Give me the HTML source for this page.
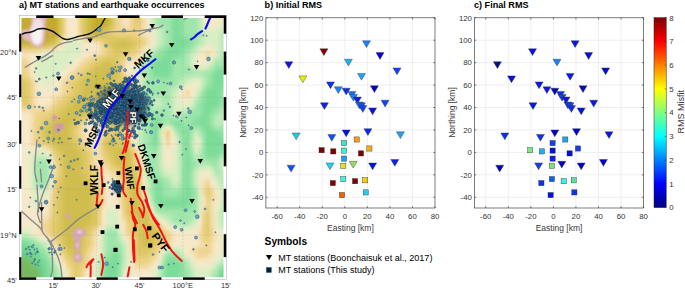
<!DOCTYPE html>
<html><head><meta charset="utf-8"><style>
html,body{margin:0;padding:0;background:#fff;}
body{width:685px;height:288px;overflow:hidden;position:relative;}
svg{position:absolute;left:0;top:0;}
text{font-family:"Liberation Sans",sans-serif;}
.ti{font-weight:bold;font-size:9.1px;fill:#000;}
.tk{font-size:7.8px;fill:#333;}
.lb{font-size:8.5px;fill:#3a3a3a;}
.sy{font-weight:bold;font-size:10.2px;fill:#000;}
.lg{font-size:9.05px;fill:#000;}
.mt{font-size:7.5px;fill:#333;}
</style></head><body>
<svg width="685" height="288" viewBox="0 0 685 288">
<defs><filter id="tb" x="-5%" y="-5%" width="110%" height="110%"><feGaussianBlur stdDeviation="1.6"/></filter><filter id="pb" x="-20%" y="-20%" width="140%" height="140%"><feGaussianBlur stdDeviation="0.85"/></filter><filter id="cb" x="-20%" y="-20%" width="140%" height="140%"><feGaussianBlur stdDeviation="2.5"/></filter><clipPath id="mc"><rect x="21.5" y="18.0" width="202.0" height="259.2"/></clipPath></defs><rect x="19" y="15.2" width="207.3" height="264.7" fill="#fff"/><rect x="19.0" y="277.2" width="17.2" height="2.8" fill="#000"/><rect x="36.2" y="15.2" width="17.3" height="2.8" fill="#000"/><rect x="53.5" y="277.2" width="21.7" height="2.8" fill="#000"/><rect x="75.2" y="15.2" width="21.4" height="2.8" fill="#000"/><rect x="96.6" y="277.2" width="21.2" height="2.8" fill="#000"/><rect x="117.8" y="15.2" width="21.7" height="2.8" fill="#000"/><rect x="139.5" y="277.2" width="21.9" height="2.8" fill="#000"/><rect x="161.4" y="15.2" width="21.6" height="2.8" fill="#000"/><rect x="183.0" y="277.2" width="21.7" height="2.8" fill="#000"/><rect x="204.7" y="15.2" width="21.6" height="2.8" fill="#000"/><rect x="223.5" y="18.0" width="2.8" height="15.7" fill="#000"/><rect x="19" y="33.7" width="2.6" height="17.9" fill="#000"/><rect x="223.5" y="51.6" width="2.8" height="23.0" fill="#000"/><rect x="19" y="74.6" width="2.6" height="22.5" fill="#000"/><rect x="223.5" y="97.1" width="2.8" height="23.3" fill="#000"/><rect x="19" y="120.4" width="2.6" height="23.3" fill="#000"/><rect x="223.5" y="143.8" width="2.8" height="22.5" fill="#000"/><rect x="19" y="166.2" width="2.6" height="22.5" fill="#000"/><rect x="223.5" y="188.8" width="2.8" height="23.2" fill="#000"/><rect x="19" y="211.9" width="2.6" height="22.3" fill="#000"/><rect x="223.5" y="234.2" width="2.8" height="22.9" fill="#000"/><rect x="19" y="257.2" width="2.6" height="20.0" fill="#000"/><rect x="19.15" y="15.35" width="207" height="264.4" fill="none" stroke="#777" stroke-width="0.35"/><g clip-path="url(#mc)"><g filter="url(#tb)"><path d="M14 262h4v4h-4zM18 262h4v4h-4zM22 262h4v4h-4zM26 262h4v4h-4zM14 266h4v4h-4zM18 266h4v4h-4zM22 266h4v4h-4zM26 266h4v4h-4zM14 270h4v4h-4zM18 270h4v4h-4zM22 270h4v4h-4zM26 270h4v4h-4zM30 270h4v4h-4zM34 270h4v4h-4zM14 274h4v4h-4zM18 274h4v4h-4zM22 274h4v4h-4zM26 274h4v4h-4zM30 274h4v4h-4zM34 274h4v4h-4zM226 274h4v4h-4zM230 274h4v4h-4zM14 278h4v4h-4zM18 278h4v4h-4zM22 278h4v4h-4zM26 278h4v4h-4zM30 278h4v4h-4zM34 278h4v4h-4zM226 278h4v4h-4zM230 278h4v4h-4zM14 282h4v4h-4zM18 282h4v4h-4zM22 282h4v4h-4zM26 282h4v4h-4zM30 282h4v4h-4zM34 282h4v4h-4zM226 282h4v4h-4zM230 282h4v4h-4z" fill="#78b95f"/><path d="M14 258h4v4h-4zM18 258h4v4h-4zM22 258h4v4h-4zM30 266h4v4h-4zM226 270h4v4h-4zM230 270h4v4h-4z" fill="#76be69"/><path d="M26 258h4v4h-4zM30 262h4v4h-4zM34 266h4v4h-4zM38 274h4v4h-4zM38 278h4v4h-4zM38 282h4v4h-4z" fill="#73c373"/><path d="M14 254h4v4h-4zM18 254h4v4h-4zM22 254h4v4h-4zM26 254h4v4h-4zM30 258h4v4h-4zM34 262h4v4h-4zM38 270h4v4h-4z" fill="#70c87d"/><path d="M14 250h4v4h-4zM18 250h4v4h-4zM22 250h4v4h-4zM38 266h4v4h-4zM222 274h4v4h-4zM222 278h4v4h-4zM222 282h4v4h-4z" fill="#6ecd87"/><path d="M26 250h4v4h-4zM30 254h4v4h-4zM34 258h4v4h-4zM38 262h4v4h-4zM222 270h4v4h-4z" fill="#71d18b"/><path d="M14 246h4v4h-4zM18 246h4v4h-4zM22 246h4v4h-4zM26 246h4v4h-4zM30 250h4v4h-4zM34 254h4v4h-4zM38 258h4v4h-4zM42 266h4v4h-4zM226 266h4v4h-4zM230 266h4v4h-4zM42 270h4v4h-4zM42 274h4v4h-4zM42 278h4v4h-4zM42 282h4v4h-4z" fill="#74d490"/><path d="M42 262h4v4h-4z" fill="#77d894"/><path d="M174 10h4v4h-4zM174 14h4v4h-4zM174 18h4v4h-4zM174 22h4v4h-4zM174 26h4v4h-4zM174 30h4v4h-4zM174 34h4v4h-4zM174 38h4v4h-4zM178 38h4v4h-4zM174 42h4v4h-4zM178 42h4v4h-4zM182 42h4v4h-4zM174 46h4v4h-4zM166 50h4v4h-4zM170 50h4v4h-4zM174 50h4v4h-4zM166 54h4v4h-4zM162 58h4v4h-4zM166 58h4v4h-4zM154 62h4v4h-4zM158 62h4v4h-4zM162 62h4v4h-4zM166 62h4v4h-4zM154 66h4v4h-4zM158 66h4v4h-4zM162 66h4v4h-4zM166 66h4v4h-4zM154 70h4v4h-4zM158 70h4v4h-4zM162 70h4v4h-4zM166 70h4v4h-4zM218 70h4v4h-4zM222 70h4v4h-4zM226 70h4v4h-4zM230 70h4v4h-4zM214 74h4v4h-4zM218 74h4v4h-4zM222 74h4v4h-4zM226 74h4v4h-4zM230 74h4v4h-4zM214 78h4v4h-4zM218 78h4v4h-4zM222 78h4v4h-4zM226 78h4v4h-4zM230 78h4v4h-4zM214 82h4v4h-4zM218 82h4v4h-4zM222 82h4v4h-4zM226 82h4v4h-4zM230 82h4v4h-4zM214 86h4v4h-4zM206 90h4v4h-4zM210 90h4v4h-4zM214 90h4v4h-4zM206 94h4v4h-4zM210 94h4v4h-4zM214 94h4v4h-4zM206 98h4v4h-4zM210 98h4v4h-4zM214 98h4v4h-4zM206 102h4v4h-4zM210 102h4v4h-4zM214 102h4v4h-4zM206 106h4v4h-4zM206 110h4v4h-4zM202 118h4v4h-4zM154 122h4v4h-4zM202 122h4v4h-4zM154 126h4v4h-4zM206 126h4v4h-4zM154 130h4v4h-4zM206 130h4v4h-4zM210 130h4v4h-4zM154 134h4v4h-4zM206 134h4v4h-4zM210 134h4v4h-4zM214 134h4v4h-4zM154 138h4v4h-4zM206 138h4v4h-4zM210 138h4v4h-4zM214 138h4v4h-4zM218 138h4v4h-4zM206 142h4v4h-4zM210 142h4v4h-4zM214 142h4v4h-4zM218 142h4v4h-4zM222 142h4v4h-4zM226 142h4v4h-4zM230 142h4v4h-4zM206 146h4v4h-4zM210 146h4v4h-4zM214 146h4v4h-4zM206 150h4v4h-4zM210 150h4v4h-4zM214 150h4v4h-4zM186 162h4v4h-4zM186 190h4v4h-4zM186 194h4v4h-4zM158 198h4v4h-4zM182 198h4v4h-4zM186 198h4v4h-4zM158 202h4v4h-4zM162 202h4v4h-4zM166 202h4v4h-4zM170 202h4v4h-4zM174 202h4v4h-4zM178 202h4v4h-4zM182 202h4v4h-4zM14 242h4v4h-4zM18 242h4v4h-4zM22 242h4v4h-4zM26 242h4v4h-4zM30 246h4v4h-4zM34 250h4v4h-4zM38 254h4v4h-4zM114 254h4v4h-4zM42 258h4v4h-4zM114 258h4v4h-4zM106 262h4v4h-4zM110 262h4v4h-4zM114 262h4v4h-4zM166 262h4v4h-4zM170 262h4v4h-4zM174 262h4v4h-4zM106 266h4v4h-4zM110 266h4v4h-4zM114 266h4v4h-4zM166 266h4v4h-4zM170 266h4v4h-4zM174 266h4v4h-4zM222 266h4v4h-4zM46 270h4v4h-4zM106 270h4v4h-4zM110 270h4v4h-4zM114 270h4v4h-4zM166 270h4v4h-4zM170 270h4v4h-4zM174 270h4v4h-4zM46 274h4v4h-4zM106 274h4v4h-4zM110 274h4v4h-4zM114 274h4v4h-4zM166 274h4v4h-4zM170 274h4v4h-4zM174 274h4v4h-4zM218 274h4v4h-4zM46 278h4v4h-4zM106 278h4v4h-4zM110 278h4v4h-4zM114 278h4v4h-4zM166 278h4v4h-4zM170 278h4v4h-4zM174 278h4v4h-4zM218 278h4v4h-4zM46 282h4v4h-4zM106 282h4v4h-4zM110 282h4v4h-4zM114 282h4v4h-4zM166 282h4v4h-4zM170 282h4v4h-4zM174 282h4v4h-4zM218 282h4v4h-4z" fill="#7adc98"/><path d="M178 10h4v4h-4zM178 14h4v4h-4zM178 18h4v4h-4zM178 22h4v4h-4zM178 26h4v4h-4zM178 30h4v4h-4zM178 34h4v4h-4zM182 38h4v4h-4zM186 38h4v4h-4zM186 42h4v4h-4zM170 46h4v4h-4zM178 46h4v4h-4zM182 46h4v4h-4zM178 50h4v4h-4zM162 54h4v4h-4zM170 54h4v4h-4zM174 54h4v4h-4zM158 58h4v4h-4zM170 58h4v4h-4zM214 70h4v4h-4zM154 74h4v4h-4zM158 74h4v4h-4zM162 74h4v4h-4zM166 74h4v4h-4zM210 86h4v4h-4zM218 86h4v4h-4zM222 86h4v4h-4zM218 90h4v4h-4zM218 94h4v4h-4zM218 98h4v4h-4zM202 102h4v4h-4zM202 106h4v4h-4zM210 106h4v4h-4zM202 110h4v4h-4zM202 114h4v4h-4zM206 114h4v4h-4zM154 118h4v4h-4zM194 118h4v4h-4zM198 118h4v4h-4zM206 118h4v4h-4zM174 122h4v4h-4zM178 122h4v4h-4zM194 122h4v4h-4zM198 122h4v4h-4zM206 122h4v4h-4zM202 126h4v4h-4zM182 130h4v4h-4zM186 130h4v4h-4zM214 130h4v4h-4zM186 134h4v4h-4zM218 134h4v4h-4zM186 138h4v4h-4zM222 138h4v4h-4zM226 138h4v4h-4zM230 138h4v4h-4zM154 142h4v4h-4zM186 142h4v4h-4zM186 146h4v4h-4zM218 146h4v4h-4zM222 146h4v4h-4zM186 150h4v4h-4zM218 150h4v4h-4zM186 154h4v4h-4zM206 154h4v4h-4zM210 154h4v4h-4zM214 154h4v4h-4zM186 158h4v4h-4zM186 166h4v4h-4zM186 170h4v4h-4zM186 174h4v4h-4zM186 178h4v4h-4zM154 182h4v4h-4zM158 182h4v4h-4zM186 182h4v4h-4zM154 186h4v4h-4zM158 186h4v4h-4zM186 186h4v4h-4zM154 190h4v4h-4zM158 190h4v4h-4zM182 190h4v4h-4zM154 194h4v4h-4zM158 194h4v4h-4zM182 194h4v4h-4zM154 198h4v4h-4zM162 198h4v4h-4zM166 198h4v4h-4zM170 198h4v4h-4zM174 198h4v4h-4zM178 198h4v4h-4zM186 202h4v4h-4zM114 250h4v4h-4zM110 254h4v4h-4zM106 258h4v4h-4zM110 258h4v4h-4zM166 258h4v4h-4zM170 258h4v4h-4zM174 258h4v4h-4zM46 262h4v4h-4zM178 262h4v4h-4zM46 266h4v4h-4zM178 266h4v4h-4zM178 270h4v4h-4zM218 270h4v4h-4zM178 274h4v4h-4zM178 278h4v4h-4zM178 282h4v4h-4z" fill="#84de9d"/><path d="M170 10h4v4h-4zM170 14h4v4h-4zM170 18h4v4h-4zM170 22h4v4h-4zM170 26h4v4h-4zM170 30h4v4h-4zM170 34h4v4h-4zM182 34h4v4h-4zM170 38h4v4h-4zM170 42h4v4h-4zM190 42h4v4h-4zM166 46h4v4h-4zM186 46h4v4h-4zM162 50h4v4h-4zM158 54h4v4h-4zM178 54h4v4h-4zM154 58h4v4h-4zM150 62h4v4h-4zM170 62h4v4h-4zM150 66h4v4h-4zM170 66h4v4h-4zM218 66h4v4h-4zM222 66h4v4h-4zM226 66h4v4h-4zM230 66h4v4h-4zM150 70h4v4h-4zM170 70h4v4h-4zM210 74h4v4h-4zM210 78h4v4h-4zM210 82h4v4h-4zM206 86h4v4h-4zM226 86h4v4h-4zM230 86h4v4h-4zM202 94h4v4h-4zM202 98h4v4h-4zM218 102h4v4h-4zM214 106h4v4h-4zM210 110h4v4h-4zM198 114h4v4h-4zM158 118h4v4h-4zM150 122h4v4h-4zM158 122h4v4h-4zM190 122h4v4h-4zM150 126h4v4h-4zM178 126h4v4h-4zM182 126h4v4h-4zM186 126h4v4h-4zM210 126h4v4h-4zM150 130h4v4h-4zM202 130h4v4h-4zM218 130h4v4h-4zM150 134h4v4h-4zM182 134h4v4h-4zM222 134h4v4h-4zM150 138h4v4h-4zM182 138h4v4h-4zM150 142h4v4h-4zM182 142h4v4h-4zM154 146h4v4h-4zM182 146h4v4h-4zM226 146h4v4h-4zM230 146h4v4h-4zM182 150h4v4h-4zM182 154h4v4h-4zM182 158h4v4h-4zM182 162h4v4h-4zM190 162h4v4h-4zM182 166h4v4h-4zM182 170h4v4h-4zM182 174h4v4h-4zM154 178h4v4h-4zM158 178h4v4h-4zM182 178h4v4h-4zM182 182h4v4h-4zM182 186h4v4h-4zM190 190h4v4h-4zM162 194h4v4h-4zM178 194h4v4h-4zM190 194h4v4h-4zM190 198h4v4h-4zM154 202h4v4h-4zM190 202h4v4h-4zM158 206h4v4h-4zM162 206h4v4h-4zM166 206h4v4h-4zM170 206h4v4h-4zM174 206h4v4h-4zM178 206h4v4h-4zM182 206h4v4h-4zM186 206h4v4h-4zM14 238h4v4h-4zM18 238h4v4h-4zM22 238h4v4h-4zM30 242h4v4h-4zM34 246h4v4h-4zM114 246h4v4h-4zM38 250h4v4h-4zM110 250h4v4h-4zM42 254h4v4h-4zM118 254h4v4h-4zM46 258h4v4h-4zM118 258h4v4h-4zM102 262h4v4h-4zM102 266h4v4h-4zM50 270h4v4h-4zM102 270h4v4h-4zM50 274h4v4h-4zM102 274h4v4h-4zM162 274h4v4h-4zM50 278h4v4h-4zM102 278h4v4h-4zM162 278h4v4h-4zM50 282h4v4h-4zM102 282h4v4h-4zM162 282h4v4h-4z" fill="#8de1a2"/><path d="M182 10h4v4h-4zM182 14h4v4h-4zM182 18h4v4h-4zM182 22h4v4h-4zM182 26h4v4h-4zM182 30h4v4h-4zM186 34h4v4h-4zM190 34h4v4h-4zM190 38h4v4h-4zM166 42h4v4h-4zM162 46h4v4h-4zM158 50h4v4h-4zM182 50h4v4h-4zM154 54h4v4h-4zM182 54h4v4h-4zM150 58h4v4h-4zM174 58h4v4h-4zM178 58h4v4h-4zM214 66h4v4h-4zM210 70h4v4h-4zM150 74h4v4h-4zM170 74h4v4h-4zM150 78h4v4h-4zM154 78h4v4h-4zM158 78h4v4h-4zM162 78h4v4h-4zM166 78h4v4h-4zM170 78h4v4h-4zM206 82h4v4h-4zM202 90h4v4h-4zM222 90h4v4h-4zM222 94h4v4h-4zM222 98h4v4h-4zM198 102h4v4h-4zM222 102h4v4h-4zM198 106h4v4h-4zM218 106h4v4h-4zM198 110h4v4h-4zM214 110h4v4h-4zM150 114h4v4h-4zM154 114h4v4h-4zM158 114h4v4h-4zM190 114h4v4h-4zM194 114h4v4h-4zM210 114h4v4h-4zM150 118h4v4h-4zM162 118h4v4h-4zM170 118h4v4h-4zM174 118h4v4h-4zM178 118h4v4h-4zM190 118h4v4h-4zM210 118h4v4h-4zM170 122h4v4h-4zM182 122h4v4h-4zM186 122h4v4h-4zM174 126h4v4h-4zM190 126h4v4h-4zM198 126h4v4h-4zM178 130h4v4h-4zM222 130h4v4h-4zM202 134h4v4h-4zM226 134h4v4h-4zM230 134h4v4h-4zM202 138h4v4h-4zM202 142h4v4h-4zM150 146h4v4h-4zM202 146h4v4h-4zM202 150h4v4h-4zM222 150h4v4h-4zM190 154h4v4h-4zM202 154h4v4h-4zM218 154h4v4h-4zM190 158h4v4h-4zM206 158h4v4h-4zM210 158h4v4h-4zM214 158h4v4h-4zM190 166h4v4h-4zM154 174h4v4h-4zM162 182h4v4h-4zM162 186h4v4h-4zM190 186h4v4h-4zM162 190h4v4h-4zM178 190h4v4h-4zM166 194h4v4h-4zM170 194h4v4h-4zM174 194h4v4h-4zM190 206h4v4h-4zM26 238h4v4h-4zM34 242h4v4h-4zM38 246h4v4h-4zM110 246h4v4h-4zM42 250h4v4h-4zM118 250h4v4h-4zM106 254h4v4h-4zM166 254h4v4h-4zM170 254h4v4h-4zM174 254h4v4h-4zM178 258h4v4h-4zM118 262h4v4h-4zM162 262h4v4h-4zM182 262h4v4h-4zM226 262h4v4h-4zM230 262h4v4h-4zM50 266h4v4h-4zM118 266h4v4h-4zM162 266h4v4h-4zM182 266h4v4h-4zM118 270h4v4h-4zM162 270h4v4h-4zM182 270h4v4h-4zM182 274h4v4h-4zM182 278h4v4h-4zM182 282h4v4h-4z" fill="#96e4a7"/><path d="M158 10h4v4h-4zM162 10h4v4h-4zM166 10h4v4h-4zM186 10h4v4h-4zM190 10h4v4h-4zM194 10h4v4h-4zM158 14h4v4h-4zM162 14h4v4h-4zM166 14h4v4h-4zM186 14h4v4h-4zM190 14h4v4h-4zM194 14h4v4h-4zM158 18h4v4h-4zM162 18h4v4h-4zM166 18h4v4h-4zM186 18h4v4h-4zM190 18h4v4h-4zM194 18h4v4h-4zM158 22h4v4h-4zM162 22h4v4h-4zM166 22h4v4h-4zM186 22h4v4h-4zM190 22h4v4h-4zM194 22h4v4h-4zM166 26h4v4h-4zM186 26h4v4h-4zM190 26h4v4h-4zM194 26h4v4h-4zM166 30h4v4h-4zM186 30h4v4h-4zM190 30h4v4h-4zM194 30h4v4h-4zM226 30h4v4h-4zM230 30h4v4h-4zM166 34h4v4h-4zM194 34h4v4h-4zM226 34h4v4h-4zM230 34h4v4h-4zM166 38h4v4h-4zM194 38h4v4h-4zM226 38h4v4h-4zM230 38h4v4h-4zM194 42h4v4h-4zM226 42h4v4h-4zM230 42h4v4h-4zM190 46h4v4h-4zM226 46h4v4h-4zM230 46h4v4h-4zM186 50h4v4h-4zM226 50h4v4h-4zM230 50h4v4h-4zM226 54h4v4h-4zM230 54h4v4h-4zM182 58h4v4h-4zM222 58h4v4h-4zM226 58h4v4h-4zM230 58h4v4h-4zM146 62h4v4h-4zM174 62h4v4h-4zM178 62h4v4h-4zM182 62h4v4h-4zM214 62h4v4h-4zM218 62h4v4h-4zM222 62h4v4h-4zM226 62h4v4h-4zM230 62h4v4h-4zM146 66h4v4h-4zM174 66h4v4h-4zM178 66h4v4h-4zM182 66h4v4h-4zM186 66h4v4h-4zM146 70h4v4h-4zM174 70h4v4h-4zM178 70h4v4h-4zM182 70h4v4h-4zM186 70h4v4h-4zM190 70h4v4h-4zM206 70h4v4h-4zM146 74h4v4h-4zM174 74h4v4h-4zM178 74h4v4h-4zM206 74h4v4h-4zM146 78h4v4h-4zM174 78h4v4h-4zM206 78h4v4h-4zM146 82h4v4h-4zM150 82h4v4h-4zM154 82h4v4h-4zM158 82h4v4h-4zM162 82h4v4h-4zM166 82h4v4h-4zM170 82h4v4h-4zM174 82h4v4h-4zM146 86h4v4h-4zM150 86h4v4h-4zM154 86h4v4h-4zM158 86h4v4h-4zM162 86h4v4h-4zM166 86h4v4h-4zM202 86h4v4h-4zM146 90h4v4h-4zM150 90h4v4h-4zM154 90h4v4h-4zM158 90h4v4h-4zM162 90h4v4h-4zM166 90h4v4h-4zM226 90h4v4h-4zM230 90h4v4h-4zM146 94h4v4h-4zM162 94h4v4h-4zM166 94h4v4h-4zM226 94h4v4h-4zM230 94h4v4h-4zM146 98h4v4h-4zM166 98h4v4h-4zM198 98h4v4h-4zM226 98h4v4h-4zM230 98h4v4h-4zM146 102h4v4h-4zM166 102h4v4h-4zM226 102h4v4h-4zM230 102h4v4h-4zM146 106h4v4h-4zM166 106h4v4h-4zM194 106h4v4h-4zM146 110h4v4h-4zM150 110h4v4h-4zM154 110h4v4h-4zM158 110h4v4h-4zM162 110h4v4h-4zM166 110h4v4h-4zM190 110h4v4h-4zM194 110h4v4h-4zM146 114h4v4h-4zM162 114h4v4h-4zM166 114h4v4h-4zM182 114h4v4h-4zM186 114h4v4h-4zM146 118h4v4h-4zM166 118h4v4h-4zM182 118h4v4h-4zM186 118h4v4h-4zM146 122h4v4h-4zM162 122h4v4h-4zM210 122h4v4h-4zM226 122h4v4h-4zM230 122h4v4h-4zM146 126h4v4h-4zM158 126h4v4h-4zM194 126h4v4h-4zM214 126h4v4h-4zM218 126h4v4h-4zM222 126h4v4h-4zM226 126h4v4h-4zM230 126h4v4h-4zM146 130h4v4h-4zM190 130h4v4h-4zM226 130h4v4h-4zM230 130h4v4h-4zM146 134h4v4h-4zM178 134h4v4h-4zM146 138h4v4h-4zM146 142h4v4h-4zM146 146h4v4h-4zM146 150h4v4h-4zM150 150h4v4h-4zM154 150h4v4h-4zM190 150h4v4h-4zM226 150h4v4h-4zM230 150h4v4h-4zM146 154h4v4h-4zM150 154h4v4h-4zM154 154h4v4h-4zM146 158h4v4h-4zM150 158h4v4h-4zM154 158h4v4h-4zM198 158h4v4h-4zM202 158h4v4h-4zM38 162h4v4h-4zM42 162h4v4h-4zM146 162h4v4h-4zM150 162h4v4h-4zM154 162h4v4h-4zM194 162h4v4h-4zM210 162h4v4h-4zM214 162h4v4h-4zM38 166h4v4h-4zM42 166h4v4h-4zM146 166h4v4h-4zM150 166h4v4h-4zM154 166h4v4h-4zM214 166h4v4h-4zM38 170h4v4h-4zM42 170h4v4h-4zM146 170h4v4h-4zM150 170h4v4h-4zM154 170h4v4h-4zM190 170h4v4h-4zM38 174h4v4h-4zM42 174h4v4h-4zM150 174h4v4h-4zM158 174h4v4h-4zM190 174h4v4h-4zM38 178h4v4h-4zM42 178h4v4h-4zM150 178h4v4h-4zM162 178h4v4h-4zM190 178h4v4h-4zM38 182h4v4h-4zM42 182h4v4h-4zM150 182h4v4h-4zM166 182h4v4h-4zM190 182h4v4h-4zM226 182h4v4h-4zM230 182h4v4h-4zM150 186h4v4h-4zM166 186h4v4h-4zM178 186h4v4h-4zM226 186h4v4h-4zM230 186h4v4h-4zM150 190h4v4h-4zM166 190h4v4h-4zM170 190h4v4h-4zM174 190h4v4h-4zM194 190h4v4h-4zM226 190h4v4h-4zM230 190h4v4h-4zM194 194h4v4h-4zM226 194h4v4h-4zM230 194h4v4h-4zM194 198h4v4h-4zM226 198h4v4h-4zM230 198h4v4h-4zM194 202h4v4h-4zM226 202h4v4h-4zM230 202h4v4h-4zM154 206h4v4h-4zM194 206h4v4h-4zM226 206h4v4h-4zM230 206h4v4h-4zM158 210h4v4h-4zM162 210h4v4h-4zM166 210h4v4h-4zM170 210h4v4h-4zM174 210h4v4h-4zM178 210h4v4h-4zM182 210h4v4h-4zM186 210h4v4h-4zM190 210h4v4h-4zM194 210h4v4h-4zM226 210h4v4h-4zM230 210h4v4h-4zM174 214h4v4h-4zM178 214h4v4h-4zM182 214h4v4h-4zM186 214h4v4h-4zM226 214h4v4h-4zM230 214h4v4h-4zM174 218h4v4h-4zM178 218h4v4h-4zM182 218h4v4h-4zM186 218h4v4h-4zM226 218h4v4h-4zM230 218h4v4h-4zM226 222h4v4h-4zM230 222h4v4h-4zM106 230h4v4h-4zM110 230h4v4h-4zM114 230h4v4h-4zM106 234h4v4h-4zM110 234h4v4h-4zM114 234h4v4h-4zM30 238h4v4h-4zM106 238h4v4h-4zM110 238h4v4h-4zM114 238h4v4h-4zM106 242h4v4h-4zM110 242h4v4h-4zM114 242h4v4h-4zM106 246h4v4h-4zM118 246h4v4h-4zM106 250h4v4h-4zM46 254h4v4h-4zM102 258h4v4h-4zM50 262h4v4h-4zM222 262h4v4h-4zM218 266h4v4h-4zM54 270h4v4h-4zM186 270h4v4h-4zM54 274h4v4h-4zM118 274h4v4h-4zM186 274h4v4h-4zM214 274h4v4h-4zM54 278h4v4h-4zM118 278h4v4h-4zM186 278h4v4h-4zM214 278h4v4h-4zM54 282h4v4h-4zM118 282h4v4h-4zM186 282h4v4h-4zM214 282h4v4h-4z" fill="#a0e6ac"/><path d="M154 10h4v4h-4zM154 14h4v4h-4zM154 18h4v4h-4zM154 22h4v4h-4zM158 26h4v4h-4zM162 26h4v4h-4zM162 30h4v4h-4zM198 30h4v4h-4zM162 34h4v4h-4zM198 34h4v4h-4zM222 34h4v4h-4zM162 38h4v4h-4zM198 38h4v4h-4zM222 38h4v4h-4zM162 42h4v4h-4zM222 42h4v4h-4zM158 46h4v4h-4zM222 46h4v4h-4zM154 50h4v4h-4zM222 50h4v4h-4zM150 54h4v4h-4zM186 54h4v4h-4zM222 54h4v4h-4zM146 58h4v4h-4zM186 58h4v4h-4zM218 58h4v4h-4zM186 62h4v4h-4zM210 66h4v4h-4zM142 70h4v4h-4zM194 70h4v4h-4zM198 70h4v4h-4zM202 70h4v4h-4zM182 74h4v4h-4zM186 74h4v4h-4zM202 74h4v4h-4zM178 78h4v4h-4zM170 86h4v4h-4zM142 90h4v4h-4zM142 94h4v4h-4zM150 94h4v4h-4zM154 94h4v4h-4zM158 94h4v4h-4zM198 94h4v4h-4zM142 98h4v4h-4zM150 98h4v4h-4zM162 98h4v4h-4zM142 102h4v4h-4zM162 102h4v4h-4zM194 102h4v4h-4zM142 106h4v4h-4zM150 106h4v4h-4zM158 106h4v4h-4zM162 106h4v4h-4zM222 106h4v4h-4zM142 110h4v4h-4zM186 110h4v4h-4zM218 110h4v4h-4zM142 114h4v4h-4zM170 114h4v4h-4zM174 114h4v4h-4zM178 114h4v4h-4zM214 114h4v4h-4zM142 118h4v4h-4zM226 118h4v4h-4zM230 118h4v4h-4zM142 122h4v4h-4zM166 122h4v4h-4zM222 122h4v4h-4zM142 126h4v4h-4zM142 130h4v4h-4zM174 130h4v4h-4zM198 130h4v4h-4zM142 134h4v4h-4zM190 134h4v4h-4zM142 138h4v4h-4zM158 138h4v4h-4zM178 138h4v4h-4zM190 138h4v4h-4zM142 142h4v4h-4zM158 142h4v4h-4zM190 146h4v4h-4zM198 154h4v4h-4zM222 154h4v4h-4zM38 158h4v4h-4zM42 158h4v4h-4zM194 158h4v4h-4zM218 158h4v4h-4zM34 162h4v4h-4zM46 162h4v4h-4zM198 162h4v4h-4zM202 162h4v4h-4zM206 162h4v4h-4zM34 166h4v4h-4zM46 166h4v4h-4zM194 166h4v4h-4zM34 170h4v4h-4zM46 170h4v4h-4zM158 170h4v4h-4zM214 170h4v4h-4zM218 170h4v4h-4zM34 174h4v4h-4zM46 174h4v4h-4zM146 174h4v4h-4zM34 178h4v4h-4zM46 178h4v4h-4zM166 178h4v4h-4zM226 178h4v4h-4zM230 178h4v4h-4zM34 182h4v4h-4zM178 182h4v4h-4zM222 182h4v4h-4zM170 186h4v4h-4zM194 186h4v4h-4zM150 194h4v4h-4zM150 198h4v4h-4zM222 210h4v4h-4zM166 214h4v4h-4zM170 214h4v4h-4zM190 214h4v4h-4zM194 214h4v4h-4zM222 214h4v4h-4zM170 218h4v4h-4zM190 218h4v4h-4zM222 218h4v4h-4zM174 222h4v4h-4zM178 222h4v4h-4zM182 222h4v4h-4zM186 222h4v4h-4zM38 242h4v4h-4zM118 242h4v4h-4zM42 246h4v4h-4zM46 250h4v4h-4zM166 250h4v4h-4zM170 250h4v4h-4zM174 250h4v4h-4zM102 254h4v4h-4zM178 254h4v4h-4zM50 258h4v4h-4zM162 258h4v4h-4zM182 258h4v4h-4zM226 258h4v4h-4zM230 258h4v4h-4zM186 262h4v4h-4zM54 266h4v4h-4zM186 266h4v4h-4zM214 270h4v4h-4z" fill="#aee8b2"/><path d="M198 10h4v4h-4zM198 14h4v4h-4zM198 18h4v4h-4zM198 22h4v4h-4zM198 26h4v4h-4zM226 26h4v4h-4zM230 26h4v4h-4zM222 30h4v4h-4zM158 42h4v4h-4zM198 42h4v4h-4zM194 46h4v4h-4zM190 50h4v4h-4zM146 54h4v4h-4zM218 54h4v4h-4zM214 58h4v4h-4zM142 62h4v4h-4zM142 66h4v4h-4zM190 66h4v4h-4zM142 74h4v4h-4zM190 74h4v4h-4zM194 74h4v4h-4zM198 74h4v4h-4zM142 78h4v4h-4zM182 78h4v4h-4zM202 78h4v4h-4zM142 82h4v4h-4zM178 82h4v4h-4zM202 82h4v4h-4zM142 86h4v4h-4zM174 86h4v4h-4zM170 90h4v4h-4zM198 90h4v4h-4zM170 94h4v4h-4zM158 98h4v4h-4zM170 98h4v4h-4zM194 98h4v4h-4zM150 102h4v4h-4zM170 102h4v4h-4zM154 106h4v4h-4zM170 106h4v4h-4zM190 106h4v4h-4zM226 106h4v4h-4zM230 106h4v4h-4zM170 110h4v4h-4zM182 110h4v4h-4zM222 110h4v4h-4zM218 114h4v4h-4zM222 114h4v4h-4zM214 118h4v4h-4zM218 118h4v4h-4zM222 118h4v4h-4zM214 122h4v4h-4zM218 122h4v4h-4zM158 130h4v4h-4zM158 134h4v4h-4zM198 134h4v4h-4zM178 142h4v4h-4zM190 142h4v4h-4zM142 146h4v4h-4zM158 146h4v4h-4zM178 146h4v4h-4zM158 150h4v4h-4zM178 150h4v4h-4zM198 150h4v4h-4zM158 154h4v4h-4zM178 154h4v4h-4zM194 154h4v4h-4zM226 154h4v4h-4zM230 154h4v4h-4zM34 158h4v4h-4zM46 158h4v4h-4zM158 158h4v4h-4zM178 158h4v4h-4zM158 162h4v4h-4zM178 162h4v4h-4zM218 162h4v4h-4zM158 166h4v4h-4zM178 166h4v4h-4zM210 166h4v4h-4zM218 166h4v4h-4zM178 170h4v4h-4zM162 174h4v4h-4zM178 174h4v4h-4zM214 174h4v4h-4zM218 174h4v4h-4zM222 174h4v4h-4zM146 178h4v4h-4zM178 178h4v4h-4zM218 178h4v4h-4zM222 178h4v4h-4zM46 182h4v4h-4zM170 182h4v4h-4zM38 186h4v4h-4zM42 186h4v4h-4zM174 186h4v4h-4zM222 186h4v4h-4zM222 190h4v4h-4zM222 194h4v4h-4zM222 198h4v4h-4zM222 202h4v4h-4zM222 206h4v4h-4zM154 210h4v4h-4zM162 214h4v4h-4zM222 222h4v4h-4zM106 226h4v4h-4zM110 226h4v4h-4zM114 226h4v4h-4zM226 226h4v4h-4zM230 226h4v4h-4zM14 234h4v4h-4zM18 234h4v4h-4zM22 234h4v4h-4zM26 234h4v4h-4zM102 234h4v4h-4zM34 238h4v4h-4zM102 238h4v4h-4zM118 238h4v4h-4zM42 242h4v4h-4zM102 242h4v4h-4zM102 246h4v4h-4zM122 246h4v4h-4zM102 250h4v4h-4zM122 250h4v4h-4zM122 254h4v4h-4zM162 254h4v4h-4zM122 258h4v4h-4zM222 258h4v4h-4zM98 262h4v4h-4zM122 262h4v4h-4zM218 262h4v4h-4zM98 266h4v4h-4zM214 266h4v4h-4zM98 270h4v4h-4zM158 270h4v4h-4zM190 270h4v4h-4zM210 270h4v4h-4zM58 274h4v4h-4zM98 274h4v4h-4zM158 274h4v4h-4zM190 274h4v4h-4zM210 274h4v4h-4zM58 278h4v4h-4zM98 278h4v4h-4zM158 278h4v4h-4zM190 278h4v4h-4zM210 278h4v4h-4zM58 282h4v4h-4zM98 282h4v4h-4zM158 282h4v4h-4zM190 282h4v4h-4zM210 282h4v4h-4z" fill="#bdeab8"/><path d="M154 26h4v4h-4zM222 26h4v4h-4zM158 30h4v4h-4zM202 30h4v4h-4zM218 30h4v4h-4zM158 34h4v4h-4zM202 34h4v4h-4zM218 34h4v4h-4zM158 38h4v4h-4zM202 38h4v4h-4zM218 38h4v4h-4zM202 42h4v4h-4zM218 42h4v4h-4zM154 46h4v4h-4zM218 46h4v4h-4zM150 50h4v4h-4zM194 50h4v4h-4zM218 50h4v4h-4zM190 54h4v4h-4zM190 58h4v4h-4zM210 62h4v4h-4zM206 66h4v4h-4zM138 70h4v4h-4zM186 78h4v4h-4zM182 82h4v4h-4zM138 90h4v4h-4zM174 90h4v4h-4zM138 94h4v4h-4zM138 98h4v4h-4zM154 98h4v4h-4zM138 102h4v4h-4zM154 102h4v4h-4zM158 102h4v4h-4zM138 106h4v4h-4zM138 110h4v4h-4zM178 110h4v4h-4zM138 114h4v4h-4zM226 114h4v4h-4zM230 114h4v4h-4zM138 118h4v4h-4zM138 122h4v4h-4zM138 126h4v4h-4zM170 126h4v4h-4zM138 130h4v4h-4zM194 130h4v4h-4zM138 134h4v4h-4zM174 134h4v4h-4zM138 138h4v4h-4zM138 142h4v4h-4zM198 146h4v4h-4zM142 150h4v4h-4zM34 154h4v4h-4zM38 154h4v4h-4zM42 154h4v4h-4zM198 166h4v4h-4zM202 166h4v4h-4zM162 170h4v4h-4zM194 170h4v4h-4zM222 170h4v4h-4zM166 174h4v4h-4zM170 174h4v4h-4zM194 174h4v4h-4zM226 174h4v4h-4zM230 174h4v4h-4zM170 178h4v4h-4zM194 178h4v4h-4zM146 182h4v4h-4zM174 182h4v4h-4zM194 182h4v4h-4zM218 182h4v4h-4zM34 186h4v4h-4zM46 186h4v4h-4zM146 186h4v4h-4zM146 190h4v4h-4zM150 202h4v4h-4zM218 210h4v4h-4zM158 214h4v4h-4zM218 214h4v4h-4zM166 218h4v4h-4zM194 218h4v4h-4zM218 218h4v4h-4zM170 222h4v4h-4zM190 222h4v4h-4zM218 222h4v4h-4zM222 226h4v4h-4zM102 230h4v4h-4zM118 234h4v4h-4zM122 242h4v4h-4zM46 246h4v4h-4zM178 250h4v4h-4zM50 254h4v4h-4zM226 254h4v4h-4zM230 254h4v4h-4zM98 258h4v4h-4zM186 258h4v4h-4zM54 262h4v4h-4zM122 266h4v4h-4zM158 266h4v4h-4zM190 266h4v4h-4zM58 270h4v4h-4z" fill="#ccecbe"/><path d="M150 10h4v4h-4zM226 10h4v4h-4zM230 10h4v4h-4zM150 14h4v4h-4zM226 14h4v4h-4zM230 14h4v4h-4zM150 18h4v4h-4zM226 18h4v4h-4zM230 18h4v4h-4zM150 22h4v4h-4zM226 22h4v4h-4zM230 22h4v4h-4zM202 26h4v4h-4zM154 30h4v4h-4zM206 30h4v4h-4zM210 30h4v4h-4zM214 30h4v4h-4zM206 34h4v4h-4zM210 34h4v4h-4zM214 34h4v4h-4zM206 38h4v4h-4zM210 38h4v4h-4zM214 38h4v4h-4zM66 42h4v4h-4zM70 42h4v4h-4zM74 42h4v4h-4zM154 42h4v4h-4zM210 42h4v4h-4zM214 42h4v4h-4zM66 46h4v4h-4zM70 46h4v4h-4zM74 46h4v4h-4zM198 46h4v4h-4zM214 46h4v4h-4zM62 50h4v4h-4zM66 50h4v4h-4zM70 50h4v4h-4zM74 50h4v4h-4zM146 50h4v4h-4zM46 54h4v4h-4zM50 54h4v4h-4zM54 54h4v4h-4zM58 54h4v4h-4zM62 54h4v4h-4zM66 54h4v4h-4zM214 54h4v4h-4zM42 58h4v4h-4zM46 58h4v4h-4zM50 58h4v4h-4zM54 58h4v4h-4zM58 58h4v4h-4zM62 58h4v4h-4zM66 58h4v4h-4zM142 58h4v4h-4zM38 62h4v4h-4zM42 62h4v4h-4zM46 62h4v4h-4zM50 62h4v4h-4zM54 62h4v4h-4zM58 62h4v4h-4zM62 62h4v4h-4zM190 62h4v4h-4zM38 66h4v4h-4zM42 66h4v4h-4zM46 66h4v4h-4zM50 66h4v4h-4zM54 66h4v4h-4zM138 66h4v4h-4zM194 66h4v4h-4zM198 66h4v4h-4zM202 66h4v4h-4zM38 70h4v4h-4zM42 70h4v4h-4zM46 70h4v4h-4zM50 70h4v4h-4zM54 70h4v4h-4zM42 74h4v4h-4zM46 74h4v4h-4zM138 74h4v4h-4zM46 78h4v4h-4zM190 78h4v4h-4zM198 78h4v4h-4zM138 86h4v4h-4zM178 86h4v4h-4zM198 86h4v4h-4zM174 94h4v4h-4zM194 94h4v4h-4zM174 98h4v4h-4zM174 102h4v4h-4zM190 102h4v4h-4zM174 106h4v4h-4zM178 106h4v4h-4zM182 106h4v4h-4zM186 106h4v4h-4zM174 110h4v4h-4zM226 110h4v4h-4zM230 110h4v4h-4zM162 126h4v4h-4zM194 134h4v4h-4zM174 138h4v4h-4zM198 138h4v4h-4zM198 142h4v4h-4zM174 150h4v4h-4zM194 150h4v4h-4zM46 154h4v4h-4zM142 154h4v4h-4zM174 154h4v4h-4zM142 158h4v4h-4zM174 158h4v4h-4zM222 158h4v4h-4zM30 162h4v4h-4zM142 162h4v4h-4zM174 162h4v4h-4zM30 166h4v4h-4zM142 166h4v4h-4zM162 166h4v4h-4zM174 166h4v4h-4zM206 166h4v4h-4zM222 166h4v4h-4zM30 170h4v4h-4zM166 170h4v4h-4zM170 170h4v4h-4zM174 170h4v4h-4zM210 170h4v4h-4zM226 170h4v4h-4zM230 170h4v4h-4zM30 174h4v4h-4zM174 174h4v4h-4zM30 178h4v4h-4zM174 178h4v4h-4zM214 178h4v4h-4zM30 182h4v4h-4zM218 186h4v4h-4zM34 190h4v4h-4zM38 190h4v4h-4zM42 190h4v4h-4zM34 194h4v4h-4zM38 194h4v4h-4zM146 194h4v4h-4zM198 194h4v4h-4zM34 198h4v4h-4zM198 198h4v4h-4zM198 202h4v4h-4zM198 206h4v4h-4zM218 206h4v4h-4zM106 210h4v4h-4zM110 210h4v4h-4zM114 210h4v4h-4zM106 214h4v4h-4zM110 214h4v4h-4zM114 214h4v4h-4zM106 218h4v4h-4zM110 218h4v4h-4zM114 218h4v4h-4zM162 218h4v4h-4zM106 222h4v4h-4zM110 222h4v4h-4zM114 222h4v4h-4zM166 222h4v4h-4zM194 222h4v4h-4zM174 226h4v4h-4zM178 226h4v4h-4zM182 226h4v4h-4zM186 226h4v4h-4zM14 230h4v4h-4zM18 230h4v4h-4zM22 230h4v4h-4zM118 230h4v4h-4zM226 230h4v4h-4zM230 230h4v4h-4zM30 234h4v4h-4zM226 234h4v4h-4zM230 234h4v4h-4zM38 238h4v4h-4zM122 238h4v4h-4zM226 238h4v4h-4zM230 238h4v4h-4zM46 242h4v4h-4zM226 242h4v4h-4zM230 242h4v4h-4zM174 246h4v4h-4zM226 246h4v4h-4zM230 246h4v4h-4zM50 250h4v4h-4zM226 250h4v4h-4zM230 250h4v4h-4zM98 254h4v4h-4zM182 254h4v4h-4zM222 254h4v4h-4zM54 258h4v4h-4zM218 258h4v4h-4zM158 262h4v4h-4zM190 262h4v4h-4zM214 262h4v4h-4zM58 266h4v4h-4zM210 266h4v4h-4zM94 270h4v4h-4zM122 270h4v4h-4zM194 270h4v4h-4zM198 270h4v4h-4zM202 270h4v4h-4zM206 270h4v4h-4zM94 274h4v4h-4zM122 274h4v4h-4zM154 274h4v4h-4zM194 274h4v4h-4zM198 274h4v4h-4zM202 274h4v4h-4zM206 274h4v4h-4zM94 278h4v4h-4zM122 278h4v4h-4zM154 278h4v4h-4zM194 278h4v4h-4zM198 278h4v4h-4zM202 278h4v4h-4zM206 278h4v4h-4zM94 282h4v4h-4zM122 282h4v4h-4zM154 282h4v4h-4zM194 282h4v4h-4zM198 282h4v4h-4zM202 282h4v4h-4zM206 282h4v4h-4z" fill="#daeec4"/><path d="M222 10h4v4h-4zM222 14h4v4h-4zM222 18h4v4h-4zM202 22h4v4h-4zM222 22h4v4h-4zM150 26h4v4h-4zM218 26h4v4h-4zM154 34h4v4h-4zM66 38h4v4h-4zM70 38h4v4h-4zM74 38h4v4h-4zM154 38h4v4h-4zM78 42h4v4h-4zM206 42h4v4h-4zM78 46h4v4h-4zM150 46h4v4h-4zM54 50h4v4h-4zM58 50h4v4h-4zM78 50h4v4h-4zM214 50h4v4h-4zM42 54h4v4h-4zM70 54h4v4h-4zM74 54h4v4h-4zM142 54h4v4h-4zM194 54h4v4h-4zM38 58h4v4h-4zM70 58h4v4h-4zM210 58h4v4h-4zM34 62h4v4h-4zM66 62h4v4h-4zM138 62h4v4h-4zM34 66h4v4h-4zM58 66h4v4h-4zM62 66h4v4h-4zM34 70h4v4h-4zM58 70h4v4h-4zM134 70h4v4h-4zM38 74h4v4h-4zM50 74h4v4h-4zM54 74h4v4h-4zM42 78h4v4h-4zM50 78h4v4h-4zM138 78h4v4h-4zM194 78h4v4h-4zM42 82h4v4h-4zM46 82h4v4h-4zM138 82h4v4h-4zM186 82h4v4h-4zM198 82h4v4h-4zM134 90h4v4h-4zM194 90h4v4h-4zM134 94h4v4h-4zM134 98h4v4h-4zM190 98h4v4h-4zM134 102h4v4h-4zM178 102h4v4h-4zM134 106h4v4h-4zM134 110h4v4h-4zM134 114h4v4h-4zM134 118h4v4h-4zM134 122h4v4h-4zM134 126h4v4h-4zM134 130h4v4h-4zM134 134h4v4h-4zM134 138h4v4h-4zM174 142h4v4h-4zM174 146h4v4h-4zM194 146h4v4h-4zM34 150h4v4h-4zM38 150h4v4h-4zM42 150h4v4h-4zM30 154h4v4h-4zM30 158h4v4h-4zM162 162h4v4h-4zM222 162h4v4h-4zM170 166h4v4h-4zM142 170h4v4h-4zM198 170h4v4h-4zM210 174h4v4h-4zM214 182h4v4h-4zM30 186h4v4h-4zM46 190h4v4h-4zM198 190h4v4h-4zM218 190h4v4h-4zM42 194h4v4h-4zM38 198h4v4h-4zM34 202h4v4h-4zM38 202h4v4h-4zM218 202h4v4h-4zM198 210h4v4h-4zM154 214h4v4h-4zM214 214h4v4h-4zM214 218h4v4h-4zM102 226h4v4h-4zM118 226h4v4h-4zM190 226h4v4h-4zM218 226h4v4h-4zM26 230h4v4h-4zM222 230h4v4h-4zM34 234h4v4h-4zM222 234h4v4h-4zM42 238h4v4h-4zM222 238h4v4h-4zM126 242h4v4h-4zM222 242h4v4h-4zM126 246h4v4h-4zM170 246h4v4h-4zM178 246h4v4h-4zM222 246h4v4h-4zM126 250h4v4h-4zM162 250h4v4h-4zM222 250h4v4h-4zM126 254h4v4h-4zM126 258h4v4h-4zM94 262h4v4h-4zM126 262h4v4h-4zM94 266h4v4h-4zM194 266h4v4h-4zM154 270h4v4h-4z" fill="#e2ecc6"/><path d="M202 10h4v4h-4zM202 14h4v4h-4zM202 18h4v4h-4zM218 22h4v4h-4zM206 26h4v4h-4zM210 26h4v4h-4zM214 26h4v4h-4zM150 30h4v4h-4zM62 46h4v4h-4zM202 46h4v4h-4zM210 46h4v4h-4zM46 50h4v4h-4zM50 50h4v4h-4zM198 50h4v4h-4zM38 54h4v4h-4zM78 54h4v4h-4zM34 58h4v4h-4zM194 58h4v4h-4zM70 62h4v4h-4zM194 62h4v4h-4zM206 62h4v4h-4zM66 66h4v4h-4zM134 66h4v4h-4zM130 70h4v4h-4zM34 74h4v4h-4zM58 74h4v4h-4zM134 74h4v4h-4zM38 78h4v4h-4zM50 82h4v4h-4zM190 82h4v4h-4zM46 86h4v4h-4zM182 86h4v4h-4zM194 86h4v4h-4zM178 90h4v4h-4zM178 94h4v4h-4zM178 98h4v4h-4zM182 102h4v4h-4zM186 102h4v4h-4zM194 138h4v4h-4zM134 142h4v4h-4zM194 142h4v4h-4zM138 146h4v4h-4zM162 146h4v4h-4zM30 150h4v4h-4zM46 150h4v4h-4zM162 150h4v4h-4zM170 150h4v4h-4zM162 154h4v4h-4zM170 154h4v4h-4zM162 158h4v4h-4zM170 158h4v4h-4zM226 158h4v4h-4zM230 158h4v4h-4zM50 162h4v4h-4zM170 162h4v4h-4zM50 166h4v4h-4zM166 166h4v4h-4zM226 166h4v4h-4zM230 166h4v4h-4zM50 170h4v4h-4zM202 170h4v4h-4zM206 170h4v4h-4zM142 174h4v4h-4zM198 174h4v4h-4zM198 178h4v4h-4zM198 182h4v4h-4zM198 186h4v4h-4zM30 190h4v4h-4zM30 194h4v4h-4zM46 194h4v4h-4zM218 194h4v4h-4zM30 198h4v4h-4zM42 198h4v4h-4zM146 198h4v4h-4zM218 198h4v4h-4zM30 202h4v4h-4zM34 206h4v4h-4zM106 206h4v4h-4zM110 206h4v4h-4zM114 206h4v4h-4zM150 206h4v4h-4zM214 210h4v4h-4zM198 214h4v4h-4zM118 222h4v4h-4zM214 222h4v4h-4zM14 226h4v4h-4zM18 226h4v4h-4zM22 226h4v4h-4zM26 226h4v4h-4zM170 226h4v4h-4zM194 226h4v4h-4zM30 230h4v4h-4zM98 230h4v4h-4zM218 230h4v4h-4zM98 234h4v4h-4zM98 238h4v4h-4zM98 242h4v4h-4zM50 246h4v4h-4zM98 246h4v4h-4zM166 246h4v4h-4zM98 250h4v4h-4zM182 250h4v4h-4zM54 254h4v4h-4zM186 254h4v4h-4zM218 254h4v4h-4zM94 258h4v4h-4zM158 258h4v4h-4zM190 258h4v4h-4zM214 258h4v4h-4zM58 262h4v4h-4zM210 262h4v4h-4zM126 266h4v4h-4zM154 266h4v4h-4zM198 266h4v4h-4zM202 266h4v4h-4zM206 266h4v4h-4zM62 270h4v4h-4zM90 270h4v4h-4zM150 270h4v4h-4zM62 274h4v4h-4zM90 274h4v4h-4zM150 274h4v4h-4zM62 278h4v4h-4zM90 278h4v4h-4zM150 278h4v4h-4zM62 282h4v4h-4zM90 282h4v4h-4zM150 282h4v4h-4z" fill="#e9ebc7"/><path d="M146 10h4v4h-4zM218 10h4v4h-4zM146 14h4v4h-4zM218 14h4v4h-4zM146 18h4v4h-4zM218 18h4v4h-4zM146 22h4v4h-4zM146 26h4v4h-4zM66 34h4v4h-4zM70 34h4v4h-4zM74 34h4v4h-4zM150 34h4v4h-4zM78 38h4v4h-4zM150 38h4v4h-4zM62 42h4v4h-4zM82 42h4v4h-4zM150 42h4v4h-4zM82 46h4v4h-4zM146 46h4v4h-4zM42 50h4v4h-4zM82 50h4v4h-4zM142 50h4v4h-4zM34 54h4v4h-4zM198 54h4v4h-4zM210 54h4v4h-4zM74 58h4v4h-4zM138 58h4v4h-4zM198 62h4v4h-4zM202 62h4v4h-4zM130 66h4v4h-4zM62 70h4v4h-4zM54 78h4v4h-4zM134 78h4v4h-4zM38 82h4v4h-4zM194 82h4v4h-4zM38 86h4v4h-4zM42 86h4v4h-4zM50 86h4v4h-4zM134 86h4v4h-4zM190 86h4v4h-4zM190 94h4v4h-4zM166 126h4v4h-4zM170 130h4v4h-4zM162 142h4v4h-4zM170 146h4v4h-4zM26 154h4v4h-4zM26 158h4v4h-4zM50 158h4v4h-4zM26 162h4v4h-4zM166 162h4v4h-4zM26 166h4v4h-4zM26 170h4v4h-4zM26 174h4v4h-4zM50 174h4v4h-4zM26 178h4v4h-4zM50 178h4v4h-4zM210 178h4v4h-4zM26 182h4v4h-4zM26 186h4v4h-4zM214 186h4v4h-4zM42 202h4v4h-4zM30 206h4v4h-4zM38 206h4v4h-4zM42 206h4v4h-4zM214 206h4v4h-4zM118 214h4v4h-4zM118 218h4v4h-4zM158 218h4v4h-4zM198 218h4v4h-4zM102 222h4v4h-4zM162 222h4v4h-4zM30 226h4v4h-4zM214 226h4v4h-4zM178 230h4v4h-4zM182 230h4v4h-4zM186 230h4v4h-4zM190 230h4v4h-4zM38 234h4v4h-4zM122 234h4v4h-4zM218 234h4v4h-4zM46 238h4v4h-4zM126 238h4v4h-4zM218 238h4v4h-4zM178 242h4v4h-4zM218 242h4v4h-4zM182 246h4v4h-4zM218 246h4v4h-4zM218 250h4v4h-4zM94 254h4v4h-4zM158 254h4v4h-4zM214 254h4v4h-4zM210 258h4v4h-4zM194 262h4v4h-4zM206 262h4v4h-4zM90 266h4v4h-4z" fill="#f0eac8"/><path d="M66 10h4v4h-4zM70 10h4v4h-4zM74 10h4v4h-4zM206 10h4v4h-4zM210 10h4v4h-4zM214 10h4v4h-4zM66 14h4v4h-4zM70 14h4v4h-4zM74 14h4v4h-4zM206 14h4v4h-4zM210 14h4v4h-4zM214 14h4v4h-4zM66 18h4v4h-4zM70 18h4v4h-4zM74 18h4v4h-4zM206 18h4v4h-4zM210 18h4v4h-4zM214 18h4v4h-4zM66 22h4v4h-4zM70 22h4v4h-4zM74 22h4v4h-4zM206 22h4v4h-4zM210 22h4v4h-4zM214 22h4v4h-4zM66 26h4v4h-4zM70 26h4v4h-4zM74 26h4v4h-4zM66 30h4v4h-4zM70 30h4v4h-4zM74 30h4v4h-4zM146 30h4v4h-4zM86 42h4v4h-4zM90 42h4v4h-4zM94 42h4v4h-4zM58 46h4v4h-4zM86 46h4v4h-4zM90 46h4v4h-4zM94 46h4v4h-4zM206 46h4v4h-4zM86 50h4v4h-4zM90 50h4v4h-4zM94 50h4v4h-4zM210 50h4v4h-4zM30 54h4v4h-4zM82 54h4v4h-4zM138 54h4v4h-4zM30 58h4v4h-4zM78 58h4v4h-4zM198 58h4v4h-4zM202 58h4v4h-4zM206 58h4v4h-4zM30 62h4v4h-4zM74 62h4v4h-4zM126 62h4v4h-4zM130 62h4v4h-4zM134 62h4v4h-4zM30 66h4v4h-4zM70 66h4v4h-4zM126 66h4v4h-4zM30 70h4v4h-4zM66 70h4v4h-4zM126 70h4v4h-4zM62 74h4v4h-4zM130 74h4v4h-4zM34 78h4v4h-4zM58 78h4v4h-4zM54 82h4v4h-4zM134 82h4v4h-4zM54 86h4v4h-4zM186 86h4v4h-4zM38 90h4v4h-4zM42 90h4v4h-4zM46 90h4v4h-4zM50 90h4v4h-4zM54 90h4v4h-4zM130 90h4v4h-4zM190 90h4v4h-4zM38 94h4v4h-4zM42 94h4v4h-4zM46 94h4v4h-4zM130 94h4v4h-4zM38 98h4v4h-4zM42 98h4v4h-4zM46 98h4v4h-4zM130 98h4v4h-4zM182 98h4v4h-4zM186 98h4v4h-4zM38 102h4v4h-4zM42 102h4v4h-4zM130 102h4v4h-4zM130 106h4v4h-4zM130 110h4v4h-4zM14 114h4v4h-4zM18 114h4v4h-4zM22 114h4v4h-4zM26 114h4v4h-4zM130 114h4v4h-4zM14 118h4v4h-4zM18 118h4v4h-4zM22 118h4v4h-4zM26 118h4v4h-4zM130 118h4v4h-4zM14 122h4v4h-4zM18 122h4v4h-4zM22 122h4v4h-4zM26 122h4v4h-4zM86 122h4v4h-4zM90 122h4v4h-4zM94 122h4v4h-4zM130 122h4v4h-4zM14 126h4v4h-4zM18 126h4v4h-4zM22 126h4v4h-4zM26 126h4v4h-4zM86 126h4v4h-4zM90 126h4v4h-4zM94 126h4v4h-4zM130 126h4v4h-4zM14 130h4v4h-4zM18 130h4v4h-4zM22 130h4v4h-4zM26 130h4v4h-4zM86 130h4v4h-4zM90 130h4v4h-4zM94 130h4v4h-4zM130 130h4v4h-4zM14 134h4v4h-4zM18 134h4v4h-4zM22 134h4v4h-4zM26 134h4v4h-4zM86 134h4v4h-4zM90 134h4v4h-4zM94 134h4v4h-4zM170 134h4v4h-4zM14 138h4v4h-4zM18 138h4v4h-4zM22 138h4v4h-4zM26 138h4v4h-4zM86 138h4v4h-4zM90 138h4v4h-4zM94 138h4v4h-4zM162 138h4v4h-4zM170 138h4v4h-4zM14 142h4v4h-4zM18 142h4v4h-4zM22 142h4v4h-4zM26 142h4v4h-4zM90 142h4v4h-4zM94 142h4v4h-4zM170 142h4v4h-4zM14 146h4v4h-4zM18 146h4v4h-4zM22 146h4v4h-4zM26 146h4v4h-4zM30 146h4v4h-4zM34 146h4v4h-4zM94 146h4v4h-4zM14 150h4v4h-4zM18 150h4v4h-4zM22 150h4v4h-4zM26 150h4v4h-4zM138 150h4v4h-4zM166 150h4v4h-4zM14 154h4v4h-4zM18 154h4v4h-4zM22 154h4v4h-4zM138 154h4v4h-4zM166 154h4v4h-4zM14 158h4v4h-4zM18 158h4v4h-4zM22 158h4v4h-4zM138 158h4v4h-4zM166 158h4v4h-4zM14 162h4v4h-4zM18 162h4v4h-4zM22 162h4v4h-4zM226 162h4v4h-4zM230 162h4v4h-4zM14 166h4v4h-4zM18 166h4v4h-4zM22 166h4v4h-4zM14 170h4v4h-4zM18 170h4v4h-4zM22 170h4v4h-4zM14 174h4v4h-4zM18 174h4v4h-4zM22 174h4v4h-4zM106 174h4v4h-4zM202 174h4v4h-4zM206 174h4v4h-4zM14 178h4v4h-4zM18 178h4v4h-4zM22 178h4v4h-4zM106 178h4v4h-4zM142 178h4v4h-4zM14 182h4v4h-4zM18 182h4v4h-4zM22 182h4v4h-4zM50 182h4v4h-4zM106 182h4v4h-4zM110 182h4v4h-4zM114 182h4v4h-4zM210 182h4v4h-4zM14 186h4v4h-4zM18 186h4v4h-4zM22 186h4v4h-4zM106 186h4v4h-4zM110 186h4v4h-4zM114 186h4v4h-4zM14 190h4v4h-4zM18 190h4v4h-4zM22 190h4v4h-4zM26 190h4v4h-4zM106 190h4v4h-4zM110 190h4v4h-4zM114 190h4v4h-4zM214 190h4v4h-4zM14 194h4v4h-4zM18 194h4v4h-4zM22 194h4v4h-4zM26 194h4v4h-4zM106 194h4v4h-4zM110 194h4v4h-4zM114 194h4v4h-4zM14 198h4v4h-4zM18 198h4v4h-4zM22 198h4v4h-4zM26 198h4v4h-4zM46 198h4v4h-4zM106 198h4v4h-4zM110 198h4v4h-4zM114 198h4v4h-4zM14 202h4v4h-4zM18 202h4v4h-4zM22 202h4v4h-4zM26 202h4v4h-4zM106 202h4v4h-4zM110 202h4v4h-4zM114 202h4v4h-4zM146 202h4v4h-4zM214 202h4v4h-4zM14 206h4v4h-4zM18 206h4v4h-4zM22 206h4v4h-4zM26 206h4v4h-4zM14 210h4v4h-4zM18 210h4v4h-4zM22 210h4v4h-4zM26 210h4v4h-4zM30 210h4v4h-4zM34 210h4v4h-4zM38 210h4v4h-4zM42 210h4v4h-4zM102 210h4v4h-4zM118 210h4v4h-4zM14 214h4v4h-4zM18 214h4v4h-4zM22 214h4v4h-4zM26 214h4v4h-4zM30 214h4v4h-4zM34 214h4v4h-4zM38 214h4v4h-4zM102 214h4v4h-4zM14 218h4v4h-4zM18 218h4v4h-4zM22 218h4v4h-4zM26 218h4v4h-4zM30 218h4v4h-4zM34 218h4v4h-4zM102 218h4v4h-4zM14 222h4v4h-4zM18 222h4v4h-4zM22 222h4v4h-4zM26 222h4v4h-4zM30 222h4v4h-4zM34 222h4v4h-4zM198 222h4v4h-4zM34 226h4v4h-4zM166 226h4v4h-4zM34 230h4v4h-4zM174 230h4v4h-4zM194 230h4v4h-4zM214 230h4v4h-4zM42 234h4v4h-4zM174 234h4v4h-4zM178 234h4v4h-4zM182 234h4v4h-4zM186 234h4v4h-4zM190 234h4v4h-4zM194 234h4v4h-4zM174 238h4v4h-4zM178 238h4v4h-4zM182 238h4v4h-4zM186 238h4v4h-4zM190 238h4v4h-4zM194 238h4v4h-4zM50 242h4v4h-4zM174 242h4v4h-4zM182 242h4v4h-4zM186 242h4v4h-4zM190 242h4v4h-4zM194 242h4v4h-4zM214 242h4v4h-4zM162 246h4v4h-4zM186 246h4v4h-4zM214 246h4v4h-4zM54 250h4v4h-4zM94 250h4v4h-4zM186 250h4v4h-4zM214 250h4v4h-4zM190 254h4v4h-4zM58 258h4v4h-4zM90 262h4v4h-4zM130 262h4v4h-4zM154 262h4v4h-4zM198 262h4v4h-4zM202 262h4v4h-4zM62 266h4v4h-4zM130 266h4v4h-4zM150 266h4v4h-4zM86 270h4v4h-4zM126 270h4v4h-4zM130 270h4v4h-4zM134 270h4v4h-4zM138 270h4v4h-4zM142 270h4v4h-4zM146 270h4v4h-4zM86 274h4v4h-4zM126 274h4v4h-4zM130 274h4v4h-4zM134 274h4v4h-4zM138 274h4v4h-4zM142 274h4v4h-4zM146 274h4v4h-4zM86 278h4v4h-4zM126 278h4v4h-4zM130 278h4v4h-4zM134 278h4v4h-4zM138 278h4v4h-4zM142 278h4v4h-4zM146 278h4v4h-4zM86 282h4v4h-4zM126 282h4v4h-4zM130 282h4v4h-4zM134 282h4v4h-4zM138 282h4v4h-4zM142 282h4v4h-4zM146 282h4v4h-4z" fill="#f8e8ca"/><path d="M122 10h4v4h-4zM126 10h4v4h-4zM122 14h4v4h-4zM126 14h4v4h-4zM122 18h4v4h-4zM126 18h4v4h-4zM122 22h4v4h-4zM126 22h4v4h-4zM142 30h4v4h-4zM146 34h4v4h-4zM62 38h4v4h-4zM38 50h4v4h-4zM98 50h4v4h-4zM202 50h4v4h-4zM14 54h4v4h-4zM18 54h4v4h-4zM22 54h4v4h-4zM26 54h4v4h-4zM86 54h4v4h-4zM202 54h4v4h-4zM134 58h4v4h-4zM30 74h4v4h-4zM34 82h4v4h-4zM58 82h4v4h-4zM34 86h4v4h-4zM58 86h4v4h-4zM34 90h4v4h-4zM58 90h4v4h-4zM182 90h4v4h-4zM34 94h4v4h-4zM50 94h4v4h-4zM54 94h4v4h-4zM182 94h4v4h-4zM34 98h4v4h-4zM50 98h4v4h-4zM34 102h4v4h-4zM46 102h4v4h-4zM14 110h4v4h-4zM18 110h4v4h-4zM22 110h4v4h-4zM26 110h4v4h-4zM82 130h4v4h-4zM98 130h4v4h-4zM162 130h4v4h-4zM130 134h4v4h-4zM162 134h4v4h-4zM130 138h4v4h-4zM86 142h4v4h-4zM38 146h4v4h-4zM42 146h4v4h-4zM134 146h4v4h-4zM166 146h4v4h-4zM94 150h4v4h-4zM50 154h4v4h-4zM94 154h4v4h-4zM94 158h4v4h-4zM94 162h4v4h-4zM98 162h4v4h-4zM138 162h4v4h-4zM102 170h4v4h-4zM106 170h4v4h-4zM102 174h4v4h-4zM110 174h4v4h-4zM102 178h4v4h-4zM110 178h4v4h-4zM114 178h4v4h-4zM202 178h4v4h-4zM102 182h4v4h-4zM142 182h4v4h-4zM50 186h4v4h-4zM142 186h4v4h-4zM142 190h4v4h-4zM214 194h4v4h-4zM202 198h4v4h-4zM214 198h4v4h-4zM46 202h4v4h-4zM202 202h4v4h-4zM46 206h4v4h-4zM102 206h4v4h-4zM118 206h4v4h-4zM46 210h4v4h-4zM150 210h4v4h-4zM42 214h4v4h-4zM38 218h4v4h-4zM38 222h4v4h-4zM122 222h4v4h-4zM38 226h4v4h-4zM98 226h4v4h-4zM122 226h4v4h-4zM198 226h4v4h-4zM38 230h4v4h-4zM122 230h4v4h-4zM170 230h4v4h-4zM94 234h4v4h-4zM214 234h4v4h-4zM94 238h4v4h-4zM214 238h4v4h-4zM94 242h4v4h-4zM170 242h4v4h-4zM198 242h4v4h-4zM54 246h4v4h-4zM94 246h4v4h-4zM190 246h4v4h-4zM158 250h4v4h-4zM58 254h4v4h-4zM90 254h4v4h-4zM130 254h4v4h-4zM210 254h4v4h-4zM90 258h4v4h-4zM130 258h4v4h-4zM194 258h4v4h-4zM198 258h4v4h-4zM202 258h4v4h-4zM206 258h4v4h-4zM62 262h4v4h-4zM86 266h4v4h-4zM66 270h4v4h-4zM66 274h4v4h-4zM66 278h4v4h-4zM66 282h4v4h-4z" fill="#f6e3ba"/><path d="M142 10h4v4h-4zM142 14h4v4h-4zM142 18h4v4h-4zM142 22h4v4h-4zM126 26h4v4h-4zM142 26h4v4h-4zM78 34h4v4h-4zM142 34h4v4h-4zM82 38h4v4h-4zM146 38h4v4h-4zM98 42h4v4h-4zM146 42h4v4h-4zM54 46h4v4h-4zM98 46h4v4h-4zM142 46h4v4h-4zM14 50h4v4h-4zM18 50h4v4h-4zM22 50h4v4h-4zM26 50h4v4h-4zM30 50h4v4h-4zM34 50h4v4h-4zM138 50h4v4h-4zM206 50h4v4h-4zM90 54h4v4h-4zM94 54h4v4h-4zM206 54h4v4h-4zM26 58h4v4h-4zM82 58h4v4h-4zM126 58h4v4h-4zM130 58h4v4h-4zM78 62h4v4h-4zM74 66h4v4h-4zM70 70h4v4h-4zM66 74h4v4h-4zM126 74h4v4h-4zM62 78h4v4h-4zM130 78h4v4h-4zM130 86h4v4h-4zM58 94h4v4h-4zM186 94h4v4h-4zM50 102h4v4h-4zM34 106h4v4h-4zM38 106h4v4h-4zM42 106h4v4h-4zM46 106h4v4h-4zM30 110h4v4h-4zM30 114h4v4h-4zM30 118h4v4h-4zM30 122h4v4h-4zM82 122h4v4h-4zM98 122h4v4h-4zM30 126h4v4h-4zM82 126h4v4h-4zM98 126h4v4h-4zM30 130h4v4h-4zM30 134h4v4h-4zM82 134h4v4h-4zM98 134h4v4h-4zM30 138h4v4h-4zM82 138h4v4h-4zM30 142h4v4h-4zM90 146h4v4h-4zM98 154h4v4h-4zM98 158h4v4h-4zM98 166h4v4h-4zM102 166h4v4h-4zM138 166h4v4h-4zM206 178h4v4h-4zM118 182h4v4h-4zM202 182h4v4h-4zM102 186h4v4h-4zM118 186h4v4h-4zM202 186h4v4h-4zM210 186h4v4h-4zM50 190h4v4h-4zM102 190h4v4h-4zM118 190h4v4h-4zM102 194h4v4h-4zM118 194h4v4h-4zM142 194h4v4h-4zM202 194h4v4h-4zM102 198h4v4h-4zM118 198h4v4h-4zM102 202h4v4h-4zM118 202h4v4h-4zM210 202h4v4h-4zM202 206h4v4h-4zM210 206h4v4h-4zM210 210h4v4h-4zM46 214h4v4h-4zM210 214h4v4h-4zM42 218h4v4h-4zM122 218h4v4h-4zM154 218h4v4h-4zM210 218h4v4h-4zM158 222h4v4h-4zM210 222h4v4h-4zM162 226h4v4h-4zM94 230h4v4h-4zM198 230h4v4h-4zM46 234h4v4h-4zM126 234h4v4h-4zM170 234h4v4h-4zM198 234h4v4h-4zM50 238h4v4h-4zM170 238h4v4h-4zM198 238h4v4h-4zM130 242h4v4h-4zM166 242h4v4h-4zM210 242h4v4h-4zM130 246h4v4h-4zM194 246h4v4h-4zM210 246h4v4h-4zM90 250h4v4h-4zM130 250h4v4h-4zM190 250h4v4h-4zM210 250h4v4h-4zM194 254h4v4h-4zM206 254h4v4h-4zM154 258h4v4h-4zM150 262h4v4h-4zM134 266h4v4h-4zM138 266h4v4h-4zM142 266h4v4h-4zM146 266h4v4h-4zM82 274h4v4h-4zM82 278h4v4h-4zM82 282h4v4h-4z" fill="#f3deaa"/><path d="M118 10h4v4h-4zM118 14h4v4h-4zM118 18h4v4h-4zM118 22h4v4h-4zM118 26h4v4h-4zM122 26h4v4h-4zM138 30h4v4h-4zM62 34h4v4h-4zM102 50h4v4h-4zM134 54h4v4h-4zM14 58h4v4h-4zM18 58h4v4h-4zM22 58h4v4h-4zM86 58h4v4h-4zM26 62h4v4h-4zM82 62h4v4h-4zM122 62h4v4h-4zM26 66h4v4h-4zM78 66h4v4h-4zM122 66h4v4h-4zM26 70h4v4h-4zM74 70h4v4h-4zM122 70h4v4h-4zM70 74h4v4h-4zM30 78h4v4h-4zM66 78h4v4h-4zM62 82h4v4h-4zM62 86h4v4h-4zM62 90h4v4h-4zM186 90h4v4h-4zM126 94h4v4h-4zM54 98h4v4h-4zM126 98h4v4h-4zM126 102h4v4h-4zM30 106h4v4h-4zM126 106h4v4h-4zM34 110h4v4h-4zM126 110h4v4h-4zM126 114h4v4h-4zM86 118h4v4h-4zM90 118h4v4h-4zM94 118h4v4h-4zM126 118h4v4h-4zM126 122h4v4h-4zM126 126h4v4h-4zM78 130h4v4h-4zM102 130h4v4h-4zM126 130h4v4h-4zM98 138h4v4h-4zM34 142h4v4h-4zM82 142h4v4h-4zM98 142h4v4h-4zM130 142h4v4h-4zM166 142h4v4h-4zM46 146h4v4h-4zM98 146h4v4h-4zM50 150h4v4h-4zM98 150h4v4h-4zM54 162h4v4h-4zM102 162h4v4h-4zM54 166h4v4h-4zM94 166h4v4h-4zM106 166h4v4h-4zM54 170h4v4h-4zM98 170h4v4h-4zM110 170h4v4h-4zM138 170h4v4h-4zM98 174h4v4h-4zM114 174h4v4h-4zM98 178h4v4h-4zM98 182h4v4h-4zM202 190h4v4h-4zM50 194h4v4h-4zM210 194h4v4h-4zM50 198h4v4h-4zM142 198h4v4h-4zM210 198h4v4h-4zM202 210h4v4h-4zM46 218h4v4h-4zM42 222h4v4h-4zM42 226h4v4h-4zM210 226h4v4h-4zM42 230h4v4h-4zM166 230h4v4h-4zM210 234h4v4h-4zM130 238h4v4h-4zM210 238h4v4h-4zM54 242h4v4h-4zM202 242h4v4h-4zM90 246h4v4h-4zM198 246h4v4h-4zM202 246h4v4h-4zM58 250h4v4h-4zM194 250h4v4h-4zM86 254h4v4h-4zM154 254h4v4h-4zM198 254h4v4h-4zM202 254h4v4h-4zM62 258h4v4h-4zM86 258h4v4h-4zM150 258h4v4h-4zM86 262h4v4h-4zM134 262h4v4h-4zM146 262h4v4h-4zM66 266h4v4h-4zM82 270h4v4h-4z" fill="#f0d89a"/><path d="M78 10h4v4h-4zM130 10h4v4h-4zM78 14h4v4h-4zM130 14h4v4h-4zM78 18h4v4h-4zM130 18h4v4h-4zM78 22h4v4h-4zM130 22h4v4h-4zM78 26h4v4h-4zM130 26h4v4h-4zM138 26h4v4h-4zM78 30h4v4h-4zM114 30h4v4h-4zM118 30h4v4h-4zM122 30h4v4h-4zM126 30h4v4h-4zM130 30h4v4h-4zM134 30h4v4h-4zM138 34h4v4h-4zM86 38h4v4h-4zM90 38h4v4h-4zM142 38h4v4h-4zM58 42h4v4h-4zM50 46h4v4h-4zM102 46h4v4h-4zM138 46h4v4h-4zM98 54h4v4h-4zM130 54h4v4h-4zM90 58h4v4h-4zM122 58h4v4h-4zM14 62h4v4h-4zM18 62h4v4h-4zM22 62h4v4h-4zM14 66h4v4h-4zM18 66h4v4h-4zM22 66h4v4h-4zM14 70h4v4h-4zM18 70h4v4h-4zM22 70h4v4h-4zM26 74h4v4h-4zM30 82h4v4h-4zM66 82h4v4h-4zM130 82h4v4h-4zM30 86h4v4h-4zM66 86h4v4h-4zM30 90h4v4h-4zM66 90h4v4h-4zM126 90h4v4h-4zM30 94h4v4h-4zM62 94h4v4h-4zM30 98h4v4h-4zM58 98h4v4h-4zM30 102h4v4h-4zM54 102h4v4h-4zM14 106h4v4h-4zM18 106h4v4h-4zM22 106h4v4h-4zM26 106h4v4h-4zM50 106h4v4h-4zM38 110h4v4h-4zM42 110h4v4h-4zM46 110h4v4h-4zM34 114h4v4h-4zM38 114h4v4h-4zM34 118h4v4h-4zM98 118h4v4h-4zM34 122h4v4h-4zM34 126h4v4h-4zM78 126h4v4h-4zM102 126h4v4h-4zM34 130h4v4h-4zM34 134h4v4h-4zM78 134h4v4h-4zM102 134h4v4h-4zM126 134h4v4h-4zM34 138h4v4h-4zM166 138h4v4h-4zM38 142h4v4h-4zM86 146h4v4h-4zM90 150h4v4h-4zM134 150h4v4h-4zM90 154h4v4h-4zM54 158h4v4h-4zM90 158h4v4h-4zM102 158h4v4h-4zM90 162h4v4h-4zM106 162h4v4h-4zM94 170h4v4h-4zM114 170h4v4h-4zM54 174h4v4h-4zM138 174h4v4h-4zM118 178h4v4h-4zM206 182h4v4h-4zM98 186h4v4h-4zM210 190h4v4h-4zM50 202h4v4h-4zM142 202h4v4h-4zM206 202h4v4h-4zM50 206h4v4h-4zM146 206h4v4h-4zM50 210h4v4h-4zM98 214h4v4h-4zM122 214h4v4h-4zM150 214h4v4h-4zM202 214h4v4h-4zM98 218h4v4h-4zM202 218h4v4h-4zM46 222h4v4h-4zM98 222h4v4h-4zM126 222h4v4h-4zM46 226h4v4h-4zM126 226h4v4h-4zM46 230h4v4h-4zM126 230h4v4h-4zM210 230h4v4h-4zM50 234h4v4h-4zM90 234h4v4h-4zM166 234h4v4h-4zM90 238h4v4h-4zM166 238h4v4h-4zM202 238h4v4h-4zM90 242h4v4h-4zM162 242h4v4h-4zM206 242h4v4h-4zM58 246h4v4h-4zM158 246h4v4h-4zM206 246h4v4h-4zM86 250h4v4h-4zM198 250h4v4h-4zM202 250h4v4h-4zM206 250h4v4h-4zM62 254h4v4h-4zM134 258h4v4h-4zM66 262h4v4h-4zM138 262h4v4h-4zM142 262h4v4h-4zM82 266h4v4h-4zM70 270h4v4h-4zM70 274h4v4h-4zM70 278h4v4h-4zM70 282h4v4h-4z" fill="#eed38a"/><path d="M62 10h4v4h-4zM114 10h4v4h-4zM62 14h4v4h-4zM114 14h4v4h-4zM62 18h4v4h-4zM114 18h4v4h-4zM62 22h4v4h-4zM114 22h4v4h-4zM138 22h4v4h-4zM62 26h4v4h-4zM114 26h4v4h-4zM62 30h4v4h-4zM134 34h4v4h-4zM94 38h4v4h-4zM102 42h4v4h-4zM142 42h4v4h-4zM106 50h4v4h-4zM134 50h4v4h-4zM102 54h4v4h-4zM126 54h4v4h-4zM94 58h4v4h-4zM86 62h4v4h-4zM82 66h4v4h-4zM78 70h4v4h-4zM14 74h4v4h-4zM18 74h4v4h-4zM22 74h4v4h-4zM74 74h4v4h-4zM122 74h4v4h-4zM70 78h4v4h-4zM126 78h4v4h-4zM126 86h4v4h-4zM122 90h4v4h-4zM122 94h4v4h-4zM122 98h4v4h-4zM122 102h4v4h-4zM122 106h4v4h-4zM122 110h4v4h-4zM42 114h4v4h-4zM122 114h4v4h-4zM38 118h4v4h-4zM82 118h4v4h-4zM122 118h4v4h-4zM38 122h4v4h-4zM78 122h4v4h-4zM102 122h4v4h-4zM122 122h4v4h-4zM122 126h4v4h-4zM74 130h4v4h-4zM106 130h4v4h-4zM122 130h4v4h-4zM166 130h4v4h-4zM166 134h4v4h-4zM78 138h4v4h-4zM130 146h4v4h-4zM102 154h4v4h-4zM134 154h4v4h-4zM134 158h4v4h-4zM134 162h4v4h-4zM90 166h4v4h-4zM110 166h4v4h-4zM94 174h4v4h-4zM118 174h4v4h-4zM54 178h4v4h-4zM94 178h4v4h-4zM94 182h4v4h-4zM206 186h4v4h-4zM98 190h4v4h-4zM206 198h4v4h-4zM98 202h4v4h-4zM122 202h4v4h-4zM98 206h4v4h-4zM122 206h4v4h-4zM206 206h4v4h-4zM98 210h4v4h-4zM122 210h4v4h-4zM50 214h4v4h-4zM50 218h4v4h-4zM202 222h4v4h-4zM94 226h4v4h-4zM202 226h4v4h-4zM90 230h4v4h-4zM202 230h4v4h-4zM130 234h4v4h-4zM202 234h4v4h-4zM54 238h4v4h-4zM206 238h4v4h-4zM86 246h4v4h-4zM154 250h4v4h-4zM150 254h4v4h-4zM138 258h4v4h-4zM142 258h4v4h-4zM146 258h4v4h-4zM82 262h4v4h-4zM70 266h4v4h-4z" fill="#ead080"/><path d="M138 10h4v4h-4zM138 14h4v4h-4zM138 18h4v4h-4zM134 26h4v4h-4zM110 30h4v4h-4zM82 34h4v4h-4zM118 34h4v4h-4zM122 34h4v4h-4zM126 34h4v4h-4zM130 34h4v4h-4zM58 38h4v4h-4zM98 38h4v4h-4zM138 38h4v4h-4zM138 42h4v4h-4zM46 46h4v4h-4zM106 46h4v4h-4zM134 46h4v4h-4zM110 50h4v4h-4zM130 50h4v4h-4zM122 54h4v4h-4zM118 58h4v4h-4zM90 62h4v4h-4zM118 62h4v4h-4zM86 66h4v4h-4zM82 70h4v4h-4zM78 74h4v4h-4zM26 78h4v4h-4zM74 78h4v4h-4zM70 82h4v4h-4zM70 86h4v4h-4zM70 90h4v4h-4zM66 94h4v4h-4zM62 98h4v4h-4zM58 102h4v4h-4zM54 106h4v4h-4zM50 110h4v4h-4zM46 114h4v4h-4zM94 114h4v4h-4zM98 114h4v4h-4zM42 118h4v4h-4zM102 118h4v4h-4zM38 126h4v4h-4zM106 126h4v4h-4zM38 130h4v4h-4zM110 130h4v4h-4zM38 134h4v4h-4zM74 134h4v4h-4zM122 134h4v4h-4zM38 138h4v4h-4zM126 138h4v4h-4zM42 142h4v4h-4zM78 142h4v4h-4zM50 146h4v4h-4zM82 146h4v4h-4zM86 150h4v4h-4zM102 150h4v4h-4zM54 154h4v4h-4zM106 158h4v4h-4zM58 162h4v4h-4zM58 166h4v4h-4zM58 170h4v4h-4zM90 170h4v4h-4zM138 178h4v4h-4zM54 182h4v4h-4zM122 182h4v4h-4zM122 186h4v4h-4zM122 190h4v4h-4zM98 194h4v4h-4zM122 194h4v4h-4zM206 194h4v4h-4zM98 198h4v4h-4zM122 198h4v4h-4zM206 210h4v4h-4zM126 218h4v4h-4zM150 218h4v4h-4zM50 222h4v4h-4zM130 222h4v4h-4zM154 222h4v4h-4zM50 226h4v4h-4zM130 226h4v4h-4zM158 226h4v4h-4zM50 230h4v4h-4zM130 230h4v4h-4zM162 230h4v4h-4zM54 234h4v4h-4zM162 234h4v4h-4zM206 234h4v4h-4zM162 238h4v4h-4zM58 242h4v4h-4zM158 242h4v4h-4zM154 246h4v4h-4zM62 250h4v4h-4zM150 250h4v4h-4zM82 254h4v4h-4zM134 254h4v4h-4zM146 254h4v4h-4zM66 258h4v4h-4zM82 258h4v4h-4zM70 262h4v4h-4zM78 266h4v4h-4zM78 270h4v4h-4zM78 274h4v4h-4zM78 278h4v4h-4zM78 282h4v4h-4z" fill="#e6ce77"/><path d="M134 10h4v4h-4zM134 14h4v4h-4zM134 18h4v4h-4zM134 22h4v4h-4zM110 34h4v4h-4zM114 34h4v4h-4zM102 38h4v4h-4zM134 38h4v4h-4zM38 46h4v4h-4zM42 46h4v4h-4zM106 54h4v4h-4zM110 54h4v4h-4zM118 54h4v4h-4zM98 58h4v4h-4zM118 66h4v4h-4zM14 78h4v4h-4zM18 78h4v4h-4zM22 78h4v4h-4zM122 78h4v4h-4zM26 82h4v4h-4zM126 82h4v4h-4zM26 86h4v4h-4zM118 86h4v4h-4zM122 86h4v4h-4zM26 90h4v4h-4zM118 90h4v4h-4zM26 94h4v4h-4zM70 94h4v4h-4zM118 94h4v4h-4zM26 98h4v4h-4zM66 98h4v4h-4zM118 98h4v4h-4zM14 102h4v4h-4zM18 102h4v4h-4zM22 102h4v4h-4zM26 102h4v4h-4zM62 102h4v4h-4zM118 102h4v4h-4zM58 106h4v4h-4zM118 106h4v4h-4zM54 110h4v4h-4zM118 110h4v4h-4zM50 114h4v4h-4zM90 114h4v4h-4zM102 114h4v4h-4zM118 114h4v4h-4zM46 118h4v4h-4zM118 118h4v4h-4zM42 122h4v4h-4zM118 122h4v4h-4zM74 126h4v4h-4zM110 126h4v4h-4zM118 126h4v4h-4zM118 130h4v4h-4zM106 134h4v4h-4zM110 134h4v4h-4zM118 134h4v4h-4zM74 138h4v4h-4zM102 138h4v4h-4zM122 138h4v4h-4zM46 142h4v4h-4zM126 142h4v4h-4zM102 146h4v4h-4zM54 150h4v4h-4zM130 150h4v4h-4zM86 154h4v4h-4zM106 154h4v4h-4zM58 158h4v4h-4zM86 158h4v4h-4zM86 162h4v4h-4zM110 162h4v4h-4zM86 166h4v4h-4zM114 166h4v4h-4zM134 166h4v4h-4zM118 170h4v4h-4zM58 174h4v4h-4zM90 174h4v4h-4zM90 178h4v4h-4zM122 178h4v4h-4zM138 182h4v4h-4zM54 186h4v4h-4zM94 186h4v4h-4zM138 186h4v4h-4zM54 190h4v4h-4zM138 190h4v4h-4zM206 190h4v4h-4zM54 194h4v4h-4zM54 198h4v4h-4zM54 202h4v4h-4zM54 206h4v4h-4zM54 210h4v4h-4zM54 214h4v4h-4zM126 214h4v4h-4zM206 214h4v4h-4zM54 218h4v4h-4zM130 218h4v4h-4zM206 218h4v4h-4zM206 222h4v4h-4zM90 226h4v4h-4zM206 226h4v4h-4zM206 230h4v4h-4zM86 234h4v4h-4zM134 234h4v4h-4zM58 238h4v4h-4zM86 238h4v4h-4zM134 238h4v4h-4zM86 242h4v4h-4zM134 242h4v4h-4zM134 246h4v4h-4zM82 250h4v4h-4zM134 250h4v4h-4zM66 254h4v4h-4zM138 254h4v4h-4zM142 254h4v4h-4zM70 258h4v4h-4zM78 262h4v4h-4zM74 266h4v4h-4zM74 270h4v4h-4zM74 274h4v4h-4zM74 278h4v4h-4zM74 282h4v4h-4z" fill="#e2cb6e"/><path d="M82 10h4v4h-4zM82 14h4v4h-4zM82 18h4v4h-4zM82 22h4v4h-4zM82 26h4v4h-4zM110 26h4v4h-4zM82 30h4v4h-4zM106 30h4v4h-4zM106 34h4v4h-4zM106 38h4v4h-4zM130 38h4v4h-4zM54 42h4v4h-4zM106 42h4v4h-4zM134 42h4v4h-4zM14 46h4v4h-4zM18 46h4v4h-4zM22 46h4v4h-4zM26 46h4v4h-4zM30 46h4v4h-4zM34 46h4v4h-4zM110 46h4v4h-4zM130 46h4v4h-4zM114 50h4v4h-4zM118 50h4v4h-4zM122 50h4v4h-4zM126 50h4v4h-4zM114 54h4v4h-4zM102 58h4v4h-4zM114 58h4v4h-4zM94 62h4v4h-4zM90 66h4v4h-4zM86 70h4v4h-4zM118 70h4v4h-4zM82 74h4v4h-4zM118 74h4v4h-4zM78 78h4v4h-4zM118 78h4v4h-4zM14 82h4v4h-4zM18 82h4v4h-4zM22 82h4v4h-4zM74 82h4v4h-4zM114 82h4v4h-4zM118 82h4v4h-4zM122 82h4v4h-4zM14 86h4v4h-4zM18 86h4v4h-4zM22 86h4v4h-4zM74 86h4v4h-4zM114 86h4v4h-4zM14 90h4v4h-4zM18 90h4v4h-4zM22 90h4v4h-4zM74 90h4v4h-4zM114 90h4v4h-4zM14 94h4v4h-4zM18 94h4v4h-4zM22 94h4v4h-4zM114 94h4v4h-4zM14 98h4v4h-4zM18 98h4v4h-4zM22 98h4v4h-4zM114 98h4v4h-4zM94 102h4v4h-4zM98 102h4v4h-4zM102 102h4v4h-4zM106 102h4v4h-4zM110 102h4v4h-4zM114 102h4v4h-4zM94 106h4v4h-4zM98 106h4v4h-4zM102 106h4v4h-4zM106 106h4v4h-4zM110 106h4v4h-4zM114 106h4v4h-4zM94 110h4v4h-4zM98 110h4v4h-4zM102 110h4v4h-4zM106 110h4v4h-4zM110 110h4v4h-4zM114 110h4v4h-4zM86 114h4v4h-4zM106 114h4v4h-4zM110 114h4v4h-4zM114 114h4v4h-4zM78 118h4v4h-4zM106 118h4v4h-4zM110 118h4v4h-4zM114 118h4v4h-4zM74 122h4v4h-4zM106 122h4v4h-4zM110 122h4v4h-4zM114 122h4v4h-4zM42 126h4v4h-4zM114 126h4v4h-4zM70 130h4v4h-4zM114 130h4v4h-4zM114 134h4v4h-4zM42 138h4v4h-4zM114 138h4v4h-4zM118 138h4v4h-4zM102 142h4v4h-4zM118 142h4v4h-4zM122 142h4v4h-4zM78 146h4v4h-4zM58 154h4v4h-4zM130 154h4v4h-4zM130 158h4v4h-4zM130 162h4v4h-4zM86 170h4v4h-4zM134 170h4v4h-4zM122 174h4v4h-4zM58 178h4v4h-4zM90 182h4v4h-4zM126 182h4v4h-4zM126 186h4v4h-4zM94 190h4v4h-4zM126 190h4v4h-4zM94 194h4v4h-4zM126 194h4v4h-4zM138 194h4v4h-4zM94 198h4v4h-4zM126 198h4v4h-4zM138 198h4v4h-4zM94 202h4v4h-4zM126 202h4v4h-4zM94 206h4v4h-4zM126 206h4v4h-4zM142 206h4v4h-4zM94 210h4v4h-4zM126 210h4v4h-4zM94 214h4v4h-4zM94 218h4v4h-4zM54 222h4v4h-4zM94 222h4v4h-4zM134 222h4v4h-4zM150 222h4v4h-4zM54 226h4v4h-4zM134 226h4v4h-4zM154 226h4v4h-4zM54 230h4v4h-4zM86 230h4v4h-4zM134 230h4v4h-4zM58 234h4v4h-4zM158 238h4v4h-4zM154 242h4v4h-4zM62 246h4v4h-4zM82 246h4v4h-4zM150 246h4v4h-4zM138 250h4v4h-4zM142 250h4v4h-4zM146 250h4v4h-4zM78 258h4v4h-4zM74 262h4v4h-4z" fill="#dec864"/><path d="M58 34h4v4h-4zM86 34h4v4h-4zM102 34h4v4h-4zM110 38h4v4h-4zM114 38h4v4h-4zM126 38h4v4h-4zM106 58h4v4h-4zM110 58h4v4h-4zM98 62h4v4h-4zM114 62h4v4h-4zM86 74h4v4h-4zM114 78h4v4h-4zM78 82h4v4h-4zM78 86h4v4h-4zM78 90h4v4h-4zM74 94h4v4h-4zM110 94h4v4h-4zM70 98h4v4h-4zM94 98h4v4h-4zM98 98h4v4h-4zM102 98h4v4h-4zM106 98h4v4h-4zM110 98h4v4h-4zM66 102h4v4h-4zM62 106h4v4h-4zM58 110h4v4h-4zM54 114h4v4h-4zM82 114h4v4h-4zM50 118h4v4h-4zM74 118h4v4h-4zM46 122h4v4h-4zM70 126h4v4h-4zM42 130h4v4h-4zM42 134h4v4h-4zM70 134h4v4h-4zM46 138h4v4h-4zM70 138h4v4h-4zM106 138h4v4h-4zM110 138h4v4h-4zM50 142h4v4h-4zM74 142h4v4h-4zM114 142h4v4h-4zM54 146h4v4h-4zM126 146h4v4h-4zM58 150h4v4h-4zM82 150h4v4h-4zM106 150h4v4h-4zM82 154h4v4h-4zM110 154h4v4h-4zM82 158h4v4h-4zM110 158h4v4h-4zM82 162h4v4h-4zM82 166h4v4h-4zM118 166h4v4h-4zM130 166h4v4h-4zM82 170h4v4h-4zM86 174h4v4h-4zM134 174h4v4h-4zM126 178h4v4h-4zM58 182h4v4h-4zM58 186h4v4h-4zM90 186h4v4h-4zM58 190h4v4h-4zM58 194h4v4h-4zM58 198h4v4h-4zM58 202h4v4h-4zM138 202h4v4h-4zM58 206h4v4h-4zM58 210h4v4h-4zM146 210h4v4h-4zM58 214h4v4h-4zM130 214h4v4h-4zM58 218h4v4h-4zM134 218h4v4h-4zM58 222h4v4h-4zM90 222h4v4h-4zM138 222h4v4h-4zM58 226h4v4h-4zM86 226h4v4h-4zM138 226h4v4h-4zM58 230h4v4h-4zM82 230h4v4h-4zM138 230h4v4h-4zM158 230h4v4h-4zM82 234h4v4h-4zM138 234h4v4h-4zM158 234h4v4h-4zM82 238h4v4h-4zM138 238h4v4h-4zM154 238h4v4h-4zM62 242h4v4h-4zM82 242h4v4h-4zM138 242h4v4h-4zM138 246h4v4h-4zM142 246h4v4h-4zM66 250h4v4h-4zM70 254h4v4h-4zM78 254h4v4h-4zM74 258h4v4h-4z" fill="#dac65e"/><path d="M110 10h4v4h-4zM110 14h4v4h-4zM110 18h4v4h-4zM110 22h4v4h-4zM90 34h4v4h-4zM98 34h4v4h-4zM118 38h4v4h-4zM122 38h4v4h-4zM50 42h4v4h-4zM110 42h4v4h-4zM130 42h4v4h-4zM114 46h4v4h-4zM118 46h4v4h-4zM122 46h4v4h-4zM126 46h4v4h-4zM110 62h4v4h-4zM94 66h4v4h-4zM114 66h4v4h-4zM90 70h4v4h-4zM82 78h4v4h-4zM110 82h4v4h-4zM110 86h4v4h-4zM110 90h4v4h-4zM78 94h4v4h-4zM74 98h4v4h-4zM70 102h4v4h-4zM90 102h4v4h-4zM66 106h4v4h-4zM90 106h4v4h-4zM62 110h4v4h-4zM90 110h4v4h-4zM58 114h4v4h-4zM78 114h4v4h-4zM54 118h4v4h-4zM50 122h4v4h-4zM70 122h4v4h-4zM46 126h4v4h-4zM70 142h4v4h-4zM110 142h4v4h-4zM74 146h4v4h-4zM106 146h4v4h-4zM110 146h4v4h-4zM114 146h4v4h-4zM118 146h4v4h-4zM122 146h4v4h-4zM78 150h4v4h-4zM110 150h4v4h-4zM62 154h4v4h-4zM62 158h4v4h-4zM62 162h4v4h-4zM114 162h4v4h-4zM62 166h4v4h-4zM62 170h4v4h-4zM122 170h4v4h-4zM130 170h4v4h-4zM62 174h4v4h-4zM82 174h4v4h-4zM130 174h4v4h-4zM62 178h4v4h-4zM86 178h4v4h-4zM130 178h4v4h-4zM130 182h4v4h-4zM130 186h4v4h-4zM90 190h4v4h-4zM130 190h4v4h-4zM90 194h4v4h-4zM130 194h4v4h-4zM90 198h4v4h-4zM130 198h4v4h-4zM90 202h4v4h-4zM130 202h4v4h-4zM90 206h4v4h-4zM130 206h4v4h-4zM138 206h4v4h-4zM90 210h4v4h-4zM130 210h4v4h-4zM90 214h4v4h-4zM134 214h4v4h-4zM146 214h4v4h-4zM90 218h4v4h-4zM138 218h4v4h-4zM150 226h4v4h-4zM62 234h4v4h-4zM62 238h4v4h-4zM150 242h4v4h-4zM66 246h4v4h-4zM78 246h4v4h-4zM146 246h4v4h-4zM70 250h4v4h-4zM78 250h4v4h-4zM74 254h4v4h-4z" fill="#d6c359"/><path d="M58 10h4v4h-4zM58 14h4v4h-4zM58 18h4v4h-4zM58 22h4v4h-4zM58 26h4v4h-4zM106 26h4v4h-4zM58 30h4v4h-4zM102 30h4v4h-4zM94 34h4v4h-4zM54 38h4v4h-4zM114 42h4v4h-4zM126 42h4v4h-4zM102 62h4v4h-4zM98 66h4v4h-4zM102 66h4v4h-4zM110 66h4v4h-4zM94 70h4v4h-4zM90 74h4v4h-4zM110 74h4v4h-4zM114 74h4v4h-4zM86 78h4v4h-4zM90 78h4v4h-4zM110 78h4v4h-4zM82 82h4v4h-4zM82 86h4v4h-4zM82 90h4v4h-4zM82 94h4v4h-4zM90 94h4v4h-4zM94 94h4v4h-4zM98 94h4v4h-4zM102 94h4v4h-4zM106 94h4v4h-4zM78 98h4v4h-4zM90 98h4v4h-4zM70 106h4v4h-4zM62 114h4v4h-4zM70 114h4v4h-4zM74 114h4v4h-4zM58 118h4v4h-4zM70 118h4v4h-4zM50 126h4v4h-4zM66 126h4v4h-4zM66 130h4v4h-4zM46 134h4v4h-4zM50 134h4v4h-4zM66 134h4v4h-4zM50 138h4v4h-4zM66 138h4v4h-4zM54 142h4v4h-4zM106 142h4v4h-4zM58 146h4v4h-4zM62 146h4v4h-4zM70 146h4v4h-4zM62 150h4v4h-4zM114 150h4v4h-4zM126 150h4v4h-4zM78 154h4v4h-4zM114 154h4v4h-4zM126 154h4v4h-4zM78 158h4v4h-4zM114 158h4v4h-4zM126 158h4v4h-4zM78 162h4v4h-4zM118 162h4v4h-4zM126 162h4v4h-4zM78 166h4v4h-4zM122 166h4v4h-4zM126 166h4v4h-4zM78 170h4v4h-4zM78 174h4v4h-4zM126 174h4v4h-4zM82 178h4v4h-4zM134 178h4v4h-4zM62 182h4v4h-4zM86 182h4v4h-4zM62 186h4v4h-4zM86 186h4v4h-4zM62 190h4v4h-4zM62 194h4v4h-4zM62 198h4v4h-4zM62 202h4v4h-4zM62 206h4v4h-4zM62 210h4v4h-4zM142 210h4v4h-4zM62 214h4v4h-4zM138 214h4v4h-4zM62 218h4v4h-4zM142 218h4v4h-4zM146 218h4v4h-4zM62 222h4v4h-4zM86 222h4v4h-4zM142 222h4v4h-4zM146 222h4v4h-4zM62 226h4v4h-4zM78 226h4v4h-4zM82 226h4v4h-4zM142 226h4v4h-4zM62 230h4v4h-4zM78 230h4v4h-4zM142 230h4v4h-4zM154 230h4v4h-4zM78 234h4v4h-4zM142 234h4v4h-4zM150 234h4v4h-4zM154 234h4v4h-4zM78 238h4v4h-4zM142 238h4v4h-4zM150 238h4v4h-4zM78 242h4v4h-4zM142 242h4v4h-4zM146 242h4v4h-4zM70 246h4v4h-4z" fill="#d3c054"/><path d="M86 10h4v4h-4zM86 14h4v4h-4zM86 18h4v4h-4zM86 22h4v4h-4zM86 26h4v4h-4zM86 30h4v4h-4zM118 42h4v4h-4zM122 42h4v4h-4zM106 62h4v4h-4zM106 66h4v4h-4zM98 70h4v4h-4zM102 70h4v4h-4zM106 70h4v4h-4zM110 70h4v4h-4zM114 70h4v4h-4zM94 74h4v4h-4zM98 74h4v4h-4zM102 74h4v4h-4zM106 74h4v4h-4zM94 78h4v4h-4zM98 78h4v4h-4zM102 78h4v4h-4zM106 78h4v4h-4zM86 82h4v4h-4zM90 82h4v4h-4zM94 82h4v4h-4zM98 82h4v4h-4zM102 82h4v4h-4zM106 82h4v4h-4zM86 86h4v4h-4zM90 86h4v4h-4zM94 86h4v4h-4zM98 86h4v4h-4zM102 86h4v4h-4zM106 86h4v4h-4zM86 90h4v4h-4zM90 90h4v4h-4zM94 90h4v4h-4zM98 90h4v4h-4zM102 90h4v4h-4zM106 90h4v4h-4zM86 94h4v4h-4zM82 98h4v4h-4zM86 98h4v4h-4zM74 102h4v4h-4zM78 102h4v4h-4zM82 102h4v4h-4zM86 102h4v4h-4zM74 106h4v4h-4zM78 106h4v4h-4zM82 106h4v4h-4zM86 106h4v4h-4zM66 110h4v4h-4zM70 110h4v4h-4zM74 110h4v4h-4zM78 110h4v4h-4zM82 110h4v4h-4zM86 110h4v4h-4zM66 114h4v4h-4zM62 118h4v4h-4zM66 118h4v4h-4zM54 122h4v4h-4zM58 122h4v4h-4zM62 122h4v4h-4zM66 122h4v4h-4zM54 126h4v4h-4zM58 126h4v4h-4zM62 126h4v4h-4zM46 130h4v4h-4zM50 130h4v4h-4zM54 130h4v4h-4zM58 130h4v4h-4zM62 130h4v4h-4zM54 134h4v4h-4zM58 134h4v4h-4zM62 134h4v4h-4zM54 138h4v4h-4zM58 138h4v4h-4zM62 138h4v4h-4zM58 142h4v4h-4zM62 142h4v4h-4zM66 142h4v4h-4zM66 146h4v4h-4zM66 150h4v4h-4zM70 150h4v4h-4zM74 150h4v4h-4zM118 150h4v4h-4zM122 150h4v4h-4zM66 154h4v4h-4zM70 154h4v4h-4zM74 154h4v4h-4zM118 154h4v4h-4zM122 154h4v4h-4zM66 158h4v4h-4zM70 158h4v4h-4zM74 158h4v4h-4zM118 158h4v4h-4zM122 158h4v4h-4zM66 162h4v4h-4zM70 162h4v4h-4zM74 162h4v4h-4zM122 162h4v4h-4zM66 166h4v4h-4zM70 166h4v4h-4zM74 166h4v4h-4zM66 170h4v4h-4zM70 170h4v4h-4zM74 170h4v4h-4zM126 170h4v4h-4zM66 174h4v4h-4zM70 174h4v4h-4zM74 174h4v4h-4zM66 178h4v4h-4zM70 178h4v4h-4zM74 178h4v4h-4zM78 178h4v4h-4zM66 182h4v4h-4zM70 182h4v4h-4zM74 182h4v4h-4zM78 182h4v4h-4zM82 182h4v4h-4zM134 182h4v4h-4zM66 186h4v4h-4zM70 186h4v4h-4zM74 186h4v4h-4zM78 186h4v4h-4zM82 186h4v4h-4zM134 186h4v4h-4zM66 190h4v4h-4zM70 190h4v4h-4zM74 190h4v4h-4zM78 190h4v4h-4zM82 190h4v4h-4zM86 190h4v4h-4zM134 190h4v4h-4zM66 194h4v4h-4zM70 194h4v4h-4zM74 194h4v4h-4zM78 194h4v4h-4zM82 194h4v4h-4zM86 194h4v4h-4zM134 194h4v4h-4zM66 198h4v4h-4zM70 198h4v4h-4zM74 198h4v4h-4zM78 198h4v4h-4zM82 198h4v4h-4zM86 198h4v4h-4zM134 198h4v4h-4zM66 202h4v4h-4zM70 202h4v4h-4zM74 202h4v4h-4zM78 202h4v4h-4zM82 202h4v4h-4zM86 202h4v4h-4zM134 202h4v4h-4zM66 206h4v4h-4zM70 206h4v4h-4zM74 206h4v4h-4zM78 206h4v4h-4zM82 206h4v4h-4zM86 206h4v4h-4zM134 206h4v4h-4zM66 210h4v4h-4zM70 210h4v4h-4zM74 210h4v4h-4zM78 210h4v4h-4zM82 210h4v4h-4zM86 210h4v4h-4zM134 210h4v4h-4zM138 210h4v4h-4zM66 214h4v4h-4zM70 214h4v4h-4zM74 214h4v4h-4zM78 214h4v4h-4zM82 214h4v4h-4zM86 214h4v4h-4zM142 214h4v4h-4zM66 218h4v4h-4zM70 218h4v4h-4zM74 218h4v4h-4zM78 218h4v4h-4zM82 218h4v4h-4zM86 218h4v4h-4zM66 222h4v4h-4zM70 222h4v4h-4zM74 222h4v4h-4zM78 222h4v4h-4zM82 222h4v4h-4zM66 226h4v4h-4zM70 226h4v4h-4zM74 226h4v4h-4zM146 226h4v4h-4zM66 230h4v4h-4zM70 230h4v4h-4zM74 230h4v4h-4zM146 230h4v4h-4zM150 230h4v4h-4zM66 234h4v4h-4zM70 234h4v4h-4zM74 234h4v4h-4zM146 234h4v4h-4zM66 238h4v4h-4zM70 238h4v4h-4zM74 238h4v4h-4zM146 238h4v4h-4zM66 242h4v4h-4zM70 242h4v4h-4zM74 242h4v4h-4zM74 246h4v4h-4zM74 250h4v4h-4z" fill="#cfbe4e"/><path d="M102 26h4v4h-4zM50 38h4v4h-4zM46 42h4v4h-4z" fill="#cdb946"/><path d="M90 10h4v4h-4zM90 14h4v4h-4zM90 18h4v4h-4zM90 22h4v4h-4zM106 22h4v4h-4zM90 26h4v4h-4zM90 30h4v4h-4zM98 30h4v4h-4zM54 34h4v4h-4zM14 42h4v4h-4zM18 42h4v4h-4zM22 42h4v4h-4zM26 42h4v4h-4zM30 42h4v4h-4zM34 42h4v4h-4zM38 42h4v4h-4zM42 42h4v4h-4z" fill="#cab43e"/><path d="M106 10h4v4h-4zM106 14h4v4h-4zM106 18h4v4h-4zM102 22h4v4h-4zM98 26h4v4h-4zM50 34h4v4h-4zM46 38h4v4h-4z" fill="#c8af35"/><path d="M14 10h4v4h-4zM18 10h4v4h-4zM22 10h4v4h-4zM26 10h4v4h-4zM30 10h4v4h-4zM34 10h4v4h-4zM38 10h4v4h-4zM42 10h4v4h-4zM46 10h4v4h-4zM50 10h4v4h-4zM54 10h4v4h-4zM94 10h4v4h-4zM98 10h4v4h-4zM102 10h4v4h-4zM14 14h4v4h-4zM18 14h4v4h-4zM22 14h4v4h-4zM26 14h4v4h-4zM30 14h4v4h-4zM34 14h4v4h-4zM38 14h4v4h-4zM42 14h4v4h-4zM46 14h4v4h-4zM50 14h4v4h-4zM54 14h4v4h-4zM94 14h4v4h-4zM98 14h4v4h-4zM102 14h4v4h-4zM14 18h4v4h-4zM18 18h4v4h-4zM22 18h4v4h-4zM26 18h4v4h-4zM30 18h4v4h-4zM34 18h4v4h-4zM38 18h4v4h-4zM42 18h4v4h-4zM46 18h4v4h-4zM50 18h4v4h-4zM54 18h4v4h-4zM94 18h4v4h-4zM98 18h4v4h-4zM102 18h4v4h-4zM14 22h4v4h-4zM18 22h4v4h-4zM22 22h4v4h-4zM26 22h4v4h-4zM30 22h4v4h-4zM34 22h4v4h-4zM38 22h4v4h-4zM42 22h4v4h-4zM46 22h4v4h-4zM50 22h4v4h-4zM54 22h4v4h-4zM94 22h4v4h-4zM98 22h4v4h-4zM14 26h4v4h-4zM18 26h4v4h-4zM22 26h4v4h-4zM26 26h4v4h-4zM30 26h4v4h-4zM34 26h4v4h-4zM38 26h4v4h-4zM42 26h4v4h-4zM46 26h4v4h-4zM50 26h4v4h-4zM54 26h4v4h-4zM94 26h4v4h-4zM14 30h4v4h-4zM18 30h4v4h-4zM22 30h4v4h-4zM26 30h4v4h-4zM30 30h4v4h-4zM34 30h4v4h-4zM38 30h4v4h-4zM42 30h4v4h-4zM46 30h4v4h-4zM50 30h4v4h-4zM54 30h4v4h-4zM94 30h4v4h-4zM14 34h4v4h-4zM18 34h4v4h-4zM22 34h4v4h-4zM26 34h4v4h-4zM30 34h4v4h-4zM34 34h4v4h-4zM38 34h4v4h-4zM42 34h4v4h-4zM46 34h4v4h-4zM14 38h4v4h-4zM18 38h4v4h-4zM22 38h4v4h-4zM26 38h4v4h-4zM30 38h4v4h-4zM34 38h4v4h-4zM38 38h4v4h-4zM42 38h4v4h-4z" fill="#c6aa2d"/></g><g filter="url(#pb)"><path d="M32.0 16.5 C34.2 15.4 42.8 14.8 45.0 16.5 C47.2 18.2 45.5 23.8 45.5 26.5 C45.5 29.2 45.4 30.8 45.3 33.0 C45.2 35.2 45.4 37.8 44.8 40.0 C44.2 42.2 43.2 45.0 41.8 46.3 C40.4 47.5 38.2 47.8 36.5 47.5 C34.8 47.2 32.9 45.9 31.5 44.5 C30.1 43.1 28.7 40.9 28.0 39.0 C27.3 37.1 27.2 34.8 27.5 33.0 C27.8 31.2 28.8 29.7 29.5 28.0 C30.2 26.3 31.1 24.9 31.5 23.0 C31.9 21.1 29.8 17.6 32.0 16.5Z" fill="#e2b8c0"/><path d="M21.0 31.0 C21.6 29.6 24.3 29.7 26.0 29.5 C27.7 29.3 29.8 28.9 31.0 30.0 C32.2 31.1 33.0 34.1 33.0 36.0 C33.0 37.9 32.0 40.7 31.0 41.5 C30.0 42.3 28.4 41.6 27.0 41.0 C25.6 40.4 23.5 39.7 22.5 38.0 C21.5 36.3 20.4 32.4 21.0 31.0Z" fill="#e2b8c0"/><path d="M33.5 21.0 C34.4 19.8 36.6 18.6 38.0 18.5 C39.4 18.4 41.2 18.9 42.0 20.5 C42.8 22.1 42.9 25.2 43.0 28.0 C43.1 30.8 42.9 35.0 42.4 37.5 C41.9 40.0 41.0 41.8 40.0 43.0 C39.0 44.2 37.6 44.8 36.5 44.5 C35.4 44.2 34.2 42.8 33.2 41.5 C32.2 40.2 31.2 38.4 30.8 36.5 C30.4 34.6 30.5 31.8 30.8 30.0 C31.1 28.2 32.0 27.0 32.5 25.5 C33.0 24.0 32.6 22.2 33.5 21.0Z" fill="#efe0e4"/><ellipse cx="37" cy="36.5" rx="5" ry="8" fill="#f7f3f3"/><ellipse cx="50.4" cy="31.9" rx="1.8" ry="1.8" fill="#d9a2b0"/><path d="M74.0 229.0 C74.9 228.3 76.5 227.9 78.0 228.0 C79.5 228.1 81.6 228.9 83.0 229.5 C84.4 230.1 85.9 230.6 86.3 231.5 C86.7 232.4 86.2 234.1 85.5 235.0 C84.8 235.9 82.8 236.0 82.0 237.0 C81.2 238.0 80.7 239.5 80.5 241.0 C80.3 242.5 81.0 244.5 80.8 246.0 C80.5 247.5 79.8 249.2 79.0 250.0 C78.2 250.8 76.8 251.5 76.0 251.0 C75.2 250.5 74.7 248.5 74.5 247.0 C74.3 245.5 75.0 243.7 74.8 242.0 C74.6 240.3 73.6 238.7 73.2 237.0 C72.8 235.3 72.5 233.3 72.6 232.0 C72.7 230.7 73.1 229.7 74.0 229.0Z" fill="#d6a6b8"/><path d="M75.5 253.0 C76.5 252.2 78.4 252.0 79.5 252.5 C80.6 253.0 81.7 254.7 82.0 256.0 C82.3 257.3 82.2 259.5 81.5 260.5 C80.8 261.5 79.2 262.1 78.0 262.2 C76.8 262.3 75.2 261.9 74.5 261.0 C73.8 260.1 73.4 258.3 73.6 257.0 C73.8 255.7 74.5 253.8 75.5 253.0Z" fill="#d6a6b8"/><ellipse cx="79.5" cy="232" rx="2.4" ry="1.8" fill="#ecd4dc"/><ellipse cx="77.5" cy="245" rx="1.4" ry="2.5" fill="#e6c4d0"/><ellipse cx="77.8" cy="257" rx="1.8" ry="2" fill="#e6c4d0"/><path d="M56.2 123.8 C57.6 123.1 61.9 123.4 63.2 123.8 C64.5 124.2 64.4 125.2 64.0 126.3 C63.6 127.4 62.0 129.4 61.0 130.5 C60.0 131.6 59.2 132.7 58.3 133.0 C57.4 133.3 56.1 133.2 55.6 132.4 C55.1 131.6 54.9 129.4 55.0 128.0 C55.1 126.6 54.8 124.5 56.2 123.8Z" fill="#d496ac"/><ellipse cx="54.7" cy="117.7" rx="2.3" ry="2.8" fill="#d496ac"/><circle cx="68.3" cy="216.5" r="2.5" fill="#d9a2b0"/><circle cx="67.5" cy="150.2" r="1.2" fill="#d9a2b0"/><circle cx="110.4" cy="72.6" r="1.6" fill="#d9a2b0"/></g><path d="M53.5 18V277.2M96.3 18V277.2M139.5 18V277.2M183.0 18V277.2M21.5 52.0H223.5M21.5 97.3H223.5M21.5 144.0H223.5M21.5 189.0H223.5M21.5 235.0H223.5" stroke="#8a8a80" stroke-width="0.4" stroke-dasharray="1.4 1.8" fill="none" opacity="0.7"/><path d="M21.5 34.5 C22.1 34.2 23.6 33.4 25.0 33.0 C26.4 32.6 28.5 32.5 30.0 32.2 C31.5 31.9 32.7 31.5 34.0 31.0 C35.3 30.5 36.5 29.4 38.0 29.0 C39.5 28.6 41.3 28.4 43.0 28.5 C44.7 28.6 46.3 29.0 48.0 29.5 C49.7 30.0 51.3 30.6 53.0 31.5 C54.7 32.4 56.3 33.8 58.0 35.0 C59.7 36.2 61.5 37.8 63.0 38.5 C64.5 39.2 65.5 39.5 67.0 39.5 C68.5 39.5 70.2 39.0 72.0 38.5 C73.8 38.0 75.8 37.1 78.0 36.5 C80.2 35.9 83.0 35.5 85.0 35.0 C87.0 34.5 88.3 34.2 90.0 33.5 C91.7 32.8 93.6 31.5 95.0 30.5 C96.4 29.5 97.5 28.3 98.5 27.5 C99.5 26.7 100.2 26.5 101.0 25.5 C101.8 24.5 102.5 22.8 103.2 21.5 C104.0 20.2 105.1 18.2 105.5 17.5" stroke="#111" stroke-width="1.5" fill="none" stroke-linejoin="round"/><g stroke="#878787" stroke-width="1.35" fill="none" stroke-linecap="round"><path d="M25.2 67.3 C26.3 66.6 29.3 64.7 31.5 63.4 C33.7 62.1 36.1 60.8 38.5 59.5 C40.9 58.2 43.4 57.0 45.6 55.6 C47.8 54.2 50.0 52.6 51.8 51.0 C53.6 49.4 54.9 47.4 56.5 46.2 C58.1 45.1 59.1 44.6 61.2 43.9 C63.3 43.2 67.2 42.3 69.0 41.9 C70.8 41.5 71.6 41.6 72.1 41.6"/><path d="M41.7 61.6 C42.6 61.1 45.2 59.8 47.0 58.8 C48.8 57.8 51.7 56.1 52.6 55.6"/><path d="M73.5 40.3 C75.3 40.0 81.2 39.0 84.6 38.4 C88.0 37.8 91.4 37.5 94.0 36.9 C96.6 36.2 98.2 35.2 100.2 34.5 C102.3 33.8 103.9 33.0 106.5 32.5 C109.1 32.0 111.4 31.8 116.0 31.6 C120.6 31.4 128.8 31.6 134.1 31.2 C139.4 30.9 143.5 30.3 147.7 29.7 C151.8 29.1 156.4 28.1 159.0 27.4 C161.6 26.6 162.3 25.6 163.0 25.2"/><path d="M138.7 35.3 C139.6 34.8 142.1 33.4 144.0 32.5 C145.9 31.6 148.3 30.5 150.0 29.7 C151.7 28.9 153.3 27.9 154.0 27.5"/><path d="M184.0 19.5 L188.6 17.3"/><path d="M37.0 140.0 C36.7 143.0 35.7 152.7 35.3 158.0 C34.9 163.3 34.5 167.6 34.8 171.6 C35.1 175.6 36.6 180.1 37.0 181.8"/><path d="M40.4 169.3 L41.6 181.8"/><path d="M54.0 164.8 C53.0 167.4 50.2 175.7 48.3 180.6 C46.4 185.5 44.2 190.1 42.7 194.2 C41.2 198.3 40.2 201.8 39.3 205.0 C38.4 208.2 37.3 210.6 37.5 213.5 C37.7 216.4 39.9 221.1 40.4 222.6"/><path d="M37.0 185.0 C37.2 188.3 38.0 200.5 38.2 205.0 C38.5 209.5 38.5 210.8 38.5 212.0"/><path d="M41.6 202.3 C41.6 204.7 41.5 212.4 41.6 216.9 C41.7 221.4 41.9 227.2 42.0 229.3"/><path d="M21.5 211.3 C23.0 212.6 27.2 216.4 30.3 219.2 C33.5 222.0 38.1 225.8 40.4 228.2 C42.6 230.6 42.1 231.6 43.8 233.9 C45.5 236.2 48.7 239.0 50.6 241.8 C52.5 244.6 53.8 248.0 55.1 250.8 C56.4 253.6 57.6 256.2 58.5 258.7 C59.4 261.2 60.0 262.9 60.6 266.0 C61.2 269.1 61.7 275.2 61.9 277.0"/><path d="M50.6 241.8 C52.9 240.1 59.2 235.6 64.1 231.6 C69.0 227.6 75.4 221.5 79.9 218.1 C84.4 214.7 88.2 213.1 91.2 211.2 C94.3 209.4 97.3 207.7 98.5 207.0"/><path d="M47.9 240.0 C48.4 240.8 50.3 242.0 51.0 245.0 C51.7 248.0 52.1 253.7 52.3 258.0 C52.5 262.3 52.6 267.5 52.3 270.7 C52.0 273.9 50.8 275.9 50.5 277.0"/></g><g fill="#6ea4c2" stroke="#2b5874" stroke-width="0.50"><circle cx="99.2" cy="29.7" r="1.9"/><circle cx="124.0" cy="30.3" r="1.5"/><circle cx="134.1" cy="30.3" r="0.6"/><circle cx="150.0" cy="31.2" r="0.9"/><circle cx="94.6" cy="55.6" r="0.9"/><circle cx="129.6" cy="59.0" r="1.5"/><circle cx="117.2" cy="62.4" r="0.6"/><circle cx="108.2" cy="75.5" r="0.9"/><circle cx="167.2" cy="31.9" r="0.9"/><circle cx="173.9" cy="62.4" r="1.5"/><circle cx="208.5" cy="59.0" r="1.9"/><circle cx="203.3" cy="35.3" r="0.6"/><circle cx="206.7" cy="35.8" r="0.6"/><circle cx="197.6" cy="61.3" r="0.5"/><circle cx="129.0" cy="58.8" r="1.5"/><circle cx="174.2" cy="62.5" r="1.5"/><circle cx="36.2" cy="68.4" r="0.9"/><circle cx="34.6" cy="72.0" r="0.6"/><circle cx="39.3" cy="79.0" r="0.9"/><circle cx="37.0" cy="81.4" r="0.6"/><circle cx="46.3" cy="77.5" r="0.7"/><circle cx="53.4" cy="75.6" r="0.9"/><circle cx="55.7" cy="63.8" r="0.6"/><circle cx="58.0" cy="73.6" r="1.5"/><circle cx="70.6" cy="62.7" r="0.9"/><circle cx="72.1" cy="77.5" r="1.9"/><circle cx="77.1" cy="48.6" r="0.7"/><circle cx="87.0" cy="49.7" r="0.7"/><circle cx="94.8" cy="55.6" r="0.9"/><circle cx="87.8" cy="73.6" r="0.9"/><circle cx="66.6" cy="83.0" r="0.6"/><circle cx="108.8" cy="75.6" r="1.9"/><circle cx="117.4" cy="61.9" r="0.6"/><circle cx="38.9" cy="93.8" r="1.9"/><circle cx="29.2" cy="106.9" r="1.9"/><circle cx="34.8" cy="106.9" r="0.6"/><circle cx="39.3" cy="106.9" r="0.9"/><circle cx="42.7" cy="107.8" r="0.9"/><circle cx="43.8" cy="110.7" r="0.6"/><circle cx="56.2" cy="89.3" r="1.5"/><circle cx="67.5" cy="91.5" r="0.6"/><circle cx="72.0" cy="78.0" r="1.5"/><circle cx="80.0" cy="97.2" r="1.9"/><circle cx="74.3" cy="99.4" r="0.6"/><circle cx="78.8" cy="101.7" r="1.5"/><circle cx="84.5" cy="107.3" r="1.5"/><circle cx="86.7" cy="110.7" r="1.5"/><circle cx="76.6" cy="113.0" r="1.5"/><circle cx="80.0" cy="115.2" r="0.9"/><circle cx="68.7" cy="114.1" r="0.6"/><circle cx="74.3" cy="119.8" r="0.9"/><circle cx="86.7" cy="119.8" r="0.9"/><circle cx="46.1" cy="123.1" r="1.9"/><circle cx="41.6" cy="128.1" r="1.5"/><circle cx="38.2" cy="132.2" r="0.9"/><circle cx="31.4" cy="131.0" r="0.6"/><circle cx="49.5" cy="132.2" r="0.9"/><circle cx="58.5" cy="129.9" r="0.9"/><circle cx="39.3" cy="137.8" r="0.6"/><circle cx="48.3" cy="138.5" r="1.5"/><circle cx="54.0" cy="139.0" r="0.9"/><circle cx="59.6" cy="138.5" r="0.9"/><circle cx="70.9" cy="138.5" r="0.6"/><circle cx="81.0" cy="141.2" r="0.9"/><circle cx="86.7" cy="84.8" r="0.9"/><circle cx="67.5" cy="82.5" r="0.6"/><circle cx="39.3" cy="79.1" r="0.9"/><circle cx="35.9" cy="81.4" r="0.6"/><circle cx="158.1" cy="81.4" r="1.5"/><circle cx="163.8" cy="82.5" r="0.6"/><circle cx="167.2" cy="83.6" r="0.6"/><circle cx="170.5" cy="83.6" r="1.5"/><circle cx="180.7" cy="87.0" r="1.5"/><circle cx="181.8" cy="89.3" r="0.6"/><circle cx="158.1" cy="93.3" r="0.9"/><circle cx="168.3" cy="104.0" r="0.6"/><circle cx="169.9" cy="106.9" r="0.9"/><circle cx="176.2" cy="116.4" r="0.9"/><circle cx="189.7" cy="111.9" r="1.9"/><circle cx="188.2" cy="108.5" r="0.9"/><circle cx="186.3" cy="117.5" r="0.6"/><circle cx="181.4" cy="120.9" r="0.6"/><circle cx="191.3" cy="128.1" r="1.5"/><circle cx="188.6" cy="125.4" r="0.6"/><circle cx="179.6" cy="141.7" r="0.6"/><circle cx="39.3" cy="145.6" r="1.5"/><circle cx="29.2" cy="152.4" r="0.9"/><circle cx="42.7" cy="153.5" r="0.6"/><circle cx="50.6" cy="155.3" r="0.9"/><circle cx="40.4" cy="162.6" r="0.6"/><circle cx="50.6" cy="167.1" r="1.5"/><circle cx="54.0" cy="167.1" r="1.5"/><circle cx="51.7" cy="176.1" r="1.9"/><circle cx="55.1" cy="181.8" r="1.5"/><circle cx="52.9" cy="186.3" r="0.9"/><circle cx="41.6" cy="186.3" r="1.5"/><circle cx="46.1" cy="202.0" r="1.9"/><circle cx="35.9" cy="201.0" r="0.9"/><circle cx="30.3" cy="197.6" r="0.6"/><circle cx="59.6" cy="159.2" r="0.6"/><circle cx="60.8" cy="164.8" r="0.6"/><circle cx="64.1" cy="155.8" r="0.9"/><circle cx="68.7" cy="167.1" r="1.5"/><circle cx="70.9" cy="161.4" r="0.9"/><circle cx="74.3" cy="160.3" r="0.9"/><circle cx="77.7" cy="159.2" r="0.9"/><circle cx="73.2" cy="169.3" r="0.6"/><circle cx="82.2" cy="168.2" r="0.6"/><circle cx="83.3" cy="150.2" r="0.6"/><circle cx="80.0" cy="140.0" r="1.5"/><circle cx="43.8" cy="141.1" r="0.6"/><circle cx="48.3" cy="142.3" r="0.6"/><circle cx="52.9" cy="141.0" r="0.6"/><circle cx="58.5" cy="142.7" r="0.6"/><circle cx="61.9" cy="142.3" r="0.6"/><circle cx="58.5" cy="192.0" r="0.6"/><circle cx="66.4" cy="176.1" r="0.6"/><circle cx="60.8" cy="187.4" r="0.6"/><circle cx="57.4" cy="197.6" r="0.6"/><circle cx="76.6" cy="199.8" r="0.6"/><circle cx="179.6" cy="142.3" r="0.6"/><circle cx="185.9" cy="149.0" r="0.6"/><circle cx="182.3" cy="154.7" r="0.6"/><circle cx="213.4" cy="199.8" r="0.6"/><circle cx="46.1" cy="202.7" r="1.5"/><circle cx="29.2" cy="206.8" r="0.9"/><circle cx="57.4" cy="212.4" r="0.6"/><circle cx="54.0" cy="205.0" r="0.6"/><circle cx="175.2" cy="227.1" r="1.5"/><circle cx="181.7" cy="229.7" r="1.5"/><circle cx="180.4" cy="220.6" r="0.9"/><circle cx="185.6" cy="210.2" r="1.5"/><circle cx="194.7" cy="211.5" r="0.9"/><circle cx="197.3" cy="216.7" r="1.9"/><circle cx="184.3" cy="223.2" r="0.6"/><circle cx="196.0" cy="237.6" r="1.5"/><circle cx="193.4" cy="249.3" r="0.9"/><circle cx="205.1" cy="208.9" r="0.9"/><circle cx="215.5" cy="232.3" r="0.6"/><circle cx="206.4" cy="245.4" r="0.6"/><circle cx="159.5" cy="267.5" r="1.5"/><circle cx="162.1" cy="267.5" r="1.5"/><circle cx="173.9" cy="263.6" r="0.6"/><circle cx="168.6" cy="264.4" r="0.6"/><circle cx="153.0" cy="254.5" r="0.9"/><circle cx="159.5" cy="251.9" r="0.6"/><circle cx="106.6" cy="263.7" r="1.9"/><circle cx="104.8" cy="257.5" r="0.6"/><circle cx="112.7" cy="267.2" r="0.6"/><circle cx="118.0" cy="263.7" r="0.6"/><circle cx="98.7" cy="261.9" r="0.6"/><circle cx="131.1" cy="261.9" r="0.6"/><circle cx="113.3" cy="181.2" r="1.0"/><circle cx="113.5" cy="187.3" r="1.0"/><circle cx="112.9" cy="184.0" r="1.0"/><circle cx="112.4" cy="178.9" r="0.6"/><circle cx="108.2" cy="182.4" r="1.0"/><circle cx="113.3" cy="182.4" r="0.8"/><circle cx="112.5" cy="184.0" r="0.8"/><circle cx="114.0" cy="185.8" r="1.0"/><circle cx="117.1" cy="185.8" r="1.0"/><circle cx="114.1" cy="184.8" r="0.8"/><circle cx="92.0" cy="114.8" r="1.0"/><circle cx="101.5" cy="109.6" r="0.6"/><circle cx="102.7" cy="111.5" r="0.6"/><circle cx="97.6" cy="112.5" r="0.5"/><circle cx="92.5" cy="117.8" r="1.5"/><circle cx="96.1" cy="117.2" r="1.5"/><circle cx="95.1" cy="117.6" r="0.6"/><circle cx="102.0" cy="112.6" r="0.6"/><circle cx="100.7" cy="120.9" r="0.8"/><circle cx="97.5" cy="122.7" r="0.8"/><circle cx="98.4" cy="112.9" r="1.5"/><circle cx="97.6" cy="112.2" r="0.8"/><circle cx="101.1" cy="114.8" r="0.8"/><circle cx="97.5" cy="119.3" r="1.5"/><circle cx="92.9" cy="118.5" r="0.8"/><circle cx="95.0" cy="115.4" r="0.6"/><circle cx="91.7" cy="114.5" r="0.5"/><circle cx="101.8" cy="120.0" r="0.6"/><circle cx="98.5" cy="114.5" r="0.6"/><circle cx="95.0" cy="122.5" r="0.6"/><circle cx="149.7" cy="103.6" r="0.8"/><circle cx="152.9" cy="93.3" r="0.6"/><circle cx="146.4" cy="104.1" r="1.0"/><circle cx="145.5" cy="96.4" r="0.5"/><circle cx="149.0" cy="108.8" r="0.6"/><circle cx="148.6" cy="101.2" r="0.5"/><circle cx="146.4" cy="93.3" r="0.5"/><circle cx="147.8" cy="97.0" r="0.6"/><circle cx="152.6" cy="94.9" r="0.6"/><circle cx="153.9" cy="99.8" r="0.6"/><circle cx="149.1" cy="98.6" r="1.5"/><circle cx="150.1" cy="103.3" r="0.6"/><circle cx="149.8" cy="104.2" r="0.6"/><circle cx="147.0" cy="94.7" r="0.6"/><circle cx="88.9" cy="104.1" r="0.6"/><circle cx="89.3" cy="105.3" r="0.6"/><circle cx="90.8" cy="100.2" r="1.0"/><circle cx="87.5" cy="99.2" r="0.8"/><circle cx="90.1" cy="104.0" r="1.5"/><circle cx="91.7" cy="96.4" r="0.8"/><circle cx="84.6" cy="98.4" r="1.0"/><circle cx="89.0" cy="102.6" r="0.6"/><circle cx="87.0" cy="104.6" r="1.5"/><circle cx="89.7" cy="97.8" r="0.6"/><circle cx="124.1" cy="139.2" r="0.5"/><circle cx="122.8" cy="143.0" r="0.6"/><circle cx="112.9" cy="140.8" r="1.5"/><circle cx="120.1" cy="133.7" r="1.5"/><circle cx="122.6" cy="138.9" r="1.5"/><circle cx="113.2" cy="145.2" r="0.6"/><circle cx="114.9" cy="140.5" r="0.6"/><circle cx="124.6" cy="138.1" r="1.0"/><circle cx="114.2" cy="141.3" r="0.6"/><circle cx="115.9" cy="143.4" r="0.6"/><circle cx="109.9" cy="143.7" r="1.0"/><circle cx="112.2" cy="136.7" r="0.5"/><circle cx="122.6" cy="143.9" r="0.6"/><circle cx="113.4" cy="141.0" r="0.5"/><circle cx="146.5" cy="132.5" r="0.5"/><circle cx="144.3" cy="125.8" r="0.6"/><circle cx="145.2" cy="123.8" r="1.0"/><circle cx="145.4" cy="130.2" r="0.8"/><circle cx="151.0" cy="132.1" r="1.5"/><circle cx="151.3" cy="132.3" r="1.5"/><circle cx="151.7" cy="125.0" r="1.5"/><circle cx="146.7" cy="123.9" r="1.0"/><circle cx="118.1" cy="67.0" r="0.5"/><circle cx="120.8" cy="67.3" r="1.5"/><circle cx="115.3" cy="67.0" r="0.6"/><circle cx="119.4" cy="70.4" r="1.5"/><circle cx="116.3" cy="71.0" r="0.8"/><circle cx="112.1" cy="68.9" r="1.5"/><circle cx="114.1" cy="69.6" r="0.6"/><circle cx="125.1" cy="70.1" r="1.5"/><circle cx="64.3" cy="248.0" r="0.5"/><circle cx="59.3" cy="248.9" r="1.5"/><circle cx="55.6" cy="250.7" r="0.6"/><circle cx="60.4" cy="254.3" r="0.6"/><circle cx="59.7" cy="245.1" r="0.8"/><circle cx="60.8" cy="248.9" r="1.5"/></g><g fill="#6ea4c2" stroke="#2b5874" stroke-width="0.50"><circle cx="112.1" cy="84.0" r="0.9"/><circle cx="81.3" cy="75.1" r="0.9"/><circle cx="100.8" cy="102.6" r="0.6"/><circle cx="89.7" cy="108.3" r="1.4"/><circle cx="140.6" cy="95.3" r="1.4"/><circle cx="72.3" cy="87.7" r="0.5"/><circle cx="139.9" cy="128.9" r="0.7"/><circle cx="89.9" cy="74.1" r="0.7"/><circle cx="132.8" cy="90.2" r="1.4"/><circle cx="96.0" cy="59.6" r="0.6"/><circle cx="111.7" cy="103.3" r="0.7"/><circle cx="99.5" cy="137.9" r="0.6"/><circle cx="89.0" cy="142.7" r="1.4"/><circle cx="85.4" cy="123.6" r="1.4"/><circle cx="141.6" cy="107.7" r="0.5"/><circle cx="118.5" cy="130.9" r="0.6"/><circle cx="85.5" cy="145.7" r="0.6"/><circle cx="96.9" cy="114.1" r="0.7"/><circle cx="83.5" cy="107.4" r="0.9"/><circle cx="128.9" cy="85.4" r="0.7"/><circle cx="84.0" cy="106.4" r="1.4"/><circle cx="122.2" cy="135.3" r="0.9"/><circle cx="133.8" cy="80.9" r="0.9"/><circle cx="101.1" cy="108.8" r="0.7"/><circle cx="149.7" cy="97.5" r="0.7"/><circle cx="102.5" cy="103.7" r="0.5"/><circle cx="132.0" cy="136.4" r="0.7"/><circle cx="115.4" cy="122.7" r="1.4"/><circle cx="125.8" cy="105.4" r="0.9"/><circle cx="108.9" cy="114.9" r="0.7"/><circle cx="106.9" cy="100.2" r="0.6"/><circle cx="105.0" cy="87.8" r="0.5"/><circle cx="82.9" cy="111.2" r="0.6"/><circle cx="144.7" cy="109.1" r="0.9"/><circle cx="133.2" cy="128.2" r="1.4"/><circle cx="110.6" cy="98.4" r="0.5"/><circle cx="107.0" cy="83.6" r="0.6"/><circle cx="115.6" cy="134.7" r="0.6"/><circle cx="129.5" cy="121.5" r="0.7"/><circle cx="142.0" cy="97.7" r="0.9"/><circle cx="145.4" cy="151.7" r="0.7"/><circle cx="124.9" cy="91.6" r="0.5"/><circle cx="122.3" cy="136.0" r="1.4"/><circle cx="137.0" cy="109.7" r="0.7"/><circle cx="155.0" cy="118.9" r="0.7"/><circle cx="110.8" cy="116.7" r="1.4"/><circle cx="95.4" cy="153.5" r="1.4"/><circle cx="125.5" cy="125.5" r="1.4"/><circle cx="99.0" cy="101.4" r="1.4"/><circle cx="108.3" cy="105.9" r="0.6"/><circle cx="59.2" cy="118.4" r="0.5"/><circle cx="81.0" cy="110.9" r="1.4"/><circle cx="97.9" cy="135.1" r="0.5"/><circle cx="111.4" cy="135.2" r="0.6"/><circle cx="136.3" cy="102.1" r="0.9"/><circle cx="117.7" cy="91.6" r="1.4"/><circle cx="108.5" cy="114.4" r="0.5"/><circle cx="107.8" cy="133.5" r="0.7"/><circle cx="110.2" cy="78.8" r="0.7"/><circle cx="109.4" cy="101.7" r="0.6"/><circle cx="113.9" cy="103.7" r="0.6"/><circle cx="105.1" cy="114.5" r="0.5"/><circle cx="79.5" cy="143.9" r="0.7"/><circle cx="72.0" cy="101.6" r="0.7"/><circle cx="110.2" cy="100.0" r="0.7"/><circle cx="110.6" cy="91.9" r="1.4"/><circle cx="99.5" cy="95.6" r="0.6"/><circle cx="102.7" cy="93.8" r="0.7"/><circle cx="115.3" cy="118.2" r="1.4"/><circle cx="147.4" cy="90.5" r="0.9"/><circle cx="113.8" cy="114.6" r="0.7"/><circle cx="142.2" cy="129.4" r="0.5"/><circle cx="189.0" cy="69.5" r="0.7"/><circle cx="108.7" cy="111.5" r="0.7"/><circle cx="118.4" cy="127.5" r="0.9"/><circle cx="106.0" cy="45.8" r="1.4"/><circle cx="91.6" cy="92.0" r="0.7"/><circle cx="123.0" cy="118.6" r="0.6"/><circle cx="132.4" cy="128.6" r="0.6"/><circle cx="68.7" cy="138.7" r="0.7"/><circle cx="127.5" cy="90.5" r="0.6"/><circle cx="117.8" cy="126.0" r="0.6"/><circle cx="140.9" cy="113.2" r="0.6"/><circle cx="126.0" cy="88.3" r="0.5"/><circle cx="118.8" cy="113.8" r="0.9"/><circle cx="143.6" cy="118.2" r="0.9"/><circle cx="119.6" cy="103.7" r="0.9"/><circle cx="163.9" cy="110.6" r="0.9"/><circle cx="128.4" cy="135.3" r="1.4"/><circle cx="112.7" cy="109.2" r="0.7"/><circle cx="124.0" cy="81.1" r="0.6"/><circle cx="93.5" cy="99.2" r="1.4"/><circle cx="90.7" cy="101.9" r="0.5"/><circle cx="91.7" cy="118.2" r="0.6"/><circle cx="105.8" cy="100.2" r="0.7"/><circle cx="91.7" cy="123.1" r="0.7"/><circle cx="145.8" cy="124.9" r="0.7"/><circle cx="110.9" cy="91.2" r="1.4"/><circle cx="100.0" cy="87.4" r="1.4"/><circle cx="97.1" cy="116.7" r="0.7"/><circle cx="108.0" cy="99.4" r="0.5"/><circle cx="130.3" cy="90.5" r="0.6"/><circle cx="88.1" cy="80.5" r="1.4"/><circle cx="119.6" cy="138.7" r="0.5"/><circle cx="109.9" cy="98.0" r="1.4"/><circle cx="91.6" cy="96.5" r="0.6"/><circle cx="131.7" cy="101.7" r="0.7"/><circle cx="115.3" cy="128.5" r="1.4"/><circle cx="113.0" cy="121.6" r="0.7"/><circle cx="127.2" cy="105.5" r="0.9"/><circle cx="114.0" cy="94.6" r="0.7"/><circle cx="129.1" cy="84.5" r="0.9"/><circle cx="125.4" cy="134.1" r="0.5"/><circle cx="110.4" cy="94.8" r="0.9"/><circle cx="89.9" cy="114.2" r="0.7"/><circle cx="103.3" cy="78.7" r="0.6"/><circle cx="135.8" cy="94.7" r="0.7"/><circle cx="132.0" cy="85.0" r="0.7"/><circle cx="117.3" cy="98.3" r="1.4"/><circle cx="90.2" cy="107.6" r="0.5"/><circle cx="139.7" cy="68.8" r="0.6"/><circle cx="78.4" cy="73.5" r="0.7"/><circle cx="91.9" cy="106.0" r="0.6"/><circle cx="104.2" cy="86.1" r="0.5"/><circle cx="126.8" cy="105.5" r="0.6"/><circle cx="105.3" cy="109.3" r="0.5"/><circle cx="94.6" cy="126.8" r="0.9"/><circle cx="108.9" cy="111.3" r="0.9"/><circle cx="144.1" cy="115.7" r="0.6"/><circle cx="135.3" cy="102.2" r="1.4"/><circle cx="121.8" cy="115.0" r="0.7"/><circle cx="121.2" cy="103.6" r="1.4"/><circle cx="127.4" cy="107.1" r="0.5"/><circle cx="138.3" cy="128.2" r="0.6"/><circle cx="102.3" cy="122.4" r="0.6"/><circle cx="133.6" cy="79.2" r="0.5"/><circle cx="113.7" cy="105.1" r="0.6"/><circle cx="113.5" cy="122.0" r="1.4"/><circle cx="89.7" cy="106.1" r="0.5"/><circle cx="99.6" cy="125.2" r="0.5"/><circle cx="121.6" cy="91.8" r="0.5"/><circle cx="103.0" cy="121.3" r="1.4"/><circle cx="109.8" cy="105.0" r="0.7"/><circle cx="126.6" cy="100.4" r="0.6"/><circle cx="95.2" cy="131.2" r="0.5"/><circle cx="173.4" cy="115.6" r="0.6"/><circle cx="81.1" cy="120.4" r="0.7"/><circle cx="106.2" cy="108.6" r="1.4"/><circle cx="113.4" cy="118.8" r="0.5"/><circle cx="150.9" cy="91.8" r="0.7"/><circle cx="95.6" cy="76.4" r="0.5"/><circle cx="101.1" cy="100.4" r="0.6"/><circle cx="147.9" cy="107.4" r="0.7"/><circle cx="111.5" cy="128.4" r="0.7"/><circle cx="177.7" cy="117.5" r="0.5"/><circle cx="91.1" cy="109.8" r="0.9"/><circle cx="151.4" cy="115.1" r="0.9"/><circle cx="138.8" cy="119.9" r="1.4"/><circle cx="97.4" cy="87.7" r="0.7"/><circle cx="142.9" cy="66.5" r="0.6"/></g><g fill="#5f9ab4" stroke="#2c5c78" stroke-width="0.40"><circle cx="51.0" cy="252.5" r="0.5"/><circle cx="54.3" cy="252.4" r="0.7"/><circle cx="48.4" cy="248.4" r="0.6"/><circle cx="54.3" cy="251.6" r="0.5"/><circle cx="51.9" cy="254.5" r="0.5"/><circle cx="52.4" cy="249.2" r="0.6"/><circle cx="49.6" cy="248.0" r="0.5"/><circle cx="49.5" cy="249.3" r="0.6"/><circle cx="55.2" cy="252.1" r="0.7"/><circle cx="49.1" cy="252.6" r="0.7"/><circle cx="48.6" cy="249.3" r="0.5"/><circle cx="48.9" cy="248.8" r="0.7"/><circle cx="54.5" cy="253.2" r="0.5"/><circle cx="49.6" cy="248.4" r="0.9"/><circle cx="33.3" cy="245.3" r="0.9"/><circle cx="30.2" cy="252.7" r="0.6"/><circle cx="31.4" cy="246.7" r="0.7"/><circle cx="26.0" cy="249.0" r="0.9"/><circle cx="30.9" cy="256.7" r="0.5"/><circle cx="29.7" cy="249.8" r="0.7"/><circle cx="35.3" cy="254.0" r="0.5"/><circle cx="34.4" cy="249.5" r="0.7"/><circle cx="30.3" cy="253.5" r="0.9"/><circle cx="28.4" cy="247.7" r="0.5"/><circle cx="37.0" cy="248.4" r="0.5"/><circle cx="37.9" cy="252.2" r="0.9"/><circle cx="31.6" cy="254.2" r="0.7"/><circle cx="37.2" cy="250.7" r="0.6"/><circle cx="28.7" cy="246.8" r="0.6"/><circle cx="32.8" cy="247.5" r="0.6"/><circle cx="27.1" cy="254.0" r="0.9"/><circle cx="36.6" cy="252.3" r="0.7"/><circle cx="39.4" cy="260.6" r="0.7"/><circle cx="34.7" cy="259.2" r="0.9"/><circle cx="37.9" cy="262.6" r="0.6"/><circle cx="38.4" cy="265.6" r="0.5"/><circle cx="32.2" cy="263.3" r="0.7"/><circle cx="35.6" cy="264.5" r="0.7"/><circle cx="33.8" cy="261.6" r="0.6"/><circle cx="34.7" cy="260.3" r="0.5"/></g><path d="M104.0 90.0 C106.5 87.8 109.5 86.5 113.0 86.0 C116.5 85.5 121.2 86.5 125.0 87.0 C128.8 87.5 132.7 87.5 136.0 89.0 C139.3 90.5 143.2 93.3 145.0 96.0 C146.8 98.7 147.2 101.5 147.0 105.0 C146.8 108.5 145.7 114.0 144.0 117.0 C142.3 120.0 139.7 121.5 137.0 123.0 C134.3 124.5 131.2 125.8 128.0 126.0 C124.8 126.2 121.2 124.8 118.0 124.0 C114.8 123.2 111.7 122.2 109.0 121.0 C106.3 119.8 104.0 118.8 102.0 117.0 C100.0 115.2 97.7 113.0 97.0 110.0 C96.3 107.0 96.8 102.3 98.0 99.0 C99.2 95.7 101.5 92.2 104.0 90.0Z" fill="#1a4462" opacity="0.62" filter="url(#cb)"/><path d="M120.0 93.0 C122.5 89.0 129.8 89.3 134.0 90.0 C138.2 90.7 143.0 93.7 145.0 97.0 C147.0 100.3 146.8 106.3 146.0 110.0 C145.2 113.7 143.0 117.2 140.0 119.0 C137.0 120.8 131.5 121.8 128.0 121.0 C124.5 120.2 120.3 118.7 119.0 114.0 C117.7 109.3 117.5 97.0 120.0 93.0Z" fill="#143a56" opacity="0.55" filter="url(#cb)"/><g fill="#3c7596" stroke="#12304a" stroke-width="0.45"><circle cx="126.2" cy="109.2" r="1.0"/><circle cx="125.1" cy="98.9" r="1.2"/><circle cx="122.2" cy="97.6" r="1.0"/><circle cx="123.1" cy="88.8" r="1.0"/><circle cx="125.2" cy="100.5" r="1.4"/><circle cx="115.5" cy="103.7" r="1.0"/><circle cx="133.0" cy="106.6" r="0.8"/><circle cx="126.4" cy="119.8" r="0.8"/><circle cx="128.6" cy="96.2" r="1.4"/><circle cx="109.2" cy="104.7" r="1.6"/><circle cx="141.4" cy="109.5" r="0.8"/><circle cx="124.9" cy="110.0" r="1.2"/><circle cx="118.9" cy="105.0" r="1.2"/><circle cx="137.1" cy="115.7" r="0.8"/><circle cx="162.0" cy="115.1" r="1.4"/><circle cx="105.1" cy="117.2" r="1.4"/><circle cx="132.3" cy="105.3" r="0.8"/><circle cx="139.5" cy="120.8" r="1.4"/><circle cx="123.9" cy="116.6" r="0.8"/><circle cx="119.2" cy="92.5" r="1.2"/><circle cx="125.3" cy="111.2" r="1.0"/><circle cx="116.7" cy="113.6" r="1.2"/><circle cx="138.0" cy="100.3" r="1.2"/><circle cx="134.6" cy="133.9" r="1.4"/><circle cx="126.8" cy="94.0" r="1.6"/><circle cx="130.1" cy="93.7" r="1.6"/><circle cx="122.9" cy="108.9" r="1.0"/><circle cx="120.7" cy="113.5" r="1.4"/><circle cx="119.4" cy="114.1" r="1.0"/><circle cx="135.3" cy="105.2" r="1.4"/><circle cx="144.8" cy="112.7" r="1.0"/><circle cx="126.6" cy="110.2" r="1.6"/><circle cx="107.1" cy="115.7" r="1.6"/><circle cx="145.5" cy="124.6" r="1.6"/><circle cx="135.7" cy="83.7" r="0.8"/><circle cx="126.2" cy="109.5" r="1.2"/><circle cx="124.4" cy="89.7" r="1.6"/><circle cx="137.0" cy="135.7" r="1.2"/><circle cx="118.4" cy="107.3" r="1.6"/><circle cx="136.8" cy="86.9" r="1.0"/><circle cx="125.3" cy="106.5" r="1.4"/><circle cx="132.4" cy="94.7" r="1.6"/><circle cx="140.7" cy="98.7" r="1.2"/><circle cx="127.9" cy="110.9" r="1.0"/><circle cx="139.4" cy="104.3" r="1.4"/><circle cx="125.0" cy="100.5" r="1.4"/><circle cx="139.3" cy="98.9" r="1.2"/><circle cx="141.7" cy="101.9" r="1.6"/><circle cx="130.0" cy="118.0" r="1.0"/><circle cx="123.7" cy="114.1" r="1.0"/><circle cx="132.1" cy="89.0" r="1.2"/><circle cx="120.1" cy="108.7" r="1.4"/><circle cx="111.9" cy="103.0" r="1.0"/><circle cx="135.5" cy="120.7" r="1.6"/><circle cx="137.1" cy="115.6" r="1.0"/><circle cx="137.2" cy="94.1" r="1.2"/><circle cx="118.0" cy="106.2" r="1.2"/><circle cx="132.4" cy="94.1" r="1.6"/><circle cx="121.3" cy="101.1" r="1.0"/><circle cx="130.1" cy="120.9" r="1.0"/><circle cx="120.7" cy="114.6" r="1.0"/><circle cx="132.8" cy="99.6" r="1.2"/><circle cx="148.2" cy="115.4" r="1.6"/><circle cx="111.2" cy="114.8" r="1.6"/><circle cx="127.3" cy="115.5" r="1.2"/><circle cx="132.3" cy="92.6" r="1.0"/><circle cx="120.6" cy="98.4" r="1.0"/><circle cx="127.0" cy="91.5" r="1.2"/><circle cx="139.8" cy="86.0" r="1.0"/><circle cx="142.6" cy="125.2" r="1.2"/><circle cx="113.3" cy="113.5" r="0.8"/><circle cx="118.5" cy="107.6" r="1.0"/><circle cx="147.4" cy="81.7" r="0.8"/><circle cx="133.0" cy="117.0" r="1.0"/><circle cx="136.0" cy="85.9" r="1.4"/><circle cx="140.8" cy="107.1" r="1.0"/><circle cx="146.1" cy="124.5" r="1.0"/><circle cx="141.5" cy="103.5" r="1.2"/><circle cx="116.0" cy="105.0" r="1.2"/><circle cx="132.0" cy="98.5" r="1.4"/><circle cx="136.5" cy="136.0" r="1.2"/><circle cx="139.0" cy="124.2" r="1.0"/><circle cx="128.4" cy="82.9" r="0.8"/><circle cx="132.4" cy="104.1" r="0.8"/><circle cx="128.3" cy="105.4" r="1.2"/><circle cx="134.3" cy="119.5" r="1.0"/><circle cx="142.9" cy="115.3" r="1.4"/><circle cx="143.5" cy="106.7" r="1.4"/><circle cx="117.6" cy="100.4" r="0.8"/><circle cx="130.0" cy="100.9" r="0.8"/><circle cx="112.1" cy="129.7" r="1.4"/><circle cx="128.4" cy="115.2" r="1.4"/><circle cx="128.3" cy="105.5" r="1.0"/><circle cx="96.5" cy="86.4" r="1.6"/><circle cx="123.3" cy="115.3" r="1.2"/><circle cx="134.4" cy="100.1" r="1.4"/><circle cx="115.7" cy="99.6" r="0.8"/><circle cx="138.0" cy="111.5" r="1.0"/><circle cx="126.9" cy="102.2" r="1.2"/><circle cx="128.6" cy="130.7" r="1.6"/><circle cx="126.6" cy="101.4" r="1.4"/><circle cx="125.8" cy="118.4" r="0.8"/><circle cx="116.6" cy="113.1" r="1.0"/><circle cx="127.7" cy="87.1" r="1.4"/><circle cx="118.4" cy="112.6" r="1.6"/><circle cx="136.6" cy="109.1" r="1.6"/><circle cx="131.3" cy="103.1" r="1.4"/><circle cx="120.9" cy="104.0" r="1.0"/><circle cx="131.0" cy="98.7" r="1.6"/><circle cx="119.3" cy="105.5" r="1.0"/><circle cx="133.0" cy="103.7" r="1.0"/><circle cx="121.1" cy="91.8" r="0.8"/><circle cx="140.1" cy="101.0" r="1.4"/><circle cx="131.7" cy="104.9" r="1.4"/><circle cx="112.8" cy="85.4" r="1.2"/><circle cx="129.9" cy="107.5" r="1.2"/><circle cx="121.1" cy="96.5" r="0.8"/><circle cx="128.5" cy="98.4" r="1.4"/><circle cx="110.5" cy="106.8" r="1.0"/><circle cx="124.4" cy="110.5" r="1.4"/><circle cx="132.5" cy="111.0" r="1.0"/><circle cx="128.8" cy="123.2" r="1.2"/><circle cx="117.0" cy="100.4" r="1.4"/><circle cx="116.3" cy="121.1" r="1.4"/><circle cx="152.9" cy="82.9" r="1.4"/><circle cx="122.7" cy="106.5" r="0.8"/><circle cx="131.1" cy="109.4" r="1.6"/><circle cx="105.3" cy="111.5" r="1.4"/><circle cx="113.8" cy="93.7" r="1.6"/><circle cx="110.7" cy="115.4" r="1.0"/><circle cx="115.2" cy="123.2" r="1.2"/><circle cx="139.1" cy="119.7" r="0.8"/><circle cx="128.2" cy="120.9" r="1.4"/><circle cx="118.2" cy="106.6" r="1.4"/><circle cx="131.1" cy="92.7" r="0.8"/><circle cx="124.6" cy="98.0" r="0.8"/><circle cx="123.0" cy="95.4" r="1.2"/><circle cx="116.9" cy="112.4" r="1.6"/><circle cx="130.4" cy="102.5" r="1.0"/><circle cx="128.1" cy="110.3" r="1.0"/><circle cx="122.2" cy="96.9" r="1.0"/><circle cx="107.2" cy="126.4" r="1.6"/><circle cx="143.2" cy="116.3" r="1.2"/><circle cx="126.6" cy="79.1" r="0.8"/><circle cx="117.6" cy="122.0" r="1.6"/><circle cx="115.9" cy="89.4" r="1.4"/><circle cx="132.1" cy="105.7" r="1.6"/><circle cx="131.8" cy="101.9" r="1.0"/><circle cx="129.4" cy="92.7" r="1.4"/><circle cx="137.2" cy="87.0" r="1.6"/><circle cx="147.9" cy="100.2" r="0.8"/><circle cx="133.2" cy="118.5" r="1.2"/><circle cx="151.8" cy="115.0" r="1.6"/><circle cx="117.6" cy="121.0" r="1.2"/><circle cx="130.4" cy="114.2" r="1.4"/><circle cx="138.5" cy="98.6" r="1.4"/><circle cx="135.6" cy="91.8" r="1.0"/><circle cx="117.8" cy="101.9" r="1.0"/><circle cx="130.7" cy="117.7" r="1.4"/><circle cx="124.2" cy="93.2" r="1.6"/><circle cx="122.6" cy="102.3" r="0.8"/><circle cx="122.8" cy="107.0" r="1.6"/><circle cx="139.0" cy="117.1" r="1.2"/><circle cx="127.3" cy="118.5" r="0.8"/><circle cx="156.7" cy="112.4" r="1.2"/><circle cx="128.9" cy="112.2" r="1.2"/><circle cx="104.7" cy="105.2" r="1.4"/><circle cx="124.8" cy="120.6" r="1.4"/><circle cx="136.6" cy="87.7" r="0.8"/><circle cx="132.5" cy="97.1" r="0.8"/><circle cx="123.7" cy="114.4" r="0.8"/><circle cx="125.0" cy="114.8" r="1.4"/><circle cx="120.9" cy="106.8" r="1.4"/><circle cx="125.9" cy="115.5" r="1.2"/><circle cx="134.9" cy="103.7" r="1.6"/><circle cx="134.3" cy="111.7" r="1.2"/><circle cx="124.0" cy="120.1" r="0.8"/><circle cx="126.5" cy="100.9" r="1.0"/><circle cx="125.0" cy="105.8" r="1.2"/><circle cx="149.5" cy="113.4" r="1.4"/><circle cx="125.5" cy="118.8" r="1.6"/><circle cx="107.7" cy="118.0" r="1.0"/><circle cx="127.2" cy="109.8" r="1.4"/><circle cx="116.0" cy="88.4" r="1.4"/><circle cx="128.1" cy="110.7" r="1.0"/><circle cx="121.6" cy="103.4" r="1.0"/><circle cx="117.2" cy="89.6" r="1.0"/><circle cx="127.7" cy="104.7" r="0.8"/><circle cx="121.5" cy="89.0" r="1.0"/><circle cx="125.5" cy="108.0" r="1.4"/><circle cx="125.4" cy="108.4" r="1.6"/><circle cx="130.9" cy="106.9" r="1.0"/><circle cx="133.2" cy="80.0" r="1.0"/><circle cx="141.7" cy="88.9" r="1.2"/><circle cx="117.6" cy="109.3" r="1.4"/><circle cx="125.9" cy="101.9" r="1.4"/><circle cx="139.2" cy="112.4" r="1.2"/><circle cx="116.9" cy="103.9" r="1.6"/><circle cx="137.4" cy="91.1" r="1.0"/><circle cx="131.7" cy="120.0" r="1.4"/><circle cx="124.9" cy="94.7" r="1.2"/><circle cx="113.4" cy="138.6" r="1.0"/><circle cx="125.8" cy="94.0" r="1.2"/><circle cx="142.6" cy="117.1" r="1.4"/><circle cx="138.5" cy="100.6" r="1.2"/><circle cx="145.1" cy="113.7" r="1.4"/><circle cx="137.7" cy="91.9" r="1.0"/><circle cx="117.4" cy="110.8" r="1.4"/><circle cx="139.8" cy="104.9" r="0.8"/><circle cx="129.4" cy="111.6" r="1.2"/><circle cx="137.1" cy="117.7" r="1.2"/><circle cx="111.5" cy="117.1" r="1.0"/><circle cx="129.5" cy="109.4" r="1.2"/><circle cx="134.9" cy="125.9" r="1.2"/><circle cx="114.3" cy="111.7" r="1.4"/><circle cx="146.0" cy="102.5" r="1.4"/><circle cx="129.7" cy="116.8" r="1.4"/><circle cx="129.5" cy="113.0" r="1.6"/><circle cx="136.0" cy="113.5" r="0.8"/><circle cx="134.7" cy="85.8" r="1.2"/><circle cx="133.8" cy="97.8" r="1.0"/><circle cx="130.5" cy="103.6" r="1.2"/><circle cx="137.4" cy="103.2" r="1.4"/><circle cx="119.5" cy="92.2" r="0.8"/><circle cx="139.3" cy="119.7" r="0.8"/><circle cx="126.5" cy="81.1" r="1.6"/><circle cx="120.2" cy="84.5" r="1.2"/><circle cx="120.9" cy="91.8" r="1.0"/><circle cx="128.2" cy="119.5" r="1.6"/><circle cx="125.6" cy="103.8" r="1.2"/><circle cx="134.5" cy="105.2" r="1.6"/><circle cx="122.7" cy="109.9" r="0.8"/><circle cx="148.2" cy="108.0" r="0.8"/><circle cx="128.8" cy="130.6" r="1.0"/><circle cx="141.0" cy="94.4" r="0.8"/><circle cx="126.1" cy="95.8" r="1.2"/><circle cx="116.6" cy="111.3" r="1.2"/><circle cx="143.6" cy="93.1" r="1.6"/><circle cx="125.1" cy="96.4" r="0.8"/><circle cx="124.5" cy="117.4" r="1.6"/><circle cx="116.5" cy="113.4" r="1.0"/><circle cx="128.1" cy="107.0" r="1.0"/><circle cx="140.1" cy="108.5" r="1.0"/><circle cx="112.6" cy="107.0" r="1.4"/><circle cx="142.5" cy="88.8" r="1.2"/><circle cx="135.3" cy="96.5" r="1.0"/><circle cx="135.7" cy="113.2" r="1.0"/><circle cx="110.7" cy="117.6" r="1.4"/><circle cx="112.8" cy="100.8" r="1.6"/><circle cx="132.9" cy="109.2" r="1.0"/><circle cx="137.5" cy="103.8" r="1.6"/><circle cx="128.6" cy="101.2" r="1.6"/><circle cx="135.8" cy="81.8" r="0.8"/><circle cx="122.5" cy="86.3" r="1.6"/><circle cx="131.6" cy="107.9" r="1.2"/><circle cx="119.4" cy="90.7" r="1.0"/><circle cx="131.1" cy="111.2" r="1.4"/><circle cx="136.4" cy="101.8" r="1.0"/><circle cx="140.9" cy="89.2" r="1.6"/><circle cx="126.7" cy="87.1" r="0.8"/><circle cx="125.0" cy="128.4" r="1.4"/><circle cx="123.6" cy="98.5" r="0.8"/><circle cx="117.1" cy="118.1" r="1.6"/><circle cx="139.8" cy="101.9" r="0.8"/><circle cx="118.1" cy="135.4" r="1.2"/><circle cx="113.4" cy="103.6" r="1.4"/><circle cx="124.0" cy="98.6" r="1.0"/><circle cx="121.4" cy="110.0" r="1.0"/><circle cx="112.8" cy="111.5" r="1.4"/><circle cx="123.2" cy="115.5" r="1.4"/><circle cx="110.3" cy="116.1" r="1.6"/><circle cx="120.3" cy="125.0" r="0.8"/><circle cx="145.7" cy="118.9" r="1.4"/><circle cx="140.1" cy="106.8" r="1.4"/><circle cx="112.8" cy="98.7" r="1.0"/><circle cx="136.0" cy="102.7" r="1.4"/><circle cx="109.4" cy="94.7" r="1.0"/><circle cx="130.6" cy="94.7" r="1.4"/><circle cx="118.4" cy="111.5" r="1.0"/><circle cx="131.2" cy="115.9" r="1.6"/><circle cx="133.4" cy="112.1" r="1.6"/><circle cx="114.1" cy="80.7" r="0.8"/><circle cx="120.3" cy="118.1" r="1.0"/><circle cx="109.4" cy="130.6" r="1.2"/><circle cx="150.5" cy="92.0" r="1.4"/><circle cx="145.1" cy="98.8" r="1.6"/><circle cx="130.4" cy="97.8" r="1.4"/><circle cx="119.4" cy="120.4" r="1.2"/><circle cx="117.6" cy="108.7" r="1.4"/><circle cx="138.4" cy="113.5" r="1.2"/><circle cx="126.3" cy="103.0" r="1.4"/><circle cx="139.3" cy="114.9" r="1.4"/><circle cx="119.7" cy="117.9" r="0.8"/><circle cx="118.2" cy="100.2" r="1.0"/><circle cx="124.4" cy="111.3" r="1.2"/><circle cx="109.9" cy="118.0" r="0.8"/><circle cx="128.5" cy="107.9" r="0.8"/><circle cx="138.5" cy="90.6" r="1.6"/><circle cx="124.0" cy="106.1" r="0.8"/><circle cx="133.4" cy="122.3" r="1.2"/><circle cx="119.2" cy="126.0" r="0.8"/><circle cx="131.7" cy="106.3" r="1.6"/><circle cx="144.3" cy="87.1" r="1.4"/><circle cx="119.2" cy="94.0" r="1.4"/><circle cx="120.4" cy="94.6" r="1.0"/><circle cx="121.6" cy="104.4" r="0.8"/><circle cx="131.7" cy="107.2" r="1.0"/><circle cx="134.3" cy="109.2" r="1.4"/><circle cx="133.9" cy="131.1" r="1.0"/><circle cx="136.4" cy="119.2" r="1.2"/><circle cx="126.1" cy="98.5" r="0.8"/><circle cx="114.9" cy="109.8" r="1.2"/><circle cx="122.5" cy="90.1" r="1.2"/><circle cx="113.0" cy="110.2" r="1.4"/><circle cx="124.3" cy="104.6" r="1.6"/><circle cx="112.4" cy="72.6" r="1.6"/><circle cx="130.1" cy="92.5" r="1.0"/><circle cx="118.9" cy="100.3" r="1.2"/><circle cx="103.6" cy="109.2" r="1.4"/><circle cx="138.9" cy="118.3" r="1.2"/><circle cx="133.3" cy="145.4" r="1.4"/><circle cx="121.8" cy="122.1" r="1.2"/><circle cx="138.6" cy="127.8" r="1.6"/><circle cx="154.3" cy="100.5" r="0.8"/><circle cx="126.6" cy="109.7" r="1.2"/><circle cx="121.6" cy="89.7" r="1.2"/><circle cx="126.1" cy="79.6" r="1.2"/><circle cx="137.2" cy="107.0" r="1.4"/><circle cx="151.3" cy="101.7" r="1.4"/><circle cx="136.6" cy="116.3" r="1.2"/><circle cx="132.3" cy="131.2" r="1.6"/><circle cx="133.9" cy="100.7" r="1.2"/><circle cx="134.0" cy="131.3" r="1.6"/><circle cx="128.4" cy="117.8" r="1.2"/><circle cx="121.8" cy="96.8" r="1.0"/><circle cx="148.6" cy="89.6" r="1.4"/><circle cx="148.8" cy="109.7" r="0.8"/><circle cx="117.3" cy="99.5" r="1.2"/><circle cx="126.9" cy="105.4" r="1.0"/><circle cx="152.4" cy="118.8" r="1.2"/><circle cx="122.9" cy="130.4" r="1.2"/><circle cx="134.0" cy="95.7" r="1.0"/><circle cx="118.7" cy="94.8" r="1.6"/><circle cx="128.5" cy="109.0" r="0.8"/><circle cx="136.0" cy="119.8" r="0.8"/><circle cx="134.9" cy="137.5" r="1.4"/><circle cx="128.0" cy="103.0" r="1.6"/><circle cx="133.8" cy="121.6" r="1.4"/><circle cx="131.4" cy="108.3" r="1.6"/><circle cx="145.8" cy="118.7" r="1.6"/><circle cx="130.9" cy="98.5" r="0.8"/><circle cx="141.7" cy="105.9" r="1.4"/><circle cx="123.2" cy="82.3" r="1.2"/><circle cx="134.2" cy="88.1" r="0.8"/><circle cx="120.3" cy="109.9" r="0.8"/><circle cx="127.9" cy="109.1" r="0.8"/><circle cx="152.4" cy="104.9" r="1.0"/><circle cx="129.6" cy="101.1" r="1.4"/><circle cx="133.1" cy="89.8" r="1.6"/><circle cx="122.2" cy="105.2" r="0.8"/><circle cx="136.9" cy="91.3" r="1.6"/><circle cx="122.3" cy="115.2" r="1.6"/><circle cx="124.0" cy="116.4" r="1.6"/><circle cx="131.5" cy="105.4" r="1.4"/><circle cx="137.2" cy="81.3" r="1.6"/><circle cx="134.5" cy="91.1" r="1.0"/><circle cx="119.0" cy="104.8" r="1.6"/><circle cx="133.7" cy="85.6" r="0.8"/><circle cx="139.6" cy="112.6" r="1.0"/><circle cx="135.3" cy="116.5" r="0.8"/><circle cx="139.6" cy="114.4" r="1.4"/><circle cx="130.1" cy="83.7" r="1.0"/><circle cx="121.6" cy="99.4" r="0.8"/><circle cx="114.5" cy="107.8" r="1.0"/><circle cx="118.1" cy="123.3" r="0.8"/><circle cx="136.1" cy="112.4" r="1.4"/><circle cx="138.3" cy="120.1" r="0.8"/><circle cx="148.8" cy="83.2" r="0.8"/><circle cx="110.8" cy="83.4" r="1.2"/><circle cx="114.7" cy="100.3" r="1.0"/><circle cx="113.4" cy="95.3" r="1.0"/><circle cx="122.5" cy="108.0" r="1.0"/><circle cx="113.6" cy="115.1" r="1.0"/><circle cx="110.1" cy="122.3" r="1.6"/><circle cx="119.9" cy="99.7" r="0.8"/><circle cx="115.1" cy="106.7" r="0.8"/><circle cx="136.7" cy="92.7" r="1.6"/><circle cx="94.8" cy="124.2" r="1.4"/><circle cx="116.9" cy="106.2" r="1.2"/><circle cx="114.1" cy="119.9" r="1.0"/><circle cx="134.6" cy="67.9" r="1.0"/><circle cx="110.0" cy="117.1" r="1.0"/><circle cx="133.0" cy="93.4" r="1.6"/><circle cx="122.4" cy="104.6" r="1.0"/><circle cx="118.9" cy="102.8" r="1.6"/><circle cx="113.6" cy="104.6" r="1.2"/><circle cx="121.2" cy="98.5" r="1.0"/><circle cx="118.9" cy="98.1" r="0.8"/><circle cx="132.8" cy="85.4" r="0.8"/><circle cx="127.9" cy="109.7" r="1.6"/><circle cx="120.8" cy="103.7" r="1.4"/><circle cx="111.2" cy="94.7" r="0.8"/><circle cx="119.4" cy="86.7" r="1.6"/><circle cx="132.6" cy="92.1" r="1.2"/><circle cx="109.4" cy="103.1" r="1.2"/><circle cx="122.3" cy="94.2" r="1.2"/><circle cx="129.5" cy="83.7" r="1.4"/><circle cx="119.6" cy="102.0" r="0.8"/><circle cx="100.1" cy="111.1" r="0.8"/><circle cx="127.0" cy="96.4" r="1.4"/><circle cx="113.9" cy="102.5" r="1.4"/><circle cx="119.4" cy="91.4" r="1.0"/><circle cx="127.8" cy="94.6" r="1.2"/><circle cx="106.9" cy="113.7" r="1.0"/><circle cx="113.0" cy="105.0" r="1.0"/><circle cx="115.3" cy="96.9" r="1.6"/><circle cx="104.1" cy="110.0" r="1.2"/><circle cx="113.3" cy="116.5" r="0.8"/><circle cx="109.4" cy="87.8" r="1.0"/><circle cx="113.2" cy="95.5" r="1.2"/><circle cx="119.1" cy="106.5" r="1.6"/><circle cx="130.0" cy="84.2" r="1.6"/><circle cx="117.1" cy="95.6" r="0.8"/><circle cx="89.4" cy="123.5" r="1.2"/><circle cx="117.0" cy="91.1" r="1.6"/><circle cx="120.3" cy="112.7" r="1.4"/><circle cx="120.9" cy="92.4" r="1.6"/><circle cx="106.2" cy="105.5" r="0.8"/><circle cx="124.3" cy="81.9" r="0.8"/><circle cx="118.2" cy="104.4" r="1.2"/><circle cx="123.2" cy="109.3" r="1.0"/><circle cx="98.8" cy="119.3" r="1.2"/><circle cx="118.9" cy="100.5" r="1.4"/><circle cx="116.9" cy="86.4" r="1.6"/><circle cx="120.1" cy="89.4" r="0.8"/><circle cx="126.4" cy="115.4" r="1.2"/><circle cx="114.5" cy="91.7" r="0.8"/><circle cx="122.2" cy="92.4" r="1.4"/><circle cx="131.2" cy="93.3" r="1.4"/><circle cx="116.1" cy="99.0" r="1.6"/><circle cx="104.8" cy="94.5" r="0.8"/><circle cx="126.9" cy="107.9" r="1.6"/><circle cx="108.0" cy="105.9" r="1.6"/><circle cx="124.0" cy="104.5" r="1.0"/><circle cx="108.0" cy="96.6" r="0.8"/><circle cx="115.0" cy="109.5" r="1.0"/><circle cx="114.0" cy="90.1" r="0.8"/><circle cx="126.7" cy="107.6" r="1.0"/><circle cx="125.3" cy="78.6" r="1.6"/><circle cx="107.3" cy="117.1" r="1.0"/><circle cx="111.3" cy="109.3" r="1.0"/><circle cx="123.3" cy="103.7" r="0.8"/><circle cx="110.3" cy="103.8" r="1.2"/><circle cx="107.6" cy="113.8" r="1.2"/><circle cx="112.7" cy="110.6" r="1.6"/><circle cx="152.1" cy="67.7" r="0.8"/><circle cx="117.0" cy="109.4" r="0.8"/><circle cx="100.3" cy="113.1" r="0.8"/><circle cx="130.9" cy="99.4" r="1.0"/><circle cx="117.8" cy="116.4" r="1.2"/><circle cx="120.5" cy="101.0" r="0.8"/><circle cx="134.8" cy="79.1" r="1.6"/><circle cx="107.4" cy="120.2" r="1.6"/><circle cx="126.8" cy="112.6" r="1.4"/><circle cx="105.3" cy="134.8" r="1.6"/><circle cx="109.3" cy="94.1" r="1.0"/><circle cx="123.5" cy="94.2" r="1.4"/><circle cx="124.6" cy="96.7" r="0.8"/><circle cx="121.7" cy="103.4" r="1.2"/><circle cx="130.9" cy="90.9" r="0.8"/><circle cx="120.1" cy="91.4" r="1.0"/><circle cx="132.0" cy="75.8" r="0.8"/><circle cx="131.9" cy="91.0" r="1.2"/><circle cx="116.2" cy="110.2" r="0.8"/><circle cx="123.4" cy="94.1" r="1.4"/><circle cx="103.3" cy="117.7" r="1.4"/><circle cx="128.2" cy="84.9" r="1.6"/><circle cx="114.4" cy="117.2" r="1.6"/><circle cx="142.7" cy="95.9" r="1.2"/><circle cx="124.0" cy="95.2" r="0.8"/><circle cx="125.6" cy="95.6" r="0.8"/><circle cx="116.6" cy="126.8" r="0.8"/><circle cx="125.6" cy="80.4" r="1.4"/><circle cx="135.6" cy="85.6" r="1.0"/><circle cx="106.9" cy="102.7" r="1.6"/><circle cx="120.8" cy="99.8" r="1.6"/><circle cx="134.5" cy="96.8" r="1.0"/><circle cx="127.0" cy="84.7" r="1.0"/><circle cx="121.7" cy="114.1" r="1.0"/><circle cx="115.5" cy="101.8" r="1.6"/><circle cx="118.9" cy="111.0" r="1.4"/><circle cx="129.7" cy="97.3" r="1.4"/><circle cx="124.8" cy="102.2" r="1.0"/><circle cx="132.9" cy="97.4" r="0.8"/><circle cx="132.5" cy="85.2" r="1.4"/><circle cx="120.3" cy="103.9" r="1.4"/><circle cx="121.8" cy="95.0" r="1.6"/><circle cx="129.4" cy="78.3" r="1.6"/><circle cx="119.7" cy="97.4" r="1.6"/><circle cx="115.1" cy="109.8" r="0.8"/><circle cx="128.4" cy="79.5" r="1.4"/><circle cx="106.9" cy="110.0" r="0.8"/><circle cx="118.3" cy="122.5" r="1.2"/><circle cx="107.0" cy="121.8" r="1.2"/><circle cx="125.0" cy="100.9" r="1.4"/><circle cx="134.1" cy="88.2" r="1.0"/><circle cx="112.3" cy="109.7" r="1.2"/><circle cx="119.5" cy="95.1" r="1.4"/><circle cx="115.4" cy="111.3" r="1.6"/><circle cx="126.6" cy="114.8" r="1.2"/><circle cx="118.3" cy="109.9" r="1.4"/><circle cx="110.7" cy="114.9" r="1.6"/><circle cx="119.9" cy="97.9" r="0.8"/><circle cx="120.7" cy="99.7" r="1.2"/><circle cx="123.1" cy="86.0" r="1.6"/><circle cx="126.7" cy="105.1" r="1.0"/><circle cx="120.8" cy="109.2" r="1.2"/><circle cx="125.7" cy="104.2" r="1.0"/><circle cx="147.7" cy="60.1" r="1.4"/><circle cx="120.4" cy="98.2" r="0.8"/><circle cx="125.2" cy="118.8" r="1.2"/><circle cx="134.4" cy="87.9" r="0.8"/><circle cx="126.7" cy="124.0" r="1.6"/><circle cx="134.8" cy="82.7" r="1.0"/><circle cx="118.0" cy="109.5" r="0.8"/><circle cx="134.6" cy="81.0" r="1.2"/><circle cx="111.9" cy="111.3" r="1.4"/><circle cx="105.3" cy="132.3" r="1.0"/><circle cx="127.5" cy="106.0" r="1.6"/><circle cx="124.3" cy="101.0" r="0.8"/><circle cx="101.2" cy="123.0" r="1.2"/><circle cx="75.5" cy="123.6" r="1.4"/><circle cx="101.5" cy="112.9" r="1.6"/><circle cx="125.0" cy="118.2" r="1.2"/><circle cx="116.3" cy="123.7" r="0.8"/><circle cx="98.1" cy="93.8" r="1.2"/><circle cx="100.4" cy="100.8" r="1.6"/><circle cx="105.7" cy="111.0" r="1.4"/><circle cx="105.9" cy="117.1" r="1.2"/><circle cx="109.1" cy="115.9" r="1.4"/><circle cx="107.0" cy="115.6" r="0.8"/><circle cx="99.5" cy="116.5" r="0.8"/><circle cx="117.7" cy="128.9" r="1.4"/><circle cx="121.9" cy="109.5" r="1.2"/><circle cx="109.9" cy="122.8" r="1.6"/><circle cx="113.0" cy="111.9" r="1.0"/><circle cx="89.3" cy="105.1" r="1.4"/><circle cx="114.9" cy="110.4" r="1.0"/><circle cx="95.9" cy="127.1" r="1.4"/><circle cx="106.8" cy="105.3" r="1.2"/><circle cx="91.4" cy="112.4" r="1.2"/><circle cx="101.5" cy="122.5" r="1.0"/><circle cx="98.4" cy="107.5" r="1.4"/><circle cx="111.0" cy="110.1" r="0.8"/><circle cx="89.5" cy="109.7" r="1.2"/><circle cx="109.8" cy="117.4" r="0.8"/><circle cx="102.9" cy="125.2" r="1.2"/><circle cx="112.0" cy="114.3" r="1.0"/><circle cx="109.0" cy="112.1" r="1.0"/><circle cx="111.2" cy="113.2" r="1.0"/><circle cx="98.6" cy="118.4" r="0.8"/><circle cx="109.6" cy="110.1" r="1.0"/><circle cx="105.2" cy="114.3" r="1.2"/><circle cx="96.1" cy="105.0" r="1.6"/><circle cx="93.1" cy="121.4" r="1.0"/><circle cx="90.9" cy="105.3" r="1.6"/><circle cx="91.2" cy="122.2" r="1.4"/><circle cx="83.5" cy="100.1" r="1.4"/><circle cx="104.6" cy="90.5" r="1.0"/><circle cx="91.6" cy="115.8" r="1.0"/><circle cx="105.1" cy="119.1" r="1.2"/><circle cx="101.5" cy="106.3" r="1.2"/><circle cx="107.2" cy="110.2" r="1.0"/><circle cx="121.2" cy="101.0" r="1.4"/><circle cx="109.9" cy="115.3" r="1.4"/><circle cx="100.9" cy="100.5" r="1.6"/><circle cx="105.7" cy="103.0" r="1.0"/><circle cx="107.6" cy="121.3" r="1.2"/><circle cx="101.1" cy="110.1" r="1.4"/><circle cx="78.1" cy="122.6" r="1.6"/><circle cx="106.3" cy="131.1" r="1.0"/><circle cx="96.8" cy="124.8" r="1.0"/><circle cx="110.1" cy="129.2" r="1.4"/><circle cx="104.9" cy="105.0" r="1.0"/><circle cx="97.0" cy="118.1" r="1.2"/><circle cx="95.1" cy="106.8" r="1.6"/><circle cx="103.9" cy="111.9" r="1.4"/><circle cx="115.2" cy="84.9" r="1.6"/><circle cx="97.2" cy="116.4" r="1.2"/><circle cx="92.7" cy="103.7" r="1.6"/><circle cx="95.9" cy="113.7" r="1.0"/><circle cx="98.4" cy="130.6" r="1.4"/><circle cx="85.6" cy="130.3" r="1.6"/><circle cx="101.5" cy="106.9" r="1.6"/><circle cx="85.7" cy="131.1" r="1.0"/><circle cx="124.4" cy="104.5" r="1.0"/><circle cx="109.1" cy="116.5" r="0.8"/><circle cx="110.9" cy="110.4" r="1.6"/><circle cx="98.6" cy="108.6" r="0.8"/><circle cx="101.1" cy="103.8" r="1.6"/><circle cx="115.0" cy="102.1" r="1.2"/><circle cx="94.7" cy="114.2" r="1.4"/><circle cx="113.2" cy="121.0" r="0.8"/><circle cx="102.8" cy="113.0" r="1.6"/><circle cx="107.7" cy="117.8" r="1.0"/><circle cx="94.2" cy="115.8" r="1.2"/><circle cx="101.1" cy="91.7" r="0.8"/><circle cx="104.6" cy="119.0" r="1.4"/><circle cx="95.6" cy="114.7" r="0.8"/><circle cx="114.0" cy="94.1" r="1.0"/><circle cx="97.5" cy="101.6" r="1.0"/><circle cx="105.6" cy="108.9" r="1.2"/><circle cx="96.6" cy="117.7" r="1.0"/><circle cx="108.1" cy="119.0" r="0.8"/><circle cx="103.8" cy="127.1" r="0.8"/><circle cx="98.7" cy="120.3" r="1.6"/><circle cx="113.9" cy="112.1" r="1.2"/><circle cx="115.2" cy="115.0" r="1.6"/><circle cx="91.7" cy="104.8" r="1.2"/><circle cx="100.1" cy="133.5" r="1.0"/><circle cx="101.1" cy="113.8" r="0.8"/><circle cx="101.5" cy="109.9" r="1.2"/><circle cx="96.9" cy="103.5" r="0.8"/><circle cx="108.0" cy="98.3" r="1.0"/><circle cx="104.5" cy="113.3" r="1.2"/><circle cx="106.5" cy="100.7" r="1.0"/><circle cx="112.4" cy="111.1" r="1.4"/><circle cx="104.7" cy="114.4" r="1.2"/><circle cx="108.0" cy="116.0" r="1.2"/><circle cx="110.1" cy="101.6" r="1.4"/><circle cx="120.8" cy="103.4" r="1.4"/><circle cx="100.1" cy="110.8" r="1.0"/><circle cx="102.2" cy="126.2" r="1.2"/><circle cx="105.7" cy="124.1" r="1.0"/><circle cx="102.3" cy="112.1" r="0.8"/><circle cx="115.5" cy="130.0" r="1.2"/><circle cx="95.5" cy="110.1" r="1.2"/><circle cx="89.1" cy="114.9" r="1.4"/><circle cx="102.2" cy="98.9" r="0.8"/><circle cx="101.4" cy="109.0" r="1.4"/><circle cx="101.3" cy="120.6" r="1.0"/><circle cx="113.0" cy="120.0" r="1.4"/><circle cx="122.7" cy="100.5" r="1.2"/><circle cx="107.5" cy="117.2" r="0.8"/><circle cx="103.5" cy="111.3" r="1.0"/><circle cx="101.5" cy="122.7" r="1.2"/><circle cx="105.4" cy="110.3" r="0.8"/><circle cx="108.2" cy="117.5" r="1.2"/><circle cx="102.5" cy="118.7" r="1.6"/><circle cx="101.4" cy="108.4" r="1.0"/><circle cx="118.5" cy="120.0" r="0.8"/><circle cx="95.5" cy="112.5" r="1.4"/><circle cx="95.7" cy="132.1" r="0.8"/><circle cx="106.9" cy="113.7" r="1.6"/><circle cx="104.4" cy="98.5" r="1.0"/><circle cx="99.5" cy="105.4" r="1.4"/><circle cx="91.0" cy="117.7" r="1.0"/><circle cx="117.6" cy="121.8" r="1.2"/><circle cx="106.6" cy="117.6" r="1.0"/><circle cx="103.0" cy="113.5" r="1.4"/></g><ellipse cx="117.8" cy="188.5" rx="4.2" ry="5" fill="#143a56" opacity="0.8" filter="url(#pb)"/><g fill="#2f6888" stroke="#102a40" stroke-width="0.45"><circle cx="112.2" cy="188.7" r="1.0"/><circle cx="121.5" cy="187.3" r="1.4"/><circle cx="115.3" cy="186.4" r="1.2"/><circle cx="114.8" cy="189.8" r="0.8"/><circle cx="115.9" cy="188.9" r="1.4"/><circle cx="120.3" cy="188.2" r="1.4"/><circle cx="119.6" cy="191.2" r="1.4"/><circle cx="119.6" cy="191.0" r="0.8"/><circle cx="111.8" cy="185.0" r="1.0"/><circle cx="116.9" cy="187.1" r="1.0"/><circle cx="117.6" cy="191.1" r="1.0"/><circle cx="114.5" cy="181.3" r="0.8"/><circle cx="115.6" cy="185.4" r="1.0"/><circle cx="119.2" cy="190.9" r="1.4"/><circle cx="120.5" cy="188.1" r="1.0"/><circle cx="116.6" cy="189.5" r="1.4"/><circle cx="118.5" cy="182.8" r="1.2"/><circle cx="113.5" cy="187.9" r="1.0"/><circle cx="115.8" cy="187.4" r="1.0"/><circle cx="120.0" cy="187.6" r="0.8"/><circle cx="116.7" cy="181.1" r="0.8"/><circle cx="118.1" cy="185.4" r="0.8"/><circle cx="117.0" cy="186.8" r="1.0"/><circle cx="119.9" cy="185.2" r="1.4"/><circle cx="119.8" cy="186.8" r="1.0"/><circle cx="117.3" cy="192.0" r="1.0"/><circle cx="113.9" cy="187.2" r="0.8"/><circle cx="114.8" cy="183.7" r="1.2"/><circle cx="118.0" cy="186.0" r="1.0"/><circle cx="117.0" cy="191.2" r="1.2"/><circle cx="118.5" cy="186.1" r="1.0"/><circle cx="113.3" cy="187.4" r="1.2"/><circle cx="122.1" cy="188.5" r="1.2"/><circle cx="115.8" cy="188.0" r="1.4"/><circle cx="116.0" cy="185.9" r="1.0"/><circle cx="119.9" cy="183.6" r="0.8"/><circle cx="112.1" cy="194.1" r="1.2"/><circle cx="118.4" cy="188.9" r="1.4"/><circle cx="115.1" cy="188.1" r="1.4"/><circle cx="109.9" cy="187.5" r="1.0"/><circle cx="117.4" cy="187.9" r="1.0"/><circle cx="119.8" cy="186.8" r="0.8"/><circle cx="115.4" cy="182.7" r="1.4"/><circle cx="118.9" cy="190.5" r="1.0"/><circle cx="117.5" cy="185.9" r="0.8"/></g><g stroke="#0808ff" stroke-width="2.1" fill="none" stroke-linecap="round"><path d="M155.4 59.2 C154.2 60.2 150.4 63.1 148.0 65.0 C145.6 66.9 143.5 68.2 140.8 70.6 C138.1 73.0 134.2 77.0 131.8 79.6 C129.4 82.2 128.1 83.5 126.2 86.2 C124.4 89.0 122.4 94.1 120.8 96.4 C119.2 98.7 118.6 98.3 116.9 100.3 C115.2 102.2 112.2 105.9 110.6 108.1 C109.0 110.3 108.4 111.5 107.5 113.6 C106.6 115.7 105.9 118.5 105.2 120.6 C104.5 122.7 104.1 123.9 103.4 126.0 C102.7 128.1 102.0 130.3 101.0 133.0 C100.0 135.7 98.6 139.5 97.5 142.0 C96.4 144.5 95.1 146.9 94.6 147.9"/><path d="M210.0 18.0 C209.6 19.0 208.2 22.2 207.5 24.0 C206.8 25.8 205.8 27.8 205.5 28.5"/><path d="M202.1 31.2 C201.3 31.7 198.9 33.2 197.6 34.2 C196.2 35.2 195.1 36.6 194.0 37.5 C192.9 38.4 191.4 39.1 190.9 39.4"/></g><g stroke="#f41010" stroke-width="1.95" fill="none" stroke-linecap="round"><path d="M127.8 111.2 C127.8 112.7 127.7 116.9 127.6 120.0 C127.5 123.1 127.4 127.0 127.2 130.0 C127.0 133.0 126.8 135.7 126.5 138.0 C126.2 140.3 126.1 141.8 125.6 144.0 C125.1 146.2 124.1 149.3 123.6 150.9 C123.1 152.5 122.7 152.9 122.5 153.3"/><path d="M131.0 133.0 L129.1 138.0"/><path d="M128.4 141.0 C128.1 142.0 127.3 145.2 126.8 147.0 C126.3 148.8 125.8 151.2 125.6 152.0"/><path d="M124.4 157.2 C124.3 158.5 123.9 162.7 123.8 165.0 C123.7 167.3 123.6 168.8 123.6 171.2 C123.6 173.8 123.9 177.5 123.8 180.0 C123.7 182.5 123.3 184.0 123.2 186.0 C123.1 188.0 122.9 190.3 123.4 192.0 C123.9 193.7 125.7 195.7 126.2 196.4"/><path d="M135.3 154.0 C135.8 155.3 137.5 159.3 138.4 161.9 C139.3 164.5 140.7 166.8 140.8 169.7 C140.9 172.5 139.8 176.4 139.2 179.0 C138.6 181.6 137.8 182.6 137.5 185.1 C137.2 187.6 136.8 191.4 137.5 194.2 C138.2 197.0 140.9 199.5 142.0 202.0 C143.1 204.5 144.1 206.7 144.3 209.0 C144.5 211.3 143.4 214.7 143.2 215.8"/><path d="M143.2 188.5 C143.8 190.2 145.8 195.9 146.6 198.7 C147.4 201.4 147.0 201.8 148.1 205.0 C149.2 208.2 151.1 214.1 153.0 218.0 C154.9 221.9 157.3 224.5 159.5 228.4 C161.7 232.3 163.8 237.6 166.0 241.5 C168.2 245.4 170.0 248.7 172.6 251.9 C175.2 255.2 180.2 259.5 181.7 261.0"/><path d="M145.4 200.0 C146.2 201.9 148.3 207.9 150.0 211.3 C151.7 214.7 154.1 218.1 155.6 220.3 C157.1 222.6 158.4 224.1 159.0 224.8"/><path d="M101.2 165.5 C101.3 167.2 101.5 172.6 101.7 176.0 C101.9 179.4 102.6 183.0 102.6 186.0 C102.6 189.0 101.8 192.7 101.7 194.0"/><path d="M97.6 193.5 C97.5 194.6 97.2 198.0 97.0 200.0 C96.8 202.0 96.6 204.6 96.5 205.5"/><path d="M130.8 198.7 C131.0 200.1 131.5 203.8 131.9 207.0 C132.3 210.2 132.4 215.0 133.0 218.0 C133.6 221.0 135.3 222.2 135.3 224.8 C135.3 227.5 133.4 230.1 133.0 233.9 C132.6 237.7 132.8 242.7 133.0 247.4 C133.2 252.1 133.9 259.6 134.1 262.0"/><path d="M131.4 211.7 C132.0 213.0 134.2 217.5 135.2 219.4 C136.1 221.3 136.8 222.6 137.1 223.2"/><path d="M139.0 207.9 C139.5 208.8 141.3 212.0 141.9 213.6 C142.5 215.2 142.7 216.8 142.8 217.4"/><path d="M143.2 224.8 C143.8 225.9 145.8 229.3 146.6 231.6 C147.3 233.9 147.5 237.3 147.7 238.4"/><path d="M102.5 200.0 L100.3 204.5"/><path d="M101.4 254.2 C101.7 255.9 103.1 261.0 103.1 264.5 C103.1 268.0 101.6 273.2 101.3 275.0"/><path d="M93.5 259.3 C92.8 259.9 90.2 261.7 89.0 263.0 C87.8 264.3 86.8 266.5 86.4 267.2"/><path d="M90.8 266.3 L90.5 277.0"/><path d="M133.8 240.0 L134.6 261.0"/><path d="M129.4 267.2 L127.6 277.0"/><path d="M92.4 259.8 L90.1 265.0"/></g><path d="M35.7 56.1L41.3 56.1L38.5 60.7ZM56.0 76.5L61.6 76.5L58.8 81.0ZM87.3 38.5L92.9 38.5L90.1 43.1ZM122.8 52.2L128.4 52.2L125.6 56.8ZM149.4 24.0L155.0 24.0L152.2 28.6ZM168.9 43.0L174.5 43.0L171.7 47.6ZM141.5 73.5L147.1 73.5L144.3 78.1ZM193.7 65.1L199.3 65.1L196.5 69.7ZM95.3 84.7L100.9 84.7L98.1 89.3ZM119.5 94.1L125.1 94.1L122.3 98.7ZM127.4 99.6L133.0 99.6L130.2 104.2ZM128.1 105.0L133.7 105.0L130.9 109.6ZM134.4 107.4L140.0 107.4L137.2 112.0ZM138.3 114.4L143.9 114.4L141.1 119.0ZM142.2 119.1L147.8 119.1L145.0 123.7ZM160.5 91.5L166.1 91.5L163.3 96.1ZM176.1 111.8L181.7 111.8L178.9 116.4ZM157.6 123.8L163.2 123.8L160.4 128.4ZM46.2 159.6L51.8 159.6L49.0 164.2ZM118.8 156.1L124.4 156.1L121.6 160.7ZM97.5 160.3L103.1 160.3L100.3 164.9ZM150.9 154.1L156.6 154.1L153.8 158.7ZM197.5 159.1L203.1 159.1L200.3 163.7ZM129.1 200.9L134.7 200.9L131.9 205.5ZM95.2 204.5L100.8 204.5L98.0 209.1ZM158.0 204.0L163.6 204.0L160.8 208.6ZM189.2 199.1L194.8 199.1L192.0 203.7ZM38.8 207.2L44.4 207.2L41.6 211.8ZM86.9 114.8L92.5 114.8L89.7 119.4ZM107.2 91.6L112.8 91.6L110.0 96.2ZM140.7 116.5L146.3 116.5L143.5 121.0ZM98.4 162.6L104.0 162.6L101.2 167.2Z" fill="#000"/><g fill="#000"><rect x="83.7" y="181.4" width="3.8" height="3.8"/><rect x="116.5" y="171.2" width="3.8" height="3.8"/><rect x="135.0" y="166.5" width="3.8" height="3.8"/><rect x="101.8" y="183.2" width="3.8" height="3.8"/><rect x="116.2" y="180.3" width="3.8" height="3.8"/><rect x="116.9" y="193.4" width="3.8" height="3.8"/><rect x="141.3" y="186.0" width="3.8" height="3.8"/><rect x="153.7" y="179.5" width="3.8" height="3.8"/><rect x="115.8" y="204.9" width="3.8" height="3.8"/><rect x="115.3" y="224.7" width="3.8" height="3.8"/><rect x="100.6" y="230.2" width="3.8" height="3.8"/><rect x="113.7" y="247.8" width="3.8" height="3.8"/><rect x="132.9" y="227.4" width="3.8" height="3.8"/><rect x="147.6" y="226.3" width="3.8" height="3.8"/><rect x="148.1" y="243.7" width="3.8" height="3.8"/><rect x="147.2" y="226.5" width="3.8" height="3.8"/><rect x="148.5" y="243.5" width="3.8" height="3.8"/><rect x="113.5" y="248.1" width="3.8" height="3.8"/></g><text transform="translate(144.0 58.6) rotate(-41.0)" text-anchor="middle" dy="0.35em" style="font-weight:bold;font-size:10.4px" fill="#000">MKF</text><text transform="translate(111.2 98.6) rotate(-51.0)" text-anchor="middle" dy="0.35em" style="font-weight:bold;font-size:10.5px" fill="#fff" stroke="#000" stroke-width="1.2" paint-order="stroke" stroke-linejoin="round">MLF</text><text transform="translate(92.0 136.6) rotate(-64.0)" text-anchor="middle" dy="0.35em" style="font-weight:bold;font-size:10.4px" fill="#000">MSF</text><text transform="translate(133.6 117.5) rotate(90.0)" text-anchor="middle" dy="0.35em" style="font-weight:bold;font-size:9.2px" fill="#fff" stroke="#000" stroke-width="1.2" paint-order="stroke" stroke-linejoin="round">PF</text><text transform="translate(146.6 161.8) rotate(72.0)" text-anchor="middle" dy="0.35em" style="font-weight:bold;font-size:10.3px" fill="#000">DKMSF</text><text transform="translate(129.6 178.2) rotate(82.0)" text-anchor="middle" dy="0.35em" style="font-weight:bold;font-size:10.0px" fill="#000">WNF</text><text transform="translate(94.2 180.0) rotate(-90.0)" text-anchor="middle" dy="0.35em" style="font-weight:bold;font-size:10.4px" fill="#000">WKLF</text><text transform="translate(160.6 242.3) rotate(53.0)" text-anchor="middle" dy="0.35em" style="font-weight:bold;font-size:10.8px" fill="#000">PYF</text></g><text x="16.8" y="52.0" text-anchor="end" dy="0.35em" class="mt">20°N</text><text x="16.8" y="97.4" text-anchor="end" dy="0.35em" class="mt">45'</text><text x="16.8" y="144.0" text-anchor="end" dy="0.35em" class="mt">30'</text><text x="16.8" y="189.4" text-anchor="end" dy="0.35em" class="mt">15'</text><text x="16.8" y="235.2" text-anchor="end" dy="0.35em" class="mt">19°N</text><text x="16.8" y="280.0" text-anchor="end" dy="0.35em" class="mt">45'</text><text x="53.4" y="287.6" text-anchor="middle" class="mt">15'</text><text x="96.3" y="287.6" text-anchor="middle" class="mt">30'</text><text x="139.5" y="287.6" text-anchor="middle" class="mt">45'</text><text x="182.8" y="287.6" text-anchor="middle" class="mt">100°E</text><text x="225.8" y="287.6" text-anchor="middle" class="mt">15'</text>
<text x="19.0" y="7.7" class="ti" style="font-size:9.0px">a) MT stations and earthquake occurrences</text>
<text x="264.6" y="7.7" class="ti">b) Initial RMS</text>
<text x="474.0" y="7.7" class="ti">c) Final RMS</text>
<path d="M277.15 17.80V208.00M299.70 17.80V208.00M322.25 17.80V208.00M344.80 17.80V208.00M367.35 17.80V208.00M389.90 17.80V208.00M412.45 17.80V208.00M265.90 197.28H435.00M265.90 174.84H435.00M265.90 152.40H435.00M265.90 129.96H435.00M265.90 107.52H435.00M265.90 85.08H435.00M265.90 62.64H435.00M265.90 40.20H435.00" stroke="#e4e4e4" stroke-width="0.6" fill="none"/><g stroke="#333" stroke-width="0.4"><rect x="319.00" y="147.60" width="5.20" height="5.20" fill="#800000"/><rect x="330.70" y="148.80" width="5.20" height="5.20" fill="#800000"/><rect x="341.40" y="140.50" width="5.20" height="5.20" fill="#40e0d0"/><rect x="341.40" y="148.00" width="5.20" height="5.20" fill="#40f0d0"/><rect x="341.40" y="156.00" width="5.20" height="5.20" fill="#20a0f0"/><rect x="340.70" y="163.30" width="5.20" height="5.20" fill="#e0e020"/><rect x="354.10" y="136.90" width="5.20" height="5.20" fill="#f0a010"/><rect x="366.80" y="145.90" width="5.20" height="5.20" fill="#f0b010"/><rect x="358.40" y="150.80" width="5.20" height="5.20" fill="#800000"/><rect x="330.20" y="180.50" width="5.20" height="5.20" fill="#800000"/><rect x="340.70" y="176.50" width="5.20" height="5.20" fill="#40f0d8"/><rect x="352.50" y="178.60" width="5.20" height="5.20" fill="#800000"/><rect x="362.60" y="177.70" width="5.20" height="5.20" fill="#f0d000"/><rect x="363.20" y="189.80" width="5.20" height="5.20" fill="#20d0f0"/><rect x="339.40" y="192.50" width="5.20" height="5.20" fill="#f06000"/><path d="M284.80 61.70L292.80 61.70L288.80 68.50Z" fill="#0a14e6"/><path d="M319.90 48.80L327.90 48.80L323.90 55.60Z" fill="#800000"/><path d="M298.90 75.90L306.90 75.90L302.90 82.70Z" fill="#e6f000"/><path d="M362.50 40.80L370.50 40.80L366.50 47.60Z" fill="#1a7fff"/><path d="M376.00 52.60L384.00 52.60L380.00 59.40Z" fill="#0000e0"/><path d="M344.40 59.20L352.40 59.20L348.40 66.00Z" fill="#1ab0f0"/><path d="M393.00 67.90L401.00 67.90L397.00 74.70Z" fill="#1040ff"/><path d="M357.50 73.40L365.50 73.40L361.50 80.20Z" fill="#20a0ff"/><path d="M326.50 81.90L334.50 81.90L330.50 88.70Z" fill="#1030f0"/><path d="M334.30 86.80L342.30 86.80L338.30 93.60Z" fill="#1a80ff"/><path d="M342.20 88.20L350.20 88.20L346.20 95.00Z" fill="#0a30e0"/><path d="M347.90 91.40L355.90 91.40L351.90 98.20Z" fill="#1a70f0"/><path d="M349.50 94.40L357.50 94.40L353.50 101.20Z" fill="#1a80ff"/><path d="M353.40 97.00L361.40 97.00L357.40 103.80Z" fill="#0a20e0"/><path d="M355.30 102.00L363.30 102.00L359.30 108.80Z" fill="#2080ff"/><path d="M357.40 102.80L365.40 102.80L361.40 109.60Z" fill="#1050f0"/><path d="M358.80 105.60L366.80 105.60L362.80 112.40Z" fill="#1040f0"/><path d="M368.60 108.00L376.60 108.00L372.60 114.80Z" fill="#0a10e0"/><path d="M370.40 85.80L378.40 85.80L374.40 92.60Z" fill="#0000c8"/><path d="M320.40 102.80L328.40 102.80L324.40 109.60Z" fill="#0a20f0"/><path d="M381.10 100.20L389.10 100.20L385.10 107.00Z" fill="#1040ff"/><path d="M292.20 133.00L300.20 133.00L296.20 139.80Z" fill="#20c8f0"/><path d="M327.80 134.40L335.80 134.40L331.80 141.20Z" fill="#1050ff"/><path d="M342.20 130.00L350.20 130.00L346.20 136.80Z" fill="#0010f0"/><path d="M363.90 128.70L371.90 128.70L367.90 135.50Z" fill="#0828f0"/><path d="M396.40 131.80L404.40 131.80L400.40 138.60Z" fill="#20a0f0"/><path d="M287.10 165.20L295.10 165.20L291.10 172.00Z" fill="#1050f0"/><path d="M326.00 162.90L334.00 162.90L330.00 169.70Z" fill="#20d0f0"/><path d="M349.20 161.30L357.20 161.30L353.20 168.10Z" fill="#90e060"/><path d="M368.60 163.00L376.60 163.00L372.60 169.80Z" fill="#0010f0"/><path d="M390.80 159.50L398.80 159.50L394.80 166.30Z" fill="#0820f0"/></g><rect x="265.90" y="17.80" width="169.10" height="190.20" fill="none" stroke="#262626" stroke-width="0.6"/><path d="M277.15 208.00v-1.7M277.15 17.80v1.7M299.70 208.00v-1.7M299.70 17.80v1.7M322.25 208.00v-1.7M322.25 17.80v1.7M344.80 208.00v-1.7M344.80 17.80v1.7M367.35 208.00v-1.7M367.35 17.80v1.7M389.90 208.00v-1.7M389.90 17.80v1.7M412.45 208.00v-1.7M412.45 17.80v1.7M435.00 208.00v-1.7M435.00 17.80v1.7M265.90 197.28h1.7M435.00 197.28h-1.7M265.90 174.84h1.7M435.00 174.84h-1.7M265.90 152.40h1.7M435.00 152.40h-1.7M265.90 129.96h1.7M435.00 129.96h-1.7M265.90 107.52h1.7M435.00 107.52h-1.7M265.90 85.08h1.7M435.00 85.08h-1.7M265.90 62.64h1.7M435.00 62.64h-1.7M265.90 40.20h1.7M435.00 40.20h-1.7M265.90 17.76h1.7M435.00 17.76h-1.7" stroke="#262626" stroke-width="0.6"/><text x="277.15" y="219.3" class="tk" text-anchor="middle">-60</text><text x="299.70" y="219.3" class="tk" text-anchor="middle">-40</text><text x="322.25" y="219.3" class="tk" text-anchor="middle">-20</text><text x="344.80" y="219.3" class="tk" text-anchor="middle">0</text><text x="367.35" y="219.3" class="tk" text-anchor="middle">20</text><text x="389.90" y="219.3" class="tk" text-anchor="middle">40</text><text x="412.45" y="219.3" class="tk" text-anchor="middle">60</text><text x="435.00" y="219.3" class="tk" text-anchor="middle">80</text><text x="263.30" y="200.08" class="tk" text-anchor="end">-40</text><text x="263.30" y="177.64" class="tk" text-anchor="end">-20</text><text x="263.30" y="155.20" class="tk" text-anchor="end">0</text><text x="263.30" y="132.76" class="tk" text-anchor="end">20</text><text x="263.30" y="110.32" class="tk" text-anchor="end">40</text><text x="263.30" y="87.88" class="tk" text-anchor="end">60</text><text x="263.30" y="65.44" class="tk" text-anchor="end">80</text><text x="263.30" y="43.00" class="tk" text-anchor="end">100</text><text x="263.30" y="20.56" class="tk" text-anchor="end">120</text><text x="350.45" y="231.0" class="lb" text-anchor="middle">Easting [km]</text><text transform="translate(246.00 112.5) rotate(-90)" class="lb" text-anchor="middle">Northing [km]</text>
<path d="M485.75 17.80V208.00M508.30 17.80V208.00M530.85 17.80V208.00M553.40 17.80V208.00M575.95 17.80V208.00M598.50 17.80V208.00M621.05 17.80V208.00M474.50 197.28H643.60M474.50 174.84H643.60M474.50 152.40H643.60M474.50 129.96H643.60M474.50 107.52H643.60M474.50 85.08H643.60M474.50 62.64H643.60M474.50 40.20H643.60" stroke="#e4e4e4" stroke-width="0.6" fill="none"/><g stroke="#333" stroke-width="0.4"><rect x="527.60" y="147.60" width="5.20" height="5.20" fill="#70f080"/><rect x="539.30" y="148.80" width="5.20" height="5.20" fill="#20b0f0"/><rect x="550.00" y="140.50" width="5.20" height="5.20" fill="#1040f0"/><rect x="550.00" y="148.00" width="5.20" height="5.20" fill="#0010e0"/><rect x="550.00" y="156.00" width="5.20" height="5.20" fill="#1020e0"/><rect x="549.30" y="163.30" width="5.20" height="5.20" fill="#80e080"/><rect x="562.70" y="136.90" width="5.20" height="5.20" fill="#20a0f0"/><rect x="575.40" y="145.90" width="5.20" height="5.20" fill="#1040f0"/><rect x="567.00" y="150.80" width="5.20" height="5.20" fill="#0010e0"/><rect x="538.80" y="180.50" width="5.20" height="5.20" fill="#1030f0"/><rect x="549.30" y="176.50" width="5.20" height="5.20" fill="#1060f0"/><rect x="561.10" y="178.60" width="5.20" height="5.20" fill="#40f0e0"/><rect x="571.20" y="177.70" width="5.20" height="5.20" fill="#60e0a0"/><rect x="571.80" y="189.80" width="5.20" height="5.20" fill="#1030f0"/><rect x="548.00" y="192.50" width="5.20" height="5.20" fill="#0010f0"/><path d="M493.40 61.70L501.40 61.70L497.40 68.50Z" fill="#0c0c8c"/><path d="M528.50 48.80L536.50 48.80L532.50 55.60Z" fill="#0a10e8"/><path d="M507.50 75.90L515.50 75.90L511.50 82.70Z" fill="#0010e0"/><path d="M571.10 40.80L579.10 40.80L575.10 47.60Z" fill="#0818e0"/><path d="M584.60 52.60L592.60 52.60L588.60 59.40Z" fill="#0010d8"/><path d="M553.00 59.20L561.00 59.20L557.00 66.00Z" fill="#1a80f0"/><path d="M601.60 67.90L609.60 67.90L605.60 74.70Z" fill="#0010d0"/><path d="M566.10 73.40L574.10 73.40L570.10 80.20Z" fill="#0818f0"/><path d="M535.10 81.90L543.10 81.90L539.10 88.70Z" fill="#0818e8"/><path d="M542.90 86.80L550.90 86.80L546.90 93.60Z" fill="#0818e8"/><path d="M550.80 88.20L558.80 88.20L554.80 95.00Z" fill="#0808b0"/><path d="M556.50 91.40L564.50 91.40L560.50 98.20Z" fill="#1030f0"/><path d="M558.10 94.40L566.10 94.40L562.10 101.20Z" fill="#1040f0"/><path d="M562.00 97.00L570.00 97.00L566.00 103.80Z" fill="#0818d0"/><path d="M563.90 102.00L571.90 102.00L567.90 108.80Z" fill="#1030f0"/><path d="M566.00 102.80L574.00 102.80L570.00 109.60Z" fill="#1040f0"/><path d="M567.40 105.60L575.40 105.60L571.40 112.40Z" fill="#1030f0"/><path d="M577.20 108.00L585.20 108.00L581.20 114.80Z" fill="#0010e0"/><path d="M579.00 85.80L587.00 85.80L583.00 92.60Z" fill="#0808c0"/><path d="M529.00 102.80L537.00 102.80L533.00 109.60Z" fill="#0818e8"/><path d="M589.70 100.20L597.70 100.20L593.70 107.00Z" fill="#0818e8"/><path d="M500.80 133.00L508.80 133.00L504.80 139.80Z" fill="#0830f0"/><path d="M536.40 134.40L544.40 134.40L540.40 141.20Z" fill="#1030f0"/><path d="M550.80 130.00L558.80 130.00L554.80 136.80Z" fill="#0000d0"/><path d="M572.50 128.70L580.50 128.70L576.50 135.50Z" fill="#0000d0"/><path d="M605.00 131.80L613.00 131.80L609.00 138.60Z" fill="#0818e0"/><path d="M495.70 165.20L503.70 165.20L499.70 172.00Z" fill="#0000c0"/><path d="M534.60 162.90L542.60 162.90L538.60 169.70Z" fill="#1040f0"/><path d="M557.80 161.30L565.80 161.30L561.80 168.10Z" fill="#0000c8"/><path d="M577.20 163.00L585.20 163.00L581.20 169.80Z" fill="#0000c8"/><path d="M599.40 159.50L607.40 159.50L603.40 166.30Z" fill="#0000d0"/></g><rect x="474.50" y="17.80" width="169.10" height="190.20" fill="none" stroke="#262626" stroke-width="0.6"/><path d="M485.75 208.00v-1.7M485.75 17.80v1.7M508.30 208.00v-1.7M508.30 17.80v1.7M530.85 208.00v-1.7M530.85 17.80v1.7M553.40 208.00v-1.7M553.40 17.80v1.7M575.95 208.00v-1.7M575.95 17.80v1.7M598.50 208.00v-1.7M598.50 17.80v1.7M621.05 208.00v-1.7M621.05 17.80v1.7M643.60 208.00v-1.7M643.60 17.80v1.7M474.50 197.28h1.7M643.60 197.28h-1.7M474.50 174.84h1.7M643.60 174.84h-1.7M474.50 152.40h1.7M643.60 152.40h-1.7M474.50 129.96h1.7M643.60 129.96h-1.7M474.50 107.52h1.7M643.60 107.52h-1.7M474.50 85.08h1.7M643.60 85.08h-1.7M474.50 62.64h1.7M643.60 62.64h-1.7M474.50 40.20h1.7M643.60 40.20h-1.7M474.50 17.76h1.7M643.60 17.76h-1.7" stroke="#262626" stroke-width="0.6"/><text x="485.75" y="219.3" class="tk" text-anchor="middle">-60</text><text x="508.30" y="219.3" class="tk" text-anchor="middle">-40</text><text x="530.85" y="219.3" class="tk" text-anchor="middle">-20</text><text x="553.40" y="219.3" class="tk" text-anchor="middle">0</text><text x="575.95" y="219.3" class="tk" text-anchor="middle">20</text><text x="598.50" y="219.3" class="tk" text-anchor="middle">40</text><text x="621.05" y="219.3" class="tk" text-anchor="middle">60</text><text x="643.60" y="219.3" class="tk" text-anchor="middle">80</text><text x="471.90" y="200.08" class="tk" text-anchor="end">-40</text><text x="471.90" y="177.64" class="tk" text-anchor="end">-20</text><text x="471.90" y="155.20" class="tk" text-anchor="end">0</text><text x="471.90" y="132.76" class="tk" text-anchor="end">20</text><text x="471.90" y="110.32" class="tk" text-anchor="end">40</text><text x="471.90" y="87.88" class="tk" text-anchor="end">60</text><text x="471.90" y="65.44" class="tk" text-anchor="end">80</text><text x="471.90" y="43.00" class="tk" text-anchor="end">100</text><text x="471.90" y="20.56" class="tk" text-anchor="end">120</text><text x="559.05" y="231.0" class="lb" text-anchor="middle">Easting [km]</text><text transform="translate(454.60 112.5) rotate(-90)" class="lb" text-anchor="middle">Northing [km]</text>
<defs><linearGradient id="jet" x1="0" y1="0" x2="0" y2="1"><stop offset="0.000" stop-color="#800000"/><stop offset="0.031" stop-color="#9f0000"/><stop offset="0.062" stop-color="#bf0000"/><stop offset="0.094" stop-color="#df0000"/><stop offset="0.125" stop-color="#ff0000"/><stop offset="0.156" stop-color="#ff2000"/><stop offset="0.188" stop-color="#ff4000"/><stop offset="0.219" stop-color="#ff6000"/><stop offset="0.250" stop-color="#ff8000"/><stop offset="0.281" stop-color="#ff9f00"/><stop offset="0.312" stop-color="#ffbf00"/><stop offset="0.344" stop-color="#ffdf00"/><stop offset="0.375" stop-color="#ffff00"/><stop offset="0.406" stop-color="#dfff20"/><stop offset="0.438" stop-color="#bfff40"/><stop offset="0.469" stop-color="#9fff60"/><stop offset="0.500" stop-color="#80ff80"/><stop offset="0.531" stop-color="#60ff9f"/><stop offset="0.562" stop-color="#40ffbf"/><stop offset="0.594" stop-color="#20ffdf"/><stop offset="0.625" stop-color="#00ffff"/><stop offset="0.656" stop-color="#00dfff"/><stop offset="0.688" stop-color="#00bfff"/><stop offset="0.719" stop-color="#009fff"/><stop offset="0.750" stop-color="#0080ff"/><stop offset="0.781" stop-color="#0060ff"/><stop offset="0.812" stop-color="#0040ff"/><stop offset="0.844" stop-color="#0020ff"/><stop offset="0.875" stop-color="#0000ff"/><stop offset="0.906" stop-color="#0000df"/><stop offset="0.938" stop-color="#0000bf"/><stop offset="0.969" stop-color="#00009f"/><stop offset="1.000" stop-color="#000080"/></linearGradient></defs>
<rect x="654.0" y="17.70" width="12.2" height="189.90" fill="url(#jet)" stroke="#262626" stroke-width="0.5"/>
<text x="669.2" y="210.40" class="tk">0</text>
<path d="M666.2 207.60h-1.5" stroke="#262626" stroke-width="0.5"/>
<text x="669.2" y="186.66" class="tk">1</text>
<path d="M666.2 183.86h-1.5" stroke="#262626" stroke-width="0.5"/>
<text x="669.2" y="162.93" class="tk">2</text>
<path d="M666.2 160.12h-1.5" stroke="#262626" stroke-width="0.5"/>
<text x="669.2" y="139.19" class="tk">3</text>
<path d="M666.2 136.39h-1.5" stroke="#262626" stroke-width="0.5"/>
<text x="669.2" y="115.45" class="tk">4</text>
<path d="M666.2 112.65h-1.5" stroke="#262626" stroke-width="0.5"/>
<text x="669.2" y="91.71" class="tk">5</text>
<path d="M666.2 88.91h-1.5" stroke="#262626" stroke-width="0.5"/>
<text x="669.2" y="67.97" class="tk">6</text>
<path d="M666.2 65.17h-1.5" stroke="#262626" stroke-width="0.5"/>
<text x="669.2" y="44.24" class="tk">7</text>
<path d="M666.2 41.44h-1.5" stroke="#262626" stroke-width="0.5"/>
<text x="669.2" y="20.50" class="tk">8</text>
<path d="M666.2 17.70h-1.5" stroke="#262626" stroke-width="0.5"/>
<text transform="translate(684.4 111.8) rotate(-90)" class="lb" text-anchor="middle" style="font-size:9px">RMS Misfit</text>
<text x="264.6" y="244.6" class="sy">Symbols</text>
<path d="M265.85 255.05L272.15 255.05L269.00 259.95Z" fill="#000"/>
<rect x="266.3" y="267.5" width="5" height="5" fill="#0a1e30" stroke="#2a6080" stroke-width="0.5"/>
<text x="278.2" y="260.7" class="lg">MT stations (Boonchaisuk et al., 2017)</text>
<text x="278.2" y="273.0" class="lg">MT stations (This study)</text>
</svg>
</body></html>
